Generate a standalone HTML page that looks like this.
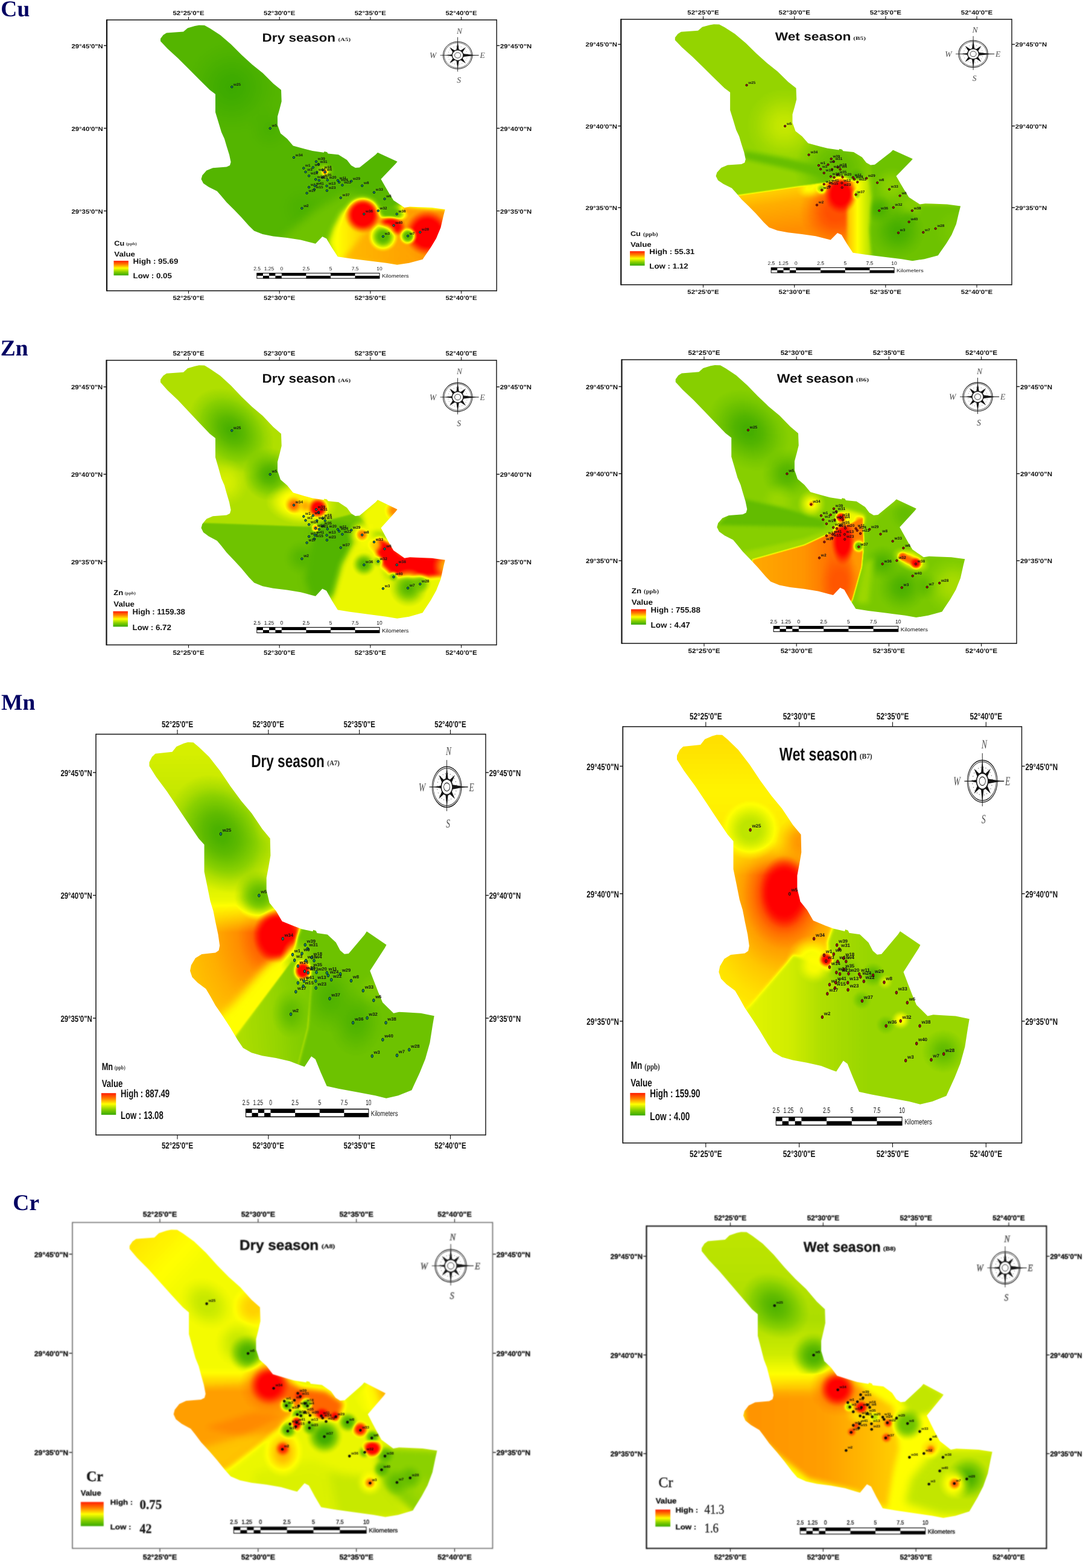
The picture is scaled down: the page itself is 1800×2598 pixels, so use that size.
<!DOCTYPE html>
<html lang="en"><head><meta charset="utf-8"><title>Spatial distribution of Cu, Zn, Mn, Cr</title>
<style>html,body{margin:0;padding:0;background:#fff}body{width:1800px;height:2598px;overflow:hidden}svg{display:block}text{white-space:pre}.pb text{stroke:#111;stroke-width:.3px}.pb text.wl{stroke:none}</style>
</head><body>
<svg width="1800" height="2598" viewBox="0 0 1800 2598" text-rendering="geometricPrecision">
<defs>
<clipPath id="clip1"><path transform="matrix(1.0000,0,0,1.0000,0,0)" d="M266 64 L270.5 58 L276 54.5 L304 52.5 L311 46.5 L323 43 L330 41.7 L339 42 L348 47 L365 58 L383 73.5 L400.5 91 L418 107 L435.5 121 L453 138.5 L466 149 L466.7 168 L463.5 180.5 L460 193 L460 207 L465 221 L476 230 L485.8 241.4 L505 246.7 L518 250 L536.7 252.8 L537.5 251 L542 252 L543.7 254.6 L561 256.3 L575 265 L582 274 L589 278 L596 277.4 L622.6 256.3 L626 252.8 L658.6 267.7 L656 271 L631.4 296.7 L638.4 309 L645.4 321 L648 325 L652.3 332 L661.4 338 L670.4 344 L679.4 342.6 L690 343 L715.5 344 L737.7 347 L735 357.6 L730.5 377 L723 395 L714 410 L703.5 425.3 L700.5 429.8 L678 435.8 L658.3 438.8 L640.3 435.8 L610 432 L580 428.3 L559.8 425.3 L550 410.2 L541 395.2 L534.3 392 L523 403.7 L516 402 L498.4 397.5 L475.6 394 L452.8 391.4 L435.3 388 L421.2 382.6 L412.5 374 L400 360 L388 347.5 L375.6 335.3 L366.8 324.7 L359.8 316.8 L345.8 309.8 L337 303.7 L333.5 296.7 L335.3 290.5 L342.3 282.6 L352.8 278.2 L375.6 276.5 L381 274 L382.6 268.6 L380 256.3 L375.6 242.3 L372 230 L367 219 L361.8 201.7 L357 186 L357 156 L347.7 149 L330 131.5 L312.6 114 L295 96.4 L277.5 80.6 L266 68.3Z"/></clipPath>
<filter id="ramp1" filterUnits="userSpaceOnUse" x="254" y="29.7" width="495.7" height="421.1" color-interpolation-filters="sRGB"><feGaussianBlur stdDeviation="1.2"/><feComponentTransfer><feFuncR type="table" tableValues="0.220 0.302 0.384 0.463 0.545 0.659 0.773 0.886 1.000 1.000 1.000 1.000 1.000 1.000 1.000 1.000 1.000"/><feFuncG type="table" tableValues="0.659 0.698 0.737 0.780 0.820 0.863 0.910 0.957 1.000 0.875 0.753 0.627 0.502 0.376 0.251 0.125 0.000"/><feFuncB type="table" tableValues="0.000 0.000 0.000 0.000 0.000 0.000 0.000 0.000 0.000 0.000 0.000 0.000 0.000 0.000 0.000 0.000 0.000"/></feComponentTransfer></filter>
<radialGradient id="rg1" gradientUnits="userSpaceOnUse" cx="384" cy="144" r="80"><stop offset="0" stop-color="#000000" stop-opacity="0.9"/><stop offset="0.25" stop-color="#000000" stop-opacity="0.72"/><stop offset="0.5" stop-color="#000000" stop-opacity="0.45"/><stop offset="0.75" stop-color="#000000" stop-opacity="0.18"/><stop offset="1" stop-color="#000000" stop-opacity="0"/></radialGradient>
<radialGradient id="rg2" gradientUnits="userSpaceOnUse" cx="447" cy="213" r="40"><stop offset="0" stop-color="#080808" stop-opacity="0.6"/><stop offset="0.25" stop-color="#080808" stop-opacity="0.48"/><stop offset="0.5" stop-color="#080808" stop-opacity="0.3"/><stop offset="0.75" stop-color="#080808" stop-opacity="0.12"/><stop offset="1" stop-color="#080808" stop-opacity="0"/></radialGradient>
<radialGradient id="rg3" gradientUnits="userSpaceOnUse" cx="500" cy="345" r="40"><stop offset="0" stop-color="#080808" stop-opacity="0.5"/><stop offset="0.25" stop-color="#080808" stop-opacity="0.4"/><stop offset="0.5" stop-color="#080808" stop-opacity="0.25"/><stop offset="0.75" stop-color="#080808" stop-opacity="0.1"/><stop offset="1" stop-color="#080808" stop-opacity="0"/></radialGradient>
<filter id="b7" x="-50%" y="-50%" width="200%" height="200%" color-interpolation-filters="sRGB"><feGaussianBlur stdDeviation="7"/></filter>
<linearGradient id="lg4" gradientUnits="userSpaceOnUse" x1="546" y1="390" x2="740" y2="390"><stop offset="0" stop-color="#787878"/><stop offset="0.25" stop-color="#949494"/><stop offset="0.6" stop-color="#adadad"/><stop offset="1" stop-color="#b8b8b8"/></linearGradient>
<filter id="b4" x="-50%" y="-50%" width="200%" height="200%" color-interpolation-filters="sRGB"><feGaussianBlur stdDeviation="4"/></filter>
<filter id="b5" x="-50%" y="-50%" width="200%" height="200%" color-interpolation-filters="sRGB"><feGaussianBlur stdDeviation="5"/></filter>
<radialGradient id="rg5" gradientUnits="userSpaceOnUse" cx="640" cy="332" r="36" gradientTransform="translate(640,332) rotate(0) scale(1,0.8000) translate(-640,-332)"><stop offset="0" stop-color="#1a1a1a"/><stop offset="0.4" stop-color="#1a1a1a"/><stop offset="0.55" stop-color="#1a1a1a" stop-opacity="0.8"/><stop offset="0.7" stop-color="#1a1a1a" stop-opacity="0.5"/><stop offset="0.85" stop-color="#1a1a1a" stop-opacity="0.2"/><stop offset="1" stop-color="#1a1a1a" stop-opacity="0"/></radialGradient>
<radialGradient id="rg6" gradientUnits="userSpaceOnUse" cx="646" cy="352" r="32" gradientTransform="translate(646,352) rotate(10) scale(1,0.4500) translate(-646,-352)"><stop offset="0" stop-color="#1f1f1f"/><stop offset="0.4" stop-color="#1f1f1f"/><stop offset="0.55" stop-color="#1f1f1f" stop-opacity="0.8"/><stop offset="0.7" stop-color="#1f1f1f" stop-opacity="0.5"/><stop offset="0.85" stop-color="#1f1f1f" stop-opacity="0.2"/><stop offset="1" stop-color="#1f1f1f" stop-opacity="0"/></radialGradient>
<radialGradient id="rg7" gradientUnits="userSpaceOnUse" cx="538" cy="284" r="16"><stop offset="0" stop-color="#737373" stop-opacity="0.9"/><stop offset="0.25" stop-color="#737373" stop-opacity="0.72"/><stop offset="0.5" stop-color="#737373" stop-opacity="0.45"/><stop offset="0.75" stop-color="#737373" stop-opacity="0.18"/><stop offset="1" stop-color="#737373" stop-opacity="0"/></radialGradient>
<radialGradient id="rg8" gradientUnits="userSpaceOnUse" cx="538.5" cy="285" r="6"><stop offset="0" stop-color="#d9d9d9"/><stop offset="0.3" stop-color="#d9d9d9"/><stop offset="0.47" stop-color="#d9d9d9" stop-opacity="0.8"/><stop offset="0.65" stop-color="#d9d9d9" stop-opacity="0.5"/><stop offset="0.82" stop-color="#d9d9d9" stop-opacity="0.2"/><stop offset="1" stop-color="#d9d9d9" stop-opacity="0"/></radialGradient>
<radialGradient id="rg9" gradientUnits="userSpaceOnUse" cx="601.5" cy="356" r="36"><stop offset="0" stop-color="#999999" stop-opacity="0.8"/><stop offset="0.3" stop-color="#999999" stop-opacity="0.8"/><stop offset="0.47" stop-color="#999999" stop-opacity="0.64"/><stop offset="0.65" stop-color="#999999" stop-opacity="0.4"/><stop offset="0.82" stop-color="#999999" stop-opacity="0.16"/><stop offset="1" stop-color="#999999" stop-opacity="0"/></radialGradient>
<radialGradient id="rg10" gradientUnits="userSpaceOnUse" cx="601.5" cy="356" r="31"><stop offset="0" stop-color="#ffffff"/><stop offset="0.54" stop-color="#ffffff"/><stop offset="0.66" stop-color="#ffffff" stop-opacity="0.8"/><stop offset="0.77" stop-color="#ffffff" stop-opacity="0.5"/><stop offset="0.89" stop-color="#ffffff" stop-opacity="0.2"/><stop offset="1" stop-color="#ffffff" stop-opacity="0"/></radialGradient>
<radialGradient id="rg11" gradientUnits="userSpaceOnUse" cx="650" cy="374" r="24" gradientTransform="translate(650,374) rotate(15) scale(1,0.7000) translate(-650,-374)"><stop offset="0" stop-color="#ffffff"/><stop offset="0.5" stop-color="#ffffff"/><stop offset="0.62" stop-color="#ffffff" stop-opacity="0.8"/><stop offset="0.75" stop-color="#ffffff" stop-opacity="0.5"/><stop offset="0.88" stop-color="#ffffff" stop-opacity="0.2"/><stop offset="1" stop-color="#ffffff" stop-opacity="0"/></radialGradient>
<radialGradient id="rg12" gradientUnits="userSpaceOnUse" cx="708" cy="386" r="38"><stop offset="0" stop-color="#ffffff"/><stop offset="0.58" stop-color="#ffffff"/><stop offset="0.68" stop-color="#ffffff" stop-opacity="0.8"/><stop offset="0.79" stop-color="#ffffff" stop-opacity="0.5"/><stop offset="0.9" stop-color="#ffffff" stop-opacity="0.2"/><stop offset="1" stop-color="#ffffff" stop-opacity="0"/></radialGradient>
<radialGradient id="rg13" gradientUnits="userSpaceOnUse" cx="635" cy="392" r="25"><stop offset="0" stop-color="#1a1a1a"/><stop offset="0.3" stop-color="#1a1a1a"/><stop offset="0.47" stop-color="#1a1a1a" stop-opacity="0.8"/><stop offset="0.65" stop-color="#1a1a1a" stop-opacity="0.5"/><stop offset="0.82" stop-color="#1a1a1a" stop-opacity="0.2"/><stop offset="1" stop-color="#1a1a1a" stop-opacity="0"/></radialGradient>
<radialGradient id="rg14" gradientUnits="userSpaceOnUse" cx="676.4" cy="391" r="15"><stop offset="0" stop-color="#1a1a1a"/><stop offset="0.35" stop-color="#1a1a1a"/><stop offset="0.51" stop-color="#1a1a1a" stop-opacity="0.8"/><stop offset="0.68" stop-color="#1a1a1a" stop-opacity="0.5"/><stop offset="0.84" stop-color="#1a1a1a" stop-opacity="0.2"/><stop offset="1" stop-color="#1a1a1a" stop-opacity="0"/></radialGradient>
<linearGradient id="lg15" x1="0" y1="0" x2="0" y2="1"><stop offset="0" stop-color="#ff1a00"/><stop offset="0.25" stop-color="#ff8000"/><stop offset="0.5" stop-color="#ffff00"/><stop offset="0.75" stop-color="#8bd100"/><stop offset="1" stop-color="#38a800"/></linearGradient>
<clipPath id="clip2"><path transform="matrix(1.0033,0,0,0.9872,851.96,-1.04)" d="M266 64 L270.5 58 L276 54.5 L304 52.5 L311 46.5 L323 43 L330 41.7 L339 42 L348 47 L365 58 L383 73.5 L400.5 91 L418 107 L435.5 121 L453 138.5 L466 149 L466.7 168 L463.5 180.5 L460 193 L460 207 L465 221 L476 230 L485.8 241.4 L505 246.7 L518 250 L536.7 252.8 L537.5 251 L542 252 L543.7 254.6 L561 256.3 L575 265 L582 274 L589 278 L596 277.4 L622.6 256.3 L626 252.8 L658.6 267.7 L656 271 L631.4 296.7 L638.4 309 L645.4 321 L648 325 L652.3 332 L661.4 338 L670.4 344 L679.4 342.6 L690 343 L715.5 344 L737.7 347 L735 357.6 L730.5 377 L723 395 L714 410 L703.5 425.3 L700.5 429.8 L678 435.8 L658.3 438.8 L640.3 435.8 L610 432 L580 428.3 L559.8 425.3 L550 410.2 L541 395.2 L534.3 392 L523 403.7 L516 402 L498.4 397.5 L475.6 394 L452.8 391.4 L435.3 388 L421.2 382.6 L412.5 374 L400 360 L388 347.5 L375.6 335.3 L366.8 324.7 L359.8 316.8 L345.8 309.8 L337 303.7 L333.5 296.7 L335.3 290.5 L342.3 282.6 L352.8 278.2 L375.6 276.5 L381 274 L382.6 268.6 L380 256.3 L375.6 242.3 L372 230 L367 219 L361.8 201.7 L357 186 L357 156 L347.7 149 L330 131.5 L312.6 114 L295 96.4 L277.5 80.6 L266 68.3Z"/></clipPath>
<filter id="ramp2" filterUnits="userSpaceOnUse" x="1106.85" y="28.13" width="497.27" height="416.03" color-interpolation-filters="sRGB"><feGaussianBlur stdDeviation="1.2"/><feComponentTransfer><feFuncR type="table" tableValues="0.220 0.302 0.384 0.463 0.545 0.659 0.773 0.886 1.000 1.000 1.000 1.000 1.000 1.000 1.000 1.000 1.000"/><feFuncG type="table" tableValues="0.659 0.698 0.737 0.780 0.820 0.863 0.910 0.957 1.000 0.875 0.753 0.627 0.502 0.376 0.251 0.125 0.000"/><feFuncB type="table" tableValues="0.000 0.000 0.000 0.000 0.000 0.000 0.000 0.000 0.000 0.000 0.000 0.000 0.000 0.000 0.000 0.000 0.000"/></feComponentTransfer></filter>
<radialGradient id="rg16" gradientUnits="userSpaceOnUse" cx="1300" cy="208" r="62"><stop offset="0" stop-color="#616161"/><stop offset="0.05" stop-color="#616161"/><stop offset="0.29" stop-color="#616161" stop-opacity="0.8"/><stop offset="0.53" stop-color="#616161" stop-opacity="0.5"/><stop offset="0.76" stop-color="#616161" stop-opacity="0.2"/><stop offset="1" stop-color="#616161" stop-opacity="0"/></radialGradient>
<radialGradient id="rg17" gradientUnits="userSpaceOnUse" cx="1388" cy="280" r="72"><stop offset="0" stop-color="#242424"/><stop offset="0.3" stop-color="#242424"/><stop offset="0.47" stop-color="#242424" stop-opacity="0.8"/><stop offset="0.65" stop-color="#242424" stop-opacity="0.5"/><stop offset="0.82" stop-color="#242424" stop-opacity="0.2"/><stop offset="1" stop-color="#242424" stop-opacity="0"/></radialGradient>
<filter id="b3" x="-50%" y="-50%" width="200%" height="200%" color-interpolation-filters="sRGB"><feGaussianBlur stdDeviation="3"/></filter>
<filter id="b2_5" x="-50%" y="-50%" width="200%" height="200%" color-interpolation-filters="sRGB"><feGaussianBlur stdDeviation="2.5"/></filter>
<radialGradient id="rg18" gradientUnits="userSpaceOnUse" cx="1478" cy="308" r="32"><stop offset="0" stop-color="#454545" stop-opacity="0.8"/><stop offset="0.2" stop-color="#454545" stop-opacity="0.8"/><stop offset="0.4" stop-color="#454545" stop-opacity="0.64"/><stop offset="0.6" stop-color="#454545" stop-opacity="0.4"/><stop offset="0.8" stop-color="#454545" stop-opacity="0.16"/><stop offset="1" stop-color="#454545" stop-opacity="0"/></radialGradient>
<radialGradient id="rg19" gradientUnits="userSpaceOnUse" cx="1508" cy="340" r="26"><stop offset="0" stop-color="#404040" stop-opacity="0.7"/><stop offset="0.2" stop-color="#404040" stop-opacity="0.7"/><stop offset="0.4" stop-color="#404040" stop-opacity="0.56"/><stop offset="0.6" stop-color="#404040" stop-opacity="0.35"/><stop offset="0.8" stop-color="#404040" stop-opacity="0.14"/><stop offset="1" stop-color="#404040" stop-opacity="0"/></radialGradient>
<radialGradient id="rg20" gradientUnits="userSpaceOnUse" cx="1488" cy="383" r="45"><stop offset="0" stop-color="#0a0a0a"/><stop offset="0.1" stop-color="#0a0a0a"/><stop offset="0.33" stop-color="#0a0a0a" stop-opacity="0.8"/><stop offset="0.55" stop-color="#0a0a0a" stop-opacity="0.5"/><stop offset="0.78" stop-color="#0a0a0a" stop-opacity="0.2"/><stop offset="1" stop-color="#0a0a0a" stop-opacity="0"/></radialGradient>
<radialGradient id="rg21" gradientUnits="userSpaceOnUse" cx="1457" cy="347" r="24"><stop offset="0" stop-color="#0d0d0d"/><stop offset="0.1" stop-color="#0d0d0d"/><stop offset="0.33" stop-color="#0d0d0d" stop-opacity="0.8"/><stop offset="0.55" stop-color="#0d0d0d" stop-opacity="0.5"/><stop offset="0.78" stop-color="#0d0d0d" stop-opacity="0.2"/><stop offset="1" stop-color="#0d0d0d" stop-opacity="0"/></radialGradient>
<radialGradient id="rg22" gradientUnits="userSpaceOnUse" cx="1506" cy="365" r="16"><stop offset="0" stop-color="#121212" stop-opacity="0.8"/><stop offset="0.1" stop-color="#121212" stop-opacity="0.8"/><stop offset="0.33" stop-color="#121212" stop-opacity="0.64"/><stop offset="0.55" stop-color="#121212" stop-opacity="0.4"/><stop offset="0.78" stop-color="#121212" stop-opacity="0.16"/><stop offset="1" stop-color="#121212" stop-opacity="0"/></radialGradient>
<radialGradient id="rg23" gradientUnits="userSpaceOnUse" cx="1420" cy="292" r="14"><stop offset="0" stop-color="#0f0f0f" stop-opacity="0.9"/><stop offset="0.1" stop-color="#0f0f0f" stop-opacity="0.9"/><stop offset="0.33" stop-color="#0f0f0f" stop-opacity="0.72"/><stop offset="0.55" stop-color="#0f0f0f" stop-opacity="0.45"/><stop offset="0.78" stop-color="#0f0f0f" stop-opacity="0.18"/><stop offset="1" stop-color="#0f0f0f" stop-opacity="0"/></radialGradient>
<radialGradient id="rg24" gradientUnits="userSpaceOnUse" cx="1585" cy="382" r="40"><stop offset="0" stop-color="#333333" stop-opacity="0.8"/><stop offset="0.2" stop-color="#333333" stop-opacity="0.8"/><stop offset="0.4" stop-color="#333333" stop-opacity="0.64"/><stop offset="0.6" stop-color="#333333" stop-opacity="0.4"/><stop offset="0.8" stop-color="#333333" stop-opacity="0.16"/><stop offset="1" stop-color="#333333" stop-opacity="0"/></radialGradient>
<radialGradient id="rg25" gradientUnits="userSpaceOnUse" cx="1545" cy="300" r="30"><stop offset="0" stop-color="#333333" stop-opacity="0.6"/><stop offset="0.2" stop-color="#333333" stop-opacity="0.6"/><stop offset="0.4" stop-color="#333333" stop-opacity="0.48"/><stop offset="0.6" stop-color="#333333" stop-opacity="0.3"/><stop offset="0.8" stop-color="#333333" stop-opacity="0.12"/><stop offset="1" stop-color="#333333" stop-opacity="0"/></radialGradient>
<clipPath id="sc26"><polygon points="1215,324.5 1357,304 1388,300 1420,300 1420,440 1215,440"/></clipPath>
<linearGradient id="lg27" gradientUnits="userSpaceOnUse" x1="1300" y1="315" x2="1310" y2="380"><stop offset="0" stop-color="#999999"/><stop offset="0.3" stop-color="#a8a8a8"/><stop offset="1" stop-color="#b8b8b8"/></linearGradient>
<radialGradient id="rg28" gradientUnits="userSpaceOnUse" cx="1350" cy="312" r="30" gradientTransform="translate(1350,312) rotate(-8) scale(1,0.6000) translate(-1350,-312)"><stop offset="0" stop-color="#737373" stop-opacity="0.9"/><stop offset="0.2" stop-color="#737373" stop-opacity="0.9"/><stop offset="0.4" stop-color="#737373" stop-opacity="0.72"/><stop offset="0.6" stop-color="#737373" stop-opacity="0.45"/><stop offset="0.8" stop-color="#737373" stop-opacity="0.18"/><stop offset="1" stop-color="#737373" stop-opacity="0"/></radialGradient>
<radialGradient id="rg29" gradientUnits="userSpaceOnUse" cx="1385" cy="350" r="60"><stop offset="0" stop-color="#dbdbdb" stop-opacity="0.9"/><stop offset="0.25" stop-color="#dbdbdb" stop-opacity="0.9"/><stop offset="0.44" stop-color="#dbdbdb" stop-opacity="0.72"/><stop offset="0.62" stop-color="#dbdbdb" stop-opacity="0.45"/><stop offset="0.81" stop-color="#dbdbdb" stop-opacity="0.18"/><stop offset="1" stop-color="#dbdbdb" stop-opacity="0"/></radialGradient>
<linearGradient id="lg30" gradientUnits="userSpaceOnUse" x1="1406" y1="360" x2="1444" y2="360"><stop offset="0" stop-color="#9e9e9e"/><stop offset="0.4" stop-color="#808080"/><stop offset="1" stop-color="#545454"/></linearGradient>
<filter id="b2" x="-50%" y="-50%" width="200%" height="200%" color-interpolation-filters="sRGB"><feGaussianBlur stdDeviation="2"/></filter>
<radialGradient id="rg31" gradientUnits="userSpaceOnUse" cx="1418" cy="322" r="9"><stop offset="0" stop-color="#262626"/><stop offset="0.2" stop-color="#262626"/><stop offset="0.4" stop-color="#262626" stop-opacity="0.8"/><stop offset="0.6" stop-color="#262626" stop-opacity="0.5"/><stop offset="0.8" stop-color="#262626" stop-opacity="0.2"/><stop offset="1" stop-color="#262626" stop-opacity="0"/></radialGradient>
<radialGradient id="rg32" gradientUnits="userSpaceOnUse" cx="1362" cy="313" r="10"><stop offset="0" stop-color="#404040"/><stop offset="0.2" stop-color="#404040"/><stop offset="0.4" stop-color="#404040" stop-opacity="0.8"/><stop offset="0.6" stop-color="#404040" stop-opacity="0.5"/><stop offset="0.8" stop-color="#404040" stop-opacity="0.2"/><stop offset="1" stop-color="#404040" stop-opacity="0"/></radialGradient>
<radialGradient id="rg33" gradientUnits="userSpaceOnUse" cx="1393.3" cy="321" r="28" gradientTransform="translate(1393.3,321) rotate(0) scale(1,1.2000) translate(-1393.3,-321)"><stop offset="0" stop-color="#ffffff"/><stop offset="0.52" stop-color="#ffffff"/><stop offset="0.64" stop-color="#ffffff" stop-opacity="0.8"/><stop offset="0.76" stop-color="#ffffff" stop-opacity="0.5"/><stop offset="0.88" stop-color="#ffffff" stop-opacity="0.2"/><stop offset="1" stop-color="#ffffff" stop-opacity="0"/></radialGradient>
<linearGradient id="lg34" x1="0" y1="0" x2="0" y2="1"><stop offset="0" stop-color="#ff1a00"/><stop offset="0.25" stop-color="#ff8000"/><stop offset="0.5" stop-color="#ffff00"/><stop offset="0.75" stop-color="#8bd100"/><stop offset="1" stop-color="#38a800"/></linearGradient>
<clipPath id="clip3"><path transform="matrix(1.0000,0,0,1.0566,0,561.23)" d="M266 64 L270.5 58 L276 54.5 L304 52.5 L311 46.5 L323 43 L330 41.7 L339 42 L348 47 L365 58 L383 73.5 L400.5 91 L418 107 L435.5 121 L453 138.5 L466 149 L466.7 168 L463.5 180.5 L460 193 L460 207 L465 221 L476 230 L485.8 241.4 L505 246.7 L518 250 L536.7 252.8 L537.5 251 L542 252 L543.7 254.6 L561 256.3 L575 265 L582 274 L589 278 L596 277.4 L622.6 256.3 L626 252.8 L658.6 267.7 L656 271 L631.4 296.7 L638.4 309 L645.4 321 L648 325 L652.3 332 L661.4 338 L670.4 344 L679.4 342.6 L690 343 L715.5 344 L737.7 347 L735 357.6 L730.5 377 L723 395 L714 410 L703.5 425.3 L700.5 429.8 L678 435.8 L658.3 438.8 L640.3 435.8 L610 432 L580 428.3 L559.8 425.3 L550 410.2 L541 395.2 L534.3 392 L523 403.7 L516 402 L498.4 397.5 L475.6 394 L452.8 391.4 L435.3 388 L421.2 382.6 L412.5 374 L400 360 L388 347.5 L375.6 335.3 L366.8 324.7 L359.8 316.8 L345.8 309.8 L337 303.7 L333.5 296.7 L335.3 290.5 L342.3 282.6 L352.8 278.2 L375.6 276.5 L381 274 L382.6 268.6 L380 256.3 L375.6 242.3 L372 230 L367 219 L361.8 201.7 L357 186 L357 156 L347.7 149 L330 131.5 L312.6 114 L295 96.4 L277.5 80.6 L266 68.3Z"/></clipPath>
<filter id="ramp3" filterUnits="userSpaceOnUse" x="254" y="593.29" width="495.7" height="443.56" color-interpolation-filters="sRGB"><feGaussianBlur stdDeviation="1.2"/><feComponentTransfer><feFuncR type="table" tableValues="0.220 0.302 0.384 0.463 0.545 0.659 0.773 0.886 1.000 1.000 1.000 1.000 1.000 1.000 1.000 1.000 1.000"/><feFuncG type="table" tableValues="0.659 0.698 0.737 0.780 0.820 0.863 0.910 0.957 1.000 0.875 0.753 0.627 0.502 0.376 0.251 0.125 0.000"/><feFuncB type="table" tableValues="0.000 0.000 0.000 0.000 0.000 0.000 0.000 0.000 0.000 0.000 0.000 0.000 0.000 0.000 0.000 0.000 0.000"/></feComponentTransfer></filter>
<radialGradient id="rg35" gradientUnits="userSpaceOnUse" cx="383.3" cy="713.3" r="80" gradientTransform="translate(383.3,713.3) rotate(45) scale(1,0.7500) translate(-383.3,-713.3)"><stop offset="0" stop-color="#0d0d0d"/><stop offset="0.08" stop-color="#0d0d0d"/><stop offset="0.31" stop-color="#0d0d0d" stop-opacity="0.8"/><stop offset="0.54" stop-color="#0d0d0d" stop-opacity="0.5"/><stop offset="0.77" stop-color="#0d0d0d" stop-opacity="0.2"/><stop offset="1" stop-color="#0d0d0d" stop-opacity="0"/></radialGradient>
<radialGradient id="rg36" gradientUnits="userSpaceOnUse" cx="446.7" cy="786" r="44"><stop offset="0" stop-color="#0f0f0f"/><stop offset="0.1" stop-color="#0f0f0f"/><stop offset="0.33" stop-color="#0f0f0f" stop-opacity="0.8"/><stop offset="0.55" stop-color="#0f0f0f" stop-opacity="0.5"/><stop offset="0.78" stop-color="#0f0f0f" stop-opacity="0.2"/><stop offset="1" stop-color="#0f0f0f" stop-opacity="0"/></radialGradient>
<radialGradient id="rg37" gradientUnits="userSpaceOnUse" cx="372" cy="800" r="40"><stop offset="0" stop-color="#6e6e6e" stop-opacity="0.8"/><stop offset="0.2" stop-color="#6e6e6e" stop-opacity="0.8"/><stop offset="0.4" stop-color="#6e6e6e" stop-opacity="0.64"/><stop offset="0.6" stop-color="#6e6e6e" stop-opacity="0.4"/><stop offset="0.8" stop-color="#6e6e6e" stop-opacity="0.16"/><stop offset="1" stop-color="#6e6e6e" stop-opacity="0"/></radialGradient>
<clipPath id="sc38"><polygon points="320,866 517,873 545,862 590,850 620,880 600,1010 300,1010"/></clipPath>
<filter id="b6" x="-50%" y="-50%" width="200%" height="200%" color-interpolation-filters="sRGB"><feGaussianBlur stdDeviation="6"/></filter>
<radialGradient id="rg39" gradientUnits="userSpaceOnUse" cx="500" cy="924" r="30"><stop offset="0" stop-color="#141414" stop-opacity="0.9"/><stop offset="0.1" stop-color="#141414" stop-opacity="0.9"/><stop offset="0.33" stop-color="#141414" stop-opacity="0.72"/><stop offset="0.55" stop-color="#141414" stop-opacity="0.45"/><stop offset="0.78" stop-color="#141414" stop-opacity="0.18"/><stop offset="1" stop-color="#141414" stop-opacity="0"/></radialGradient>
<radialGradient id="rg40" gradientUnits="userSpaceOnUse" cx="500" cy="834" r="60" gradientTransform="translate(500,834) rotate(5) scale(1,0.6000) translate(-500,-834)"><stop offset="0" stop-color="#858585"/><stop offset="0.4" stop-color="#858585"/><stop offset="0.55" stop-color="#858585" stop-opacity="0.8"/><stop offset="0.7" stop-color="#858585" stop-opacity="0.5"/><stop offset="0.85" stop-color="#858585" stop-opacity="0.2"/><stop offset="1" stop-color="#858585" stop-opacity="0"/></radialGradient>
<radialGradient id="rg41" gradientUnits="userSpaceOnUse" cx="487" cy="837" r="15"><stop offset="0" stop-color="#cccccc"/><stop offset="0.2" stop-color="#cccccc"/><stop offset="0.4" stop-color="#cccccc" stop-opacity="0.8"/><stop offset="0.6" stop-color="#cccccc" stop-opacity="0.5"/><stop offset="0.8" stop-color="#cccccc" stop-opacity="0.2"/><stop offset="1" stop-color="#cccccc" stop-opacity="0"/></radialGradient>
<radialGradient id="rg42" gradientUnits="userSpaceOnUse" cx="527" cy="842" r="18"><stop offset="0" stop-color="#ffffff"/><stop offset="0.45" stop-color="#ffffff"/><stop offset="0.59" stop-color="#ffffff" stop-opacity="0.8"/><stop offset="0.73" stop-color="#ffffff" stop-opacity="0.5"/><stop offset="0.86" stop-color="#ffffff" stop-opacity="0.2"/><stop offset="1" stop-color="#ffffff" stop-opacity="0"/></radialGradient>
<radialGradient id="rg43" gradientUnits="userSpaceOnUse" cx="506" cy="838" r="12"><stop offset="0" stop-color="#b2b2b2" stop-opacity="0.8"/><stop offset="0.2" stop-color="#b2b2b2" stop-opacity="0.8"/><stop offset="0.4" stop-color="#b2b2b2" stop-opacity="0.64"/><stop offset="0.6" stop-color="#b2b2b2" stop-opacity="0.4"/><stop offset="0.8" stop-color="#b2b2b2" stop-opacity="0.16"/><stop offset="1" stop-color="#b2b2b2" stop-opacity="0"/></radialGradient>
<radialGradient id="rg44" gradientUnits="userSpaceOnUse" cx="523" cy="875" r="8"><stop offset="0" stop-color="#c7c7c7"/><stop offset="0.3" stop-color="#c7c7c7"/><stop offset="0.47" stop-color="#c7c7c7" stop-opacity="0.8"/><stop offset="0.65" stop-color="#c7c7c7" stop-opacity="0.5"/><stop offset="0.82" stop-color="#c7c7c7" stop-opacity="0.2"/><stop offset="1" stop-color="#c7c7c7" stop-opacity="0"/></radialGradient>
<radialGradient id="rg45" gradientUnits="userSpaceOnUse" cx="655" cy="846" r="18"><stop offset="0" stop-color="#b8b8b8"/><stop offset="0.3" stop-color="#b8b8b8"/><stop offset="0.47" stop-color="#b8b8b8" stop-opacity="0.8"/><stop offset="0.65" stop-color="#b8b8b8" stop-opacity="0.5"/><stop offset="0.82" stop-color="#b8b8b8" stop-opacity="0.2"/><stop offset="1" stop-color="#b8b8b8" stop-opacity="0"/></radialGradient>
<radialGradient id="rg46" gradientUnits="userSpaceOnUse" cx="600" cy="886" r="26"><stop offset="0" stop-color="#808080"/><stop offset="0.3" stop-color="#808080"/><stop offset="0.47" stop-color="#808080" stop-opacity="0.8"/><stop offset="0.65" stop-color="#808080" stop-opacity="0.5"/><stop offset="0.82" stop-color="#808080" stop-opacity="0.2"/><stop offset="1" stop-color="#808080" stop-opacity="0"/></radialGradient>
<radialGradient id="rg47" gradientUnits="userSpaceOnUse" cx="600" cy="886" r="11"><stop offset="0" stop-color="#c2c2c2"/><stop offset="0.3" stop-color="#c2c2c2"/><stop offset="0.47" stop-color="#c2c2c2" stop-opacity="0.8"/><stop offset="0.65" stop-color="#c2c2c2" stop-opacity="0.5"/><stop offset="0.82" stop-color="#c2c2c2" stop-opacity="0.2"/><stop offset="1" stop-color="#c2c2c2" stop-opacity="0"/></radialGradient>
<radialGradient id="rg48" gradientUnits="userSpaceOnUse" cx="742" cy="938" r="26"><stop offset="0" stop-color="#a8a8a8" stop-opacity="0.95"/><stop offset="0.3" stop-color="#a8a8a8" stop-opacity="0.95"/><stop offset="0.47" stop-color="#a8a8a8" stop-opacity="0.76"/><stop offset="0.65" stop-color="#a8a8a8" stop-opacity="0.47"/><stop offset="0.82" stop-color="#a8a8a8" stop-opacity="0.19"/><stop offset="1" stop-color="#a8a8a8" stop-opacity="0"/></radialGradient>
<radialGradient id="rg49" gradientUnits="userSpaceOnUse" cx="622" cy="903" r="14"><stop offset="0" stop-color="#9e9e9e" stop-opacity="0.9"/><stop offset="0.2" stop-color="#9e9e9e" stop-opacity="0.9"/><stop offset="0.4" stop-color="#9e9e9e" stop-opacity="0.72"/><stop offset="0.6" stop-color="#9e9e9e" stop-opacity="0.45"/><stop offset="0.8" stop-color="#9e9e9e" stop-opacity="0.18"/><stop offset="1" stop-color="#9e9e9e" stop-opacity="0"/></radialGradient>
<radialGradient id="rg50" gradientUnits="userSpaceOnUse" cx="603.3" cy="935" r="20"><stop offset="0" stop-color="#141414"/><stop offset="0.2" stop-color="#141414"/><stop offset="0.4" stop-color="#141414" stop-opacity="0.8"/><stop offset="0.6" stop-color="#141414" stop-opacity="0.5"/><stop offset="0.8" stop-color="#141414" stop-opacity="0.2"/><stop offset="1" stop-color="#141414" stop-opacity="0"/></radialGradient>
<radialGradient id="rg51" gradientUnits="userSpaceOnUse" cx="627" cy="930" r="10"><stop offset="0" stop-color="#383838" stop-opacity="0.9"/><stop offset="0.2" stop-color="#383838" stop-opacity="0.9"/><stop offset="0.4" stop-color="#383838" stop-opacity="0.72"/><stop offset="0.6" stop-color="#383838" stop-opacity="0.45"/><stop offset="0.8" stop-color="#383838" stop-opacity="0.18"/><stop offset="1" stop-color="#383838" stop-opacity="0"/></radialGradient>
<radialGradient id="rg52" gradientUnits="userSpaceOnUse" cx="652" cy="955" r="9"><stop offset="0" stop-color="#333333"/><stop offset="0.3" stop-color="#333333"/><stop offset="0.47" stop-color="#333333" stop-opacity="0.8"/><stop offset="0.65" stop-color="#333333" stop-opacity="0.5"/><stop offset="0.82" stop-color="#333333" stop-opacity="0.2"/><stop offset="1" stop-color="#333333" stop-opacity="0"/></radialGradient>
<radialGradient id="rg53" gradientUnits="userSpaceOnUse" cx="677" cy="974" r="32"><stop offset="0" stop-color="#1a1a1a"/><stop offset="0.15" stop-color="#1a1a1a"/><stop offset="0.36" stop-color="#1a1a1a" stop-opacity="0.8"/><stop offset="0.57" stop-color="#1a1a1a" stop-opacity="0.5"/><stop offset="0.79" stop-color="#1a1a1a" stop-opacity="0.2"/><stop offset="1" stop-color="#1a1a1a" stop-opacity="0"/></radialGradient>
<radialGradient id="rg54" gradientUnits="userSpaceOnUse" cx="697" cy="966" r="18"><stop offset="0" stop-color="#292929" stop-opacity="0.9"/><stop offset="0.2" stop-color="#292929" stop-opacity="0.9"/><stop offset="0.4" stop-color="#292929" stop-opacity="0.72"/><stop offset="0.6" stop-color="#292929" stop-opacity="0.45"/><stop offset="0.8" stop-color="#292929" stop-opacity="0.18"/><stop offset="1" stop-color="#292929" stop-opacity="0"/></radialGradient>
<linearGradient id="lg55" x1="0" y1="0" x2="0" y2="1"><stop offset="0" stop-color="#ff1a00"/><stop offset="0.25" stop-color="#ff8000"/><stop offset="0.5" stop-color="#ffff00"/><stop offset="0.75" stop-color="#8bd100"/><stop offset="1" stop-color="#38a800"/></linearGradient>
<clipPath id="clip4"><path transform="matrix(1.0166,0,0,1.0529,849.31,561)" d="M266 64 L270.5 58 L276 54.5 L304 52.5 L311 46.5 L323 43 L330 41.7 L339 42 L348 47 L365 58 L383 73.5 L400.5 91 L418 107 L435.5 121 L453 138.5 L466 149 L466.7 168 L463.5 180.5 L460 193 L460 207 L465 221 L476 230 L485.8 241.4 L505 246.7 L518 250 L536.7 252.8 L537.5 251 L542 252 L543.7 254.6 L561 256.3 L575 265 L582 274 L589 278 L596 277.4 L622.6 256.3 L626 252.8 L658.6 267.7 L656 271 L631.4 296.7 L638.4 309 L645.4 321 L648 325 L652.3 332 L661.4 338 L670.4 344 L679.4 342.6 L690 343 L715.5 344 L737.7 347 L735 357.6 L730.5 377 L723 395 L714 410 L703.5 425.3 L700.5 429.8 L678 435.8 L658.3 438.8 L640.3 435.8 L610 432 L580 428.3 L559.8 425.3 L550 410.2 L541 395.2 L534.3 392 L523 403.7 L516 402 L498.4 397.5 L475.6 394 L452.8 391.4 L435.3 388 L421.2 382.6 L412.5 374 L400 360 L388 347.5 L375.6 335.3 L366.8 324.7 L359.8 316.8 L345.8 309.8 L337 303.7 L333.5 296.7 L335.3 290.5 L342.3 282.6 L352.8 278.2 L375.6 276.5 L381 274 L382.6 268.6 L380 256.3 L375.6 242.3 L372 230 L367 219 L361.8 201.7 L357 186 L357 156 L347.7 149 L330 131.5 L312.6 114 L295 96.4 L277.5 80.6 L266 68.3Z"/></clipPath>
<filter id="ramp4" filterUnits="userSpaceOnUse" x="1107.73" y="592.91" width="503.53" height="442.11" color-interpolation-filters="sRGB"><feGaussianBlur stdDeviation="1.2"/><feComponentTransfer><feFuncR type="table" tableValues="0.220 0.302 0.384 0.463 0.545 0.659 0.773 0.886 1.000 1.000 1.000 1.000 1.000 1.000 1.000 1.000 1.000"/><feFuncG type="table" tableValues="0.659 0.698 0.737 0.780 0.820 0.863 0.910 0.957 1.000 0.875 0.753 0.627 0.502 0.376 0.251 0.125 0.000"/><feFuncB type="table" tableValues="0.000 0.000 0.000 0.000 0.000 0.000 0.000 0.000 0.000 0.000 0.000 0.000 0.000 0.000 0.000 0.000 0.000"/></feComponentTransfer></filter>
<radialGradient id="rg56" gradientUnits="userSpaceOnUse" cx="1240" cy="713" r="75" gradientTransform="translate(1240,713) rotate(45) scale(1,0.8000) translate(-1240,-713)"><stop offset="0" stop-color="#0a0a0a"/><stop offset="0.1" stop-color="#0a0a0a"/><stop offset="0.33" stop-color="#0a0a0a" stop-opacity="0.8"/><stop offset="0.55" stop-color="#0a0a0a" stop-opacity="0.5"/><stop offset="0.78" stop-color="#0a0a0a" stop-opacity="0.2"/><stop offset="1" stop-color="#0a0a0a" stop-opacity="0"/></radialGradient>
<radialGradient id="rg57" gradientUnits="userSpaceOnUse" cx="1305" cy="785" r="42"><stop offset="0" stop-color="#141414"/><stop offset="0.1" stop-color="#141414"/><stop offset="0.33" stop-color="#141414" stop-opacity="0.8"/><stop offset="0.55" stop-color="#141414" stop-opacity="0.5"/><stop offset="0.78" stop-color="#141414" stop-opacity="0.2"/><stop offset="1" stop-color="#141414" stop-opacity="0"/></radialGradient>
<radialGradient id="rg58" gradientUnits="userSpaceOnUse" cx="1290" cy="830" r="30"><stop offset="0" stop-color="#4c4c4c" stop-opacity="0.7"/><stop offset="0.2" stop-color="#4c4c4c" stop-opacity="0.7"/><stop offset="0.4" stop-color="#4c4c4c" stop-opacity="0.56"/><stop offset="0.6" stop-color="#4c4c4c" stop-opacity="0.35"/><stop offset="0.8" stop-color="#4c4c4c" stop-opacity="0.14"/><stop offset="1" stop-color="#4c4c4c" stop-opacity="0"/></radialGradient>
<radialGradient id="rg59" gradientUnits="userSpaceOnUse" cx="1500" cy="852" r="28"><stop offset="0" stop-color="#212121" stop-opacity="0.9"/><stop offset="0.2" stop-color="#212121" stop-opacity="0.9"/><stop offset="0.4" stop-color="#212121" stop-opacity="0.72"/><stop offset="0.6" stop-color="#212121" stop-opacity="0.45"/><stop offset="0.8" stop-color="#212121" stop-opacity="0.18"/><stop offset="1" stop-color="#212121" stop-opacity="0"/></radialGradient>
<radialGradient id="rg60" gradientUnits="userSpaceOnUse" cx="1463" cy="933" r="30"><stop offset="0" stop-color="#121212"/><stop offset="0.1" stop-color="#121212"/><stop offset="0.33" stop-color="#121212" stop-opacity="0.8"/><stop offset="0.55" stop-color="#121212" stop-opacity="0.5"/><stop offset="0.78" stop-color="#121212" stop-opacity="0.2"/><stop offset="1" stop-color="#121212" stop-opacity="0"/></radialGradient>
<radialGradient id="rg61" gradientUnits="userSpaceOnUse" cx="1495" cy="973" r="42"><stop offset="0" stop-color="#0f0f0f"/><stop offset="0.1" stop-color="#0f0f0f"/><stop offset="0.33" stop-color="#0f0f0f" stop-opacity="0.8"/><stop offset="0.55" stop-color="#0f0f0f" stop-opacity="0.5"/><stop offset="0.78" stop-color="#0f0f0f" stop-opacity="0.2"/><stop offset="1" stop-color="#0f0f0f" stop-opacity="0"/></radialGradient>
<radialGradient id="rg62" gradientUnits="userSpaceOnUse" cx="1536" cy="971" r="24"><stop offset="0" stop-color="#1a1a1a" stop-opacity="0.9"/><stop offset="0.1" stop-color="#1a1a1a" stop-opacity="0.9"/><stop offset="0.33" stop-color="#1a1a1a" stop-opacity="0.72"/><stop offset="0.55" stop-color="#1a1a1a" stop-opacity="0.45"/><stop offset="0.78" stop-color="#1a1a1a" stop-opacity="0.18"/><stop offset="1" stop-color="#1a1a1a" stop-opacity="0"/></radialGradient>
<radialGradient id="rg63" gradientUnits="userSpaceOnUse" cx="1580" cy="970" r="50"><stop offset="0" stop-color="#525252" stop-opacity="0.9"/><stop offset="0.2" stop-color="#525252" stop-opacity="0.9"/><stop offset="0.4" stop-color="#525252" stop-opacity="0.72"/><stop offset="0.6" stop-color="#525252" stop-opacity="0.45"/><stop offset="0.8" stop-color="#525252" stop-opacity="0.18"/><stop offset="1" stop-color="#525252" stop-opacity="0"/></radialGradient>
<clipPath id="sc64"><polygon points="1247,927 1333,903 1383,880 1400,872 1430,858 1432,900 1428,940 1413,993 1400,1020 1240,1020"/></clipPath>
<linearGradient id="lg65" gradientUnits="userSpaceOnUse" x1="1250" y1="950" x2="1400" y2="950"><stop offset="0" stop-color="#ababab"/><stop offset="0.55" stop-color="#b5b5b5"/><stop offset="0.85" stop-color="#c7c7c7"/><stop offset="1" stop-color="#c2c2c2"/></linearGradient>
<radialGradient id="rg66" gradientUnits="userSpaceOnUse" cx="1392" cy="965" r="34" gradientTransform="translate(1392,965) rotate(0) scale(1,1.6000) translate(-1392,-965)"><stop offset="0" stop-color="#d6d6d6" stop-opacity="0.9"/><stop offset="0.3" stop-color="#d6d6d6" stop-opacity="0.9"/><stop offset="0.47" stop-color="#d6d6d6" stop-opacity="0.72"/><stop offset="0.65" stop-color="#d6d6d6" stop-opacity="0.45"/><stop offset="0.82" stop-color="#d6d6d6" stop-opacity="0.18"/><stop offset="1" stop-color="#d6d6d6" stop-opacity="0"/></radialGradient>
<radialGradient id="rg67" gradientUnits="userSpaceOnUse" cx="1423.3" cy="905" r="11"><stop offset="0" stop-color="#1f1f1f"/><stop offset="0.3" stop-color="#1f1f1f"/><stop offset="0.47" stop-color="#1f1f1f" stop-opacity="0.8"/><stop offset="0.65" stop-color="#1f1f1f" stop-opacity="0.5"/><stop offset="0.82" stop-color="#1f1f1f" stop-opacity="0.2"/><stop offset="1" stop-color="#1f1f1f" stop-opacity="0"/></radialGradient>
<radialGradient id="rg68" gradientUnits="userSpaceOnUse" cx="1345" cy="835" r="24"><stop offset="0" stop-color="#808080"/><stop offset="0.1" stop-color="#808080"/><stop offset="0.33" stop-color="#808080" stop-opacity="0.8"/><stop offset="0.55" stop-color="#808080" stop-opacity="0.5"/><stop offset="0.78" stop-color="#808080" stop-opacity="0.2"/><stop offset="1" stop-color="#808080" stop-opacity="0"/></radialGradient>
<radialGradient id="rg69" gradientUnits="userSpaceOnUse" cx="1345" cy="835" r="6"><stop offset="0" stop-color="#b2b2b2"/><stop offset="0.3" stop-color="#b2b2b2"/><stop offset="0.47" stop-color="#b2b2b2" stop-opacity="0.8"/><stop offset="0.65" stop-color="#b2b2b2" stop-opacity="0.5"/><stop offset="0.82" stop-color="#b2b2b2" stop-opacity="0.2"/><stop offset="1" stop-color="#b2b2b2" stop-opacity="0"/></radialGradient>
<radialGradient id="rg70" gradientUnits="userSpaceOnUse" cx="1393.3" cy="857" r="10"><stop offset="0" stop-color="#ffffff"/><stop offset="0.4" stop-color="#ffffff"/><stop offset="0.55" stop-color="#ffffff" stop-opacity="0.8"/><stop offset="0.7" stop-color="#ffffff" stop-opacity="0.5"/><stop offset="0.85" stop-color="#ffffff" stop-opacity="0.2"/><stop offset="1" stop-color="#ffffff" stop-opacity="0"/></radialGradient>
<radialGradient id="rg71" gradientUnits="userSpaceOnUse" cx="1397" cy="897" r="20" gradientTransform="translate(1397,897) rotate(0) scale(1,2.0000) translate(-1397,-897)"><stop offset="0" stop-color="#ffffff"/><stop offset="0.5" stop-color="#ffffff"/><stop offset="0.62" stop-color="#ffffff" stop-opacity="0.8"/><stop offset="0.75" stop-color="#ffffff" stop-opacity="0.5"/><stop offset="0.88" stop-color="#ffffff" stop-opacity="0.2"/><stop offset="1" stop-color="#ffffff" stop-opacity="0"/></radialGradient>
<radialGradient id="rg72" gradientUnits="userSpaceOnUse" cx="1510" cy="928" r="34" gradientTransform="translate(1510,928) rotate(25) scale(1,0.5500) translate(-1510,-928)"><stop offset="0" stop-color="#8c8c8c" stop-opacity="0.95"/><stop offset="0.25" stop-color="#8c8c8c" stop-opacity="0.95"/><stop offset="0.44" stop-color="#8c8c8c" stop-opacity="0.76"/><stop offset="0.62" stop-color="#8c8c8c" stop-opacity="0.47"/><stop offset="0.81" stop-color="#8c8c8c" stop-opacity="0.19"/><stop offset="1" stop-color="#8c8c8c" stop-opacity="0"/></radialGradient>
<radialGradient id="rg73" gradientUnits="userSpaceOnUse" cx="1506" cy="927" r="22" gradientTransform="translate(1506,927) rotate(25) scale(1,0.4200) translate(-1506,-927)"><stop offset="0" stop-color="#cccccc"/><stop offset="0.3" stop-color="#cccccc"/><stop offset="0.47" stop-color="#cccccc" stop-opacity="0.8"/><stop offset="0.65" stop-color="#cccccc" stop-opacity="0.5"/><stop offset="0.82" stop-color="#cccccc" stop-opacity="0.2"/><stop offset="1" stop-color="#cccccc" stop-opacity="0"/></radialGradient>
<radialGradient id="rg74" gradientUnits="userSpaceOnUse" cx="1496" cy="922" r="9"><stop offset="0" stop-color="#d9d9d9"/><stop offset="0.3" stop-color="#d9d9d9"/><stop offset="0.47" stop-color="#d9d9d9" stop-opacity="0.8"/><stop offset="0.65" stop-color="#d9d9d9" stop-opacity="0.5"/><stop offset="0.82" stop-color="#d9d9d9" stop-opacity="0.2"/><stop offset="1" stop-color="#d9d9d9" stop-opacity="0"/></radialGradient>
<radialGradient id="rg75" gradientUnits="userSpaceOnUse" cx="1518.3" cy="933.3" r="11"><stop offset="0" stop-color="#ffffff"/><stop offset="0.4" stop-color="#ffffff"/><stop offset="0.55" stop-color="#ffffff" stop-opacity="0.8"/><stop offset="0.7" stop-color="#ffffff" stop-opacity="0.5"/><stop offset="0.85" stop-color="#ffffff" stop-opacity="0.2"/><stop offset="1" stop-color="#ffffff" stop-opacity="0"/></radialGradient>
<linearGradient id="lg76" x1="0" y1="0" x2="0" y2="1"><stop offset="0" stop-color="#ff1a00"/><stop offset="0.25" stop-color="#ff8000"/><stop offset="0.5" stop-color="#ffff00"/><stop offset="0.75" stop-color="#8bd100"/><stop offset="1" stop-color="#38a800"/></linearGradient>
<clipPath id="clip5"><path transform="matrix(1.0011,0,0,1.4854,-18.83,1167.85)" d="M266 64 L270.5 58 L276 54.5 L304 52.5 L311 46.5 L323 43 L330 41.7 L339 42 L348 47 L365 58 L383 73.5 L400.5 91 L418 107 L435.5 121 L453 138.5 L466 149 L466.7 168 L463.5 180.5 L460 193 L460 207 L465 221 L476 230 L485.8 241.4 L505 246.7 L518 250 L536.7 252.8 L537.5 251 L542 252 L543.7 254.6 L561 256.3 L575 265 L582 274 L589 278 L596 277.4 L622.6 256.3 L626 252.8 L658.6 267.7 L656 271 L631.4 296.7 L638.4 309 L645.4 321 L648 325 L652.3 332 L661.4 338 L670.4 344 L679.4 342.6 L690 343 L715.5 344 L737.7 347 L735 357.6 L730.5 377 L723 395 L714 410 L703.5 425.3 L700.5 429.8 L678 435.8 L658.3 438.8 L640.3 435.8 L610 432 L580 428.3 L559.8 425.3 L550 410.2 L541 395.2 L534.3 392 L523 403.7 L516 402 L498.4 397.5 L475.6 394 L452.8 391.4 L435.3 388 L421.2 382.6 L412.5 374 L400 360 L388 347.5 L375.6 335.3 L366.8 324.7 L359.8 316.8 L345.8 309.8 L337 303.7 L333.5 296.7 L335.3 290.5 L342.3 282.6 L352.8 278.2 L375.6 276.5 L381 274 L382.6 268.6 L380 256.3 L375.6 242.3 L372 230 L367 219 L361.8 201.7 L357 186 L357 156 L347.7 149 L330 131.5 L312.6 114 L295 96.4 L277.5 80.6 L266 68.3Z"/></clipPath>
<filter id="ramp5" filterUnits="userSpaceOnUse" x="235.45" y="1217.79" width="496.2" height="613.85" color-interpolation-filters="sRGB"><feGaussianBlur stdDeviation="1.2"/><feComponentTransfer><feFuncR type="table" tableValues="0.220 0.302 0.384 0.463 0.545 0.659 0.773 0.886 1.000 1.000 1.000 1.000 1.000 1.000 1.000 1.000 1.000"/><feFuncG type="table" tableValues="0.659 0.698 0.737 0.780 0.820 0.863 0.910 0.957 1.000 0.875 0.753 0.627 0.502 0.376 0.251 0.125 0.000"/><feFuncB type="table" tableValues="0.000 0.000 0.000 0.000 0.000 0.000 0.000 0.000 0.000 0.000 0.000 0.000 0.000 0.000 0.000 0.000 0.000"/></feComponentTransfer></filter>
<radialGradient id="rg77" gradientUnits="userSpaceOnUse" cx="460" cy="1550" r="200" gradientTransform="translate(460,1550) rotate(0) scale(1,1.1500) translate(-460,-1550)"><stop offset="0" stop-color="#ffffff"/><stop offset="0.11" stop-color="#ffffff"/><stop offset="0.15" stop-color="#e6e6e6"/><stop offset="0.21" stop-color="#cccccc"/><stop offset="0.33" stop-color="#b8b8b8"/><stop offset="0.55" stop-color="#a8a8a8"/><stop offset="0.8" stop-color="#9c9c9c"/><stop offset="1" stop-color="#919191"/></radialGradient>
<linearGradient id="lg78" gradientUnits="userSpaceOnUse" x1="400" y1="1545" x2="400" y2="1455"><stop offset="0" stop-color="#808080" stop-opacity="0"/><stop offset="0.35" stop-color="#808080" stop-opacity="0.7"/><stop offset="0.6" stop-color="#757575"/><stop offset="1" stop-color="#666666"/></linearGradient>
<linearGradient id="lg79" gradientUnits="userSpaceOnUse" x1="400" y1="1456" x2="400" y2="1250"><stop offset="0" stop-color="#666666"/><stop offset="0.3" stop-color="#545454"/><stop offset="1" stop-color="#696969"/></linearGradient>
<radialGradient id="rg80" gradientUnits="userSpaceOnUse" cx="445" cy="1370" r="40"><stop offset="0" stop-color="#666666" stop-opacity="0.6"/><stop offset="0.2" stop-color="#666666" stop-opacity="0.6"/><stop offset="0.4" stop-color="#666666" stop-opacity="0.48"/><stop offset="0.6" stop-color="#666666" stop-opacity="0.3"/><stop offset="0.8" stop-color="#666666" stop-opacity="0.12"/><stop offset="1" stop-color="#666666" stop-opacity="0"/></radialGradient>
<radialGradient id="rg81" gradientUnits="userSpaceOnUse" cx="366" cy="1382" r="80" gradientTransform="translate(366,1382) rotate(-30) scale(1,1.3000) translate(-366,-1382)"><stop offset="0" stop-color="#0f0f0f"/><stop offset="0.12" stop-color="#0f0f0f"/><stop offset="0.34" stop-color="#0f0f0f" stop-opacity="0.8"/><stop offset="0.56" stop-color="#0f0f0f" stop-opacity="0.5"/><stop offset="0.78" stop-color="#0f0f0f" stop-opacity="0.2"/><stop offset="1" stop-color="#0f0f0f" stop-opacity="0"/></radialGradient>
<radialGradient id="rg82" gradientUnits="userSpaceOnUse" cx="430" cy="1484" r="42"><stop offset="0" stop-color="#212121"/><stop offset="0.2" stop-color="#212121"/><stop offset="0.4" stop-color="#212121" stop-opacity="0.8"/><stop offset="0.6" stop-color="#212121" stop-opacity="0.5"/><stop offset="0.8" stop-color="#212121" stop-opacity="0.2"/><stop offset="1" stop-color="#212121" stop-opacity="0"/></radialGradient>
<radialGradient id="rg83" gradientUnits="userSpaceOnUse" cx="459" cy="1550" r="40" gradientTransform="translate(459,1550) rotate(0) scale(1,1.1500) translate(-459,-1550)"><stop offset="0" stop-color="#ffffff"/><stop offset="0.6" stop-color="#ffffff"/><stop offset="0.7" stop-color="#ffffff" stop-opacity="0.8"/><stop offset="0.8" stop-color="#ffffff" stop-opacity="0.5"/><stop offset="0.9" stop-color="#ffffff" stop-opacity="0.2"/><stop offset="1" stop-color="#ffffff" stop-opacity="0"/></radialGradient>
<radialGradient id="rg84" gradientUnits="userSpaceOnUse" cx="494" cy="1592" r="30" gradientTransform="translate(494,1592) rotate(0) scale(1,1.3000) translate(-494,-1592)"><stop offset="0" stop-color="#545454" stop-opacity="0.9"/><stop offset="0.3" stop-color="#545454" stop-opacity="0.9"/><stop offset="0.47" stop-color="#545454" stop-opacity="0.72"/><stop offset="0.65" stop-color="#545454" stop-opacity="0.45"/><stop offset="0.82" stop-color="#545454" stop-opacity="0.18"/><stop offset="1" stop-color="#545454" stop-opacity="0"/></radialGradient>
<radialGradient id="rg85" gradientUnits="userSpaceOnUse" cx="547" cy="1653" r="45" gradientTransform="translate(547,1653) rotate(0) scale(1,1.3000) translate(-547,-1653)"><stop offset="0" stop-color="#0f0f0f" stop-opacity="0.9"/><stop offset="0.1" stop-color="#0f0f0f" stop-opacity="0.9"/><stop offset="0.33" stop-color="#0f0f0f" stop-opacity="0.72"/><stop offset="0.55" stop-color="#0f0f0f" stop-opacity="0.45"/><stop offset="0.78" stop-color="#0f0f0f" stop-opacity="0.18"/><stop offset="1" stop-color="#0f0f0f" stop-opacity="0"/></radialGradient>
<radialGradient id="rg86" gradientUnits="userSpaceOnUse" cx="590" cy="1693" r="45" gradientTransform="translate(590,1693) rotate(0) scale(1,1.3000) translate(-590,-1693)"><stop offset="0" stop-color="#0f0f0f" stop-opacity="0.9"/><stop offset="0.1" stop-color="#0f0f0f" stop-opacity="0.9"/><stop offset="0.33" stop-color="#0f0f0f" stop-opacity="0.72"/><stop offset="0.55" stop-color="#0f0f0f" stop-opacity="0.45"/><stop offset="0.78" stop-color="#0f0f0f" stop-opacity="0.18"/><stop offset="1" stop-color="#0f0f0f" stop-opacity="0"/></radialGradient>
<radialGradient id="rg87" gradientUnits="userSpaceOnUse" cx="620" cy="1640" r="30"><stop offset="0" stop-color="#383838" stop-opacity="0.7"/><stop offset="0.2" stop-color="#383838" stop-opacity="0.7"/><stop offset="0.4" stop-color="#383838" stop-opacity="0.56"/><stop offset="0.6" stop-color="#383838" stop-opacity="0.35"/><stop offset="0.8" stop-color="#383838" stop-opacity="0.14"/><stop offset="1" stop-color="#383838" stop-opacity="0"/></radialGradient>
<clipPath id="sc88"><polygon points="484,1592 505,1598 516,1621 509,1703 493,1765 470,1800 380,1730"/></clipPath>
<linearGradient id="lg89" gradientUnits="userSpaceOnUse" x1="400" y1="1700" x2="520" y2="1690"><stop offset="0" stop-color="#525252"/><stop offset="0.5" stop-color="#454545"/><stop offset="1" stop-color="#333333"/></linearGradient>
<radialGradient id="rg90" gradientUnits="userSpaceOnUse" cx="482.5" cy="1678.6" r="32" gradientTransform="translate(482.5,1678.6) rotate(0) scale(1,1.3000) translate(-482.5,-1678.6)"><stop offset="0" stop-color="#1f1f1f"/><stop offset="0.1" stop-color="#1f1f1f"/><stop offset="0.33" stop-color="#1f1f1f" stop-opacity="0.8"/><stop offset="0.55" stop-color="#1f1f1f" stop-opacity="0.5"/><stop offset="0.78" stop-color="#1f1f1f" stop-opacity="0.2"/><stop offset="1" stop-color="#1f1f1f" stop-opacity="0"/></radialGradient>
<radialGradient id="rg91" gradientUnits="userSpaceOnUse" cx="501.8" cy="1608.4" r="17" gradientTransform="translate(501.8,1608.4) rotate(0) scale(1,1.1500) translate(-501.8,-1608.4)"><stop offset="0" stop-color="#ffffff"/><stop offset="0.42" stop-color="#ffffff"/><stop offset="0.56" stop-color="#ffffff" stop-opacity="0.8"/><stop offset="0.71" stop-color="#ffffff" stop-opacity="0.5"/><stop offset="0.85" stop-color="#ffffff" stop-opacity="0.2"/><stop offset="1" stop-color="#ffffff" stop-opacity="0"/></radialGradient>
<linearGradient id="lg92" x1="0" y1="0" x2="0" y2="1"><stop offset="0" stop-color="#ff1a00"/><stop offset="0.25" stop-color="#ff8000"/><stop offset="0.5" stop-color="#ffff00"/><stop offset="0.75" stop-color="#8bd100"/><stop offset="1" stop-color="#38a800"/></linearGradient>
<clipPath id="clip6"><path transform="matrix(1.0276,0,0,1.5420,848.67,1153.08)" d="M266 64 L270.5 58 L276 54.5 L304 52.5 L311 46.5 L323 43 L330 41.7 L339 42 L348 47 L365 58 L383 73.5 L400.5 91 L418 107 L435.5 121 L453 138.5 L466 149 L466.7 168 L463.5 180.5 L460 193 L460 207 L465 221 L476 230 L485.8 241.4 L505 246.7 L518 250 L536.7 252.8 L537.5 251 L542 252 L543.7 254.6 L561 256.3 L575 265 L582 274 L589 278 L596 277.4 L622.6 256.3 L626 252.8 L658.6 267.7 L656 271 L631.4 296.7 L638.4 309 L645.4 321 L648 325 L652.3 332 L661.4 338 L670.4 344 L679.4 342.6 L690 343 L715.5 344 L737.7 347 L735 357.6 L730.5 377 L723 395 L714 410 L703.5 425.3 L700.5 429.8 L678 435.8 L658.3 438.8 L640.3 435.8 L610 432 L580 428.3 L559.8 425.3 L550 410.2 L541 395.2 L534.3 392 L523 403.7 L516 402 L498.4 397.5 L475.6 394 L452.8 391.4 L435.3 388 L421.2 382.6 L412.5 374 L400 360 L388 347.5 L375.6 335.3 L366.8 324.7 L359.8 316.8 L345.8 309.8 L337 303.7 L333.5 296.7 L335.3 290.5 L342.3 282.6 L352.8 278.2 L375.6 276.5 L381 274 L382.6 268.6 L380 256.3 L375.6 242.3 L372 230 L367 219 L361.8 201.7 L357 186 L357 156 L347.7 149 L330 131.5 L312.6 114 L295 96.4 L277.5 80.6 L266 68.3Z"/></clipPath>
<filter id="ramp6" filterUnits="userSpaceOnUse" x="1110.02" y="1205.38" width="508.72" height="636.32" color-interpolation-filters="sRGB"><feGaussianBlur stdDeviation="1.2"/><feComponentTransfer><feFuncR type="table" tableValues="0.220 0.302 0.384 0.463 0.545 0.659 0.773 0.886 1.000 1.000 1.000 1.000 1.000 1.000 1.000 1.000 1.000"/><feFuncG type="table" tableValues="0.659 0.698 0.737 0.780 0.820 0.863 0.910 0.957 1.000 0.875 0.753 0.627 0.502 0.376 0.251 0.125 0.000"/><feFuncB type="table" tableValues="0.000 0.000 0.000 0.000 0.000 0.000 0.000 0.000 0.000 0.000 0.000 0.000 0.000 0.000 0.000 0.000 0.000"/></feComponentTransfer></filter>
<radialGradient id="rg93" gradientUnits="userSpaceOnUse" cx="1300" cy="1480" r="230" gradientTransform="translate(1300,1480) rotate(0) scale(1,1.3500) translate(-1300,-1480)"><stop offset="0" stop-color="#ffffff"/><stop offset="0.1" stop-color="#ffffff"/><stop offset="0.15" stop-color="#e3e3e3"/><stop offset="0.22" stop-color="#c7c7c7"/><stop offset="0.3" stop-color="#b0b0b0"/><stop offset="0.43" stop-color="#9c9c9c"/><stop offset="0.58" stop-color="#8f8f8f"/><stop offset="0.74" stop-color="#858585"/><stop offset="1" stop-color="#808080"/></radialGradient>
<linearGradient id="lg94" gradientUnits="userSpaceOnUse" x1="1250" y1="1450" x2="1250" y2="1395"><stop offset="0" stop-color="#8c8c8c" stop-opacity="0"/><stop offset="1" stop-color="#8c8c8c"/></linearGradient>
<linearGradient id="lg95" gradientUnits="userSpaceOnUse" x1="1250" y1="1396" x2="1250" y2="1230"><stop offset="0" stop-color="#8c8c8c"/><stop offset="0.5" stop-color="#858585"/><stop offset="1" stop-color="#8f8f8f"/></linearGradient>
<radialGradient id="rg96" gradientUnits="userSpaceOnUse" cx="1330" cy="1395" r="45"><stop offset="0" stop-color="#b8b8b8" stop-opacity="0.9"/><stop offset="0.2" stop-color="#b8b8b8" stop-opacity="0.9"/><stop offset="0.4" stop-color="#b8b8b8" stop-opacity="0.72"/><stop offset="0.6" stop-color="#b8b8b8" stop-opacity="0.45"/><stop offset="0.8" stop-color="#b8b8b8" stop-opacity="0.18"/><stop offset="1" stop-color="#b8b8b8" stop-opacity="0"/></radialGradient>
<radialGradient id="rg97" gradientUnits="userSpaceOnUse" cx="1244" cy="1375" r="50"><stop offset="0" stop-color="#5c5c5c"/><stop offset="0.3" stop-color="#5c5c5c"/><stop offset="0.47" stop-color="#5c5c5c" stop-opacity="0.8"/><stop offset="0.65" stop-color="#5c5c5c" stop-opacity="0.5"/><stop offset="0.82" stop-color="#5c5c5c" stop-opacity="0.2"/><stop offset="1" stop-color="#5c5c5c" stop-opacity="0"/></radialGradient>
<radialGradient id="rg98" gradientUnits="userSpaceOnUse" cx="1300" cy="1478" r="42" gradientTransform="translate(1300,1478) rotate(0) scale(1,1.4500) translate(-1300,-1478)"><stop offset="0" stop-color="#ffffff"/><stop offset="0.55" stop-color="#ffffff"/><stop offset="0.66" stop-color="#ffffff" stop-opacity="0.8"/><stop offset="0.78" stop-color="#ffffff" stop-opacity="0.5"/><stop offset="0.89" stop-color="#ffffff" stop-opacity="0.2"/><stop offset="1" stop-color="#ffffff" stop-opacity="0"/></radialGradient>
<radialGradient id="rg99" gradientUnits="userSpaceOnUse" cx="1345" cy="1592" r="42"><stop offset="0" stop-color="#7a7a7a"/><stop offset="0.3" stop-color="#7a7a7a"/><stop offset="0.47" stop-color="#7a7a7a" stop-opacity="0.8"/><stop offset="0.65" stop-color="#7a7a7a" stop-opacity="0.5"/><stop offset="0.82" stop-color="#7a7a7a" stop-opacity="0.2"/><stop offset="1" stop-color="#7a7a7a" stop-opacity="0"/></radialGradient>
<linearGradient id="lg100" gradientUnits="userSpaceOnUse" x1="1240" y1="1700" x2="1440" y2="1700"><stop offset="0" stop-color="#707070"/><stop offset="0.35" stop-color="#666666"/><stop offset="0.6" stop-color="#545454"/><stop offset="1" stop-color="#474747"/></linearGradient>
<radialGradient id="rg101" gradientUnits="userSpaceOnUse" cx="1350" cy="1600" r="30"><stop offset="0" stop-color="#808080" stop-opacity="0.9"/><stop offset="0.3" stop-color="#808080" stop-opacity="0.9"/><stop offset="0.47" stop-color="#808080" stop-opacity="0.72"/><stop offset="0.65" stop-color="#808080" stop-opacity="0.45"/><stop offset="0.82" stop-color="#808080" stop-opacity="0.18"/><stop offset="1" stop-color="#808080" stop-opacity="0"/></radialGradient>
<radialGradient id="rg102" gradientUnits="userSpaceOnUse" cx="1369.8" cy="1590" r="13"><stop offset="0" stop-color="#ffffff"/><stop offset="0.4" stop-color="#ffffff"/><stop offset="0.55" stop-color="#ffffff" stop-opacity="0.8"/><stop offset="0.7" stop-color="#ffffff" stop-opacity="0.5"/><stop offset="0.85" stop-color="#ffffff" stop-opacity="0.2"/><stop offset="1" stop-color="#ffffff" stop-opacity="0"/></radialGradient>
<radialGradient id="rg103" gradientUnits="userSpaceOnUse" cx="1400" cy="1610" r="30"><stop offset="0" stop-color="#333333" stop-opacity="0.8"/><stop offset="0.2" stop-color="#333333" stop-opacity="0.8"/><stop offset="0.4" stop-color="#333333" stop-opacity="0.64"/><stop offset="0.6" stop-color="#333333" stop-opacity="0.4"/><stop offset="0.8" stop-color="#333333" stop-opacity="0.16"/><stop offset="1" stop-color="#333333" stop-opacity="0"/></radialGradient>
<radialGradient id="rg104" gradientUnits="userSpaceOnUse" cx="1447" cy="1615" r="20"><stop offset="0" stop-color="#141414"/><stop offset="0.1" stop-color="#141414"/><stop offset="0.33" stop-color="#141414" stop-opacity="0.8"/><stop offset="0.55" stop-color="#141414" stop-opacity="0.5"/><stop offset="0.78" stop-color="#141414" stop-opacity="0.2"/><stop offset="1" stop-color="#141414" stop-opacity="0"/></radialGradient>
<radialGradient id="rg105" gradientUnits="userSpaceOnUse" cx="1564" cy="1742" r="36"><stop offset="0" stop-color="#1a1a1a" stop-opacity="0.9"/><stop offset="0.1" stop-color="#1a1a1a" stop-opacity="0.9"/><stop offset="0.33" stop-color="#1a1a1a" stop-opacity="0.72"/><stop offset="0.55" stop-color="#1a1a1a" stop-opacity="0.45"/><stop offset="0.78" stop-color="#1a1a1a" stop-opacity="0.18"/><stop offset="1" stop-color="#1a1a1a" stop-opacity="0"/></radialGradient>
<radialGradient id="rg106" gradientUnits="userSpaceOnUse" cx="1428" cy="1657" r="16"><stop offset="0" stop-color="#242424" stop-opacity="0.9"/><stop offset="0.1" stop-color="#242424" stop-opacity="0.9"/><stop offset="0.33" stop-color="#242424" stop-opacity="0.72"/><stop offset="0.55" stop-color="#242424" stop-opacity="0.45"/><stop offset="0.78" stop-color="#242424" stop-opacity="0.18"/><stop offset="1" stop-color="#242424" stop-opacity="0"/></radialGradient>
<radialGradient id="rg107" gradientUnits="userSpaceOnUse" cx="1468" cy="1698" r="16"><stop offset="0" stop-color="#242424" stop-opacity="0.9"/><stop offset="0.1" stop-color="#242424" stop-opacity="0.9"/><stop offset="0.33" stop-color="#242424" stop-opacity="0.72"/><stop offset="0.55" stop-color="#242424" stop-opacity="0.45"/><stop offset="0.78" stop-color="#242424" stop-opacity="0.18"/><stop offset="1" stop-color="#242424" stop-opacity="0"/></radialGradient>
<radialGradient id="rg108" gradientUnits="userSpaceOnUse" cx="1493" cy="1690" r="16"><stop offset="0" stop-color="#858585"/><stop offset="0.2" stop-color="#858585"/><stop offset="0.4" stop-color="#858585" stop-opacity="0.8"/><stop offset="0.6" stop-color="#858585" stop-opacity="0.5"/><stop offset="0.8" stop-color="#858585" stop-opacity="0.2"/><stop offset="1" stop-color="#858585" stop-opacity="0"/></radialGradient>
<radialGradient id="rg109" gradientUnits="userSpaceOnUse" cx="1467" cy="1627" r="13"><stop offset="0" stop-color="#6b6b6b" stop-opacity="0.9"/><stop offset="0.2" stop-color="#6b6b6b" stop-opacity="0.9"/><stop offset="0.4" stop-color="#6b6b6b" stop-opacity="0.72"/><stop offset="0.6" stop-color="#6b6b6b" stop-opacity="0.45"/><stop offset="0.8" stop-color="#6b6b6b" stop-opacity="0.18"/><stop offset="1" stop-color="#6b6b6b" stop-opacity="0"/></radialGradient>
<linearGradient id="lg110" x1="0" y1="0" x2="0" y2="1"><stop offset="0" stop-color="#ff1a00"/><stop offset="0.25" stop-color="#ff8000"/><stop offset="0.5" stop-color="#ffff00"/><stop offset="0.75" stop-color="#8bd100"/><stop offset="1" stop-color="#38a800"/></linearGradient>
<filter id="pb7" x="-5%" y="-5%" width="110%" height="110%" color-interpolation-filters="sRGB"><feGaussianBlur in="SourceGraphic" stdDeviation="0.85" result="b"/><feComposite in="SourceGraphic" in2="b" operator="arithmetic" k1="0" k2="0.4" k3="0.6" k4="0"/></filter>
<clipPath id="clip7"><path transform="matrix(1.0807,0,0,1.1989,-72.72,1987.48)" d="M266 64 L270.5 58 L276 54.5 L304 52.5 L311 46.5 L323 43 L330 41.7 L339 42 L348 47 L365 58 L383 73.5 L400.5 91 L418 107 L435.5 121 L453 138.5 L466 149 L466.7 168 L463.5 180.5 L460 193 L460 207 L465 221 L476 230 L485.8 241.4 L505 246.7 L518 250 L536.7 252.8 L537.5 251 L542 252 L543.7 254.6 L561 256.3 L575 265 L582 274 L589 278 L596 277.4 L622.6 256.3 L626 252.8 L658.6 267.7 L656 271 L631.4 296.7 L638.4 309 L645.4 321 L648 325 L652.3 332 L661.4 338 L670.4 344 L679.4 342.6 L690 343 L715.5 344 L737.7 347 L735 357.6 L730.5 377 L723 395 L714 410 L703.5 425.3 L700.5 429.8 L678 435.8 L658.3 438.8 L640.3 435.8 L610 432 L580 428.3 L559.8 425.3 L550 410.2 L541 395.2 L534.3 392 L523 403.7 L516 402 L498.4 397.5 L475.6 394 L452.8 391.4 L435.3 388 L421.2 382.6 L412.5 374 L400 360 L388 347.5 L375.6 335.3 L366.8 324.7 L359.8 316.8 L345.8 309.8 L337 303.7 L333.5 296.7 L335.3 290.5 L342.3 282.6 L352.8 278.2 L375.6 276.5 L381 274 L382.6 268.6 L380 256.3 L375.6 242.3 L372 230 L367 219 L361.8 201.7 L357 186 L357 156 L347.7 149 L330 131.5 L312.6 114 L295 96.4 L277.5 80.6 L266 68.3Z"/></clipPath>
<filter id="ramp7" filterUnits="userSpaceOnUse" x="202.75" y="2025.48" width="533.77" height="500.09" color-interpolation-filters="sRGB"><feGaussianBlur stdDeviation="1.6"/><feComponentTransfer><feFuncR type="table" tableValues="0.220 0.302 0.384 0.463 0.545 0.659 0.773 0.886 1.000 1.000 1.000 1.000 1.000 1.000 1.000 1.000 1.000"/><feFuncG type="table" tableValues="0.659 0.698 0.737 0.780 0.820 0.863 0.910 0.957 1.000 0.875 0.753 0.627 0.502 0.376 0.251 0.125 0.000"/><feFuncB type="table" tableValues="0.000 0.000 0.000 0.000 0.000 0.000 0.000 0.000 0.000 0.000 0.000 0.000 0.000 0.000 0.000 0.000 0.000"/></feComponentTransfer></filter>
<linearGradient id="lg111" gradientUnits="userSpaceOnUse" x1="225" y1="2060" x2="300" y2="2130"><stop offset="0" stop-color="#8c8c8c"/><stop offset="0.5" stop-color="#828282"/><stop offset="1" stop-color="#7a7a7a"/></linearGradient>
<radialGradient id="rg112" gradientUnits="userSpaceOnUse" cx="420" cy="2166" r="38"><stop offset="0" stop-color="#999999" stop-opacity="0.9"/><stop offset="0.25" stop-color="#999999" stop-opacity="0.9"/><stop offset="0.44" stop-color="#999999" stop-opacity="0.72"/><stop offset="0.62" stop-color="#999999" stop-opacity="0.45"/><stop offset="0.81" stop-color="#999999" stop-opacity="0.18"/><stop offset="1" stop-color="#999999" stop-opacity="0"/></radialGradient>
<radialGradient id="rg113" gradientUnits="userSpaceOnUse" cx="342.3" cy="2160.3" r="50" gradientTransform="translate(342.3,2160.3) rotate(40) scale(1,0.8000) translate(-342.3,-2160.3)"><stop offset="0" stop-color="#616161"/><stop offset="0.25" stop-color="#616161"/><stop offset="0.44" stop-color="#616161" stop-opacity="0.8"/><stop offset="0.62" stop-color="#616161" stop-opacity="0.5"/><stop offset="0.81" stop-color="#616161" stop-opacity="0.2"/><stop offset="1" stop-color="#616161" stop-opacity="0"/></radialGradient>
<radialGradient id="rg114" gradientUnits="userSpaceOnUse" cx="396" cy="2226" r="40"><stop offset="0" stop-color="#545454" stop-opacity="0.7"/><stop offset="0.2" stop-color="#545454" stop-opacity="0.7"/><stop offset="0.4" stop-color="#545454" stop-opacity="0.56"/><stop offset="0.6" stop-color="#545454" stop-opacity="0.35"/><stop offset="0.8" stop-color="#545454" stop-opacity="0.14"/><stop offset="1" stop-color="#545454" stop-opacity="0"/></radialGradient>
<radialGradient id="rg115" gradientUnits="userSpaceOnUse" cx="411" cy="2242.4" r="32"><stop offset="0" stop-color="#121212"/><stop offset="0.28" stop-color="#121212"/><stop offset="0.46" stop-color="#121212" stop-opacity="0.8"/><stop offset="0.64" stop-color="#121212" stop-opacity="0.5"/><stop offset="0.82" stop-color="#121212" stop-opacity="0.2"/><stop offset="1" stop-color="#121212" stop-opacity="0"/></radialGradient>
<filter id="b3_5" x="-50%" y="-50%" width="200%" height="200%" color-interpolation-filters="sRGB"><feGaussianBlur stdDeviation="3.5"/></filter>
<linearGradient id="lg116" gradientUnits="userSpaceOnUse" x1="380" y1="2264" x2="380" y2="2306"><stop offset="0" stop-color="#808080" stop-opacity="0"/><stop offset="0.5" stop-color="#949494" stop-opacity="0.8"/><stop offset="1" stop-color="#b0b0b0"/></linearGradient>
<radialGradient id="rg117" gradientUnits="userSpaceOnUse" cx="446.5" cy="2296" r="50"><stop offset="0" stop-color="#cccccc" stop-opacity="0.9"/><stop offset="0.3" stop-color="#cccccc" stop-opacity="0.9"/><stop offset="0.47" stop-color="#cccccc" stop-opacity="0.72"/><stop offset="0.65" stop-color="#cccccc" stop-opacity="0.45"/><stop offset="0.82" stop-color="#cccccc" stop-opacity="0.18"/><stop offset="1" stop-color="#cccccc" stop-opacity="0"/></radialGradient>
<radialGradient id="rg118" gradientUnits="userSpaceOnUse" cx="446.5" cy="2295" r="34"><stop offset="0" stop-color="#ffffff"/><stop offset="0.48" stop-color="#ffffff"/><stop offset="0.61" stop-color="#ffffff" stop-opacity="0.8"/><stop offset="0.74" stop-color="#ffffff" stop-opacity="0.5"/><stop offset="0.87" stop-color="#ffffff" stop-opacity="0.2"/><stop offset="1" stop-color="#ffffff" stop-opacity="0"/></radialGradient>
<linearGradient id="lg119" gradientUnits="userSpaceOnUse" x1="595" y1="2320" x2="638" y2="2306"><stop offset="0" stop-color="#787878"/><stop offset="0.6" stop-color="#858585"/><stop offset="1" stop-color="#adadad"/></linearGradient>
<filter id="b8" x="-50%" y="-50%" width="200%" height="200%" color-interpolation-filters="sRGB"><feGaussianBlur stdDeviation="8"/></filter>
<radialGradient id="rg120" gradientUnits="userSpaceOnUse" cx="700" cy="2470" r="30"><stop offset="0" stop-color="#4c4c4c" stop-opacity="0.8"/><stop offset="0.2" stop-color="#4c4c4c" stop-opacity="0.8"/><stop offset="0.4" stop-color="#4c4c4c" stop-opacity="0.64"/><stop offset="0.6" stop-color="#4c4c4c" stop-opacity="0.4"/><stop offset="0.8" stop-color="#4c4c4c" stop-opacity="0.16"/><stop offset="1" stop-color="#4c4c4c" stop-opacity="0"/></radialGradient>
<radialGradient id="rg121" gradientUnits="userSpaceOnUse" cx="469" cy="2406" r="34" gradientTransform="translate(469,2406) rotate(0) scale(1,1.2500) translate(-469,-2406)"><stop offset="0" stop-color="#a8a8a8"/><stop offset="0.1" stop-color="#a8a8a8"/><stop offset="0.33" stop-color="#a8a8a8" stop-opacity="0.8"/><stop offset="0.55" stop-color="#a8a8a8" stop-opacity="0.5"/><stop offset="0.78" stop-color="#a8a8a8" stop-opacity="0.2"/><stop offset="1" stop-color="#a8a8a8" stop-opacity="0"/></radialGradient>
<radialGradient id="rg122" gradientUnits="userSpaceOnUse" cx="468.8" cy="2400" r="13"><stop offset="0" stop-color="#f2f2f2"/><stop offset="0.3" stop-color="#f2f2f2"/><stop offset="0.47" stop-color="#f2f2f2" stop-opacity="0.8"/><stop offset="0.65" stop-color="#f2f2f2" stop-opacity="0.5"/><stop offset="0.82" stop-color="#f2f2f2" stop-opacity="0.2"/><stop offset="1" stop-color="#f2f2f2" stop-opacity="0"/></radialGradient>
<radialGradient id="rg123" gradientUnits="userSpaceOnUse" cx="476" cy="2328" r="13"><stop offset="0" stop-color="#141414"/><stop offset="0.3" stop-color="#141414"/><stop offset="0.47" stop-color="#141414" stop-opacity="0.8"/><stop offset="0.65" stop-color="#141414" stop-opacity="0.5"/><stop offset="0.82" stop-color="#141414" stop-opacity="0.2"/><stop offset="1" stop-color="#141414" stop-opacity="0"/></radialGradient>
<radialGradient id="rg124" gradientUnits="userSpaceOnUse" cx="507.7" cy="2326.4" r="12"><stop offset="0" stop-color="#141414"/><stop offset="0.3" stop-color="#141414"/><stop offset="0.47" stop-color="#141414" stop-opacity="0.8"/><stop offset="0.65" stop-color="#141414" stop-opacity="0.5"/><stop offset="0.82" stop-color="#141414" stop-opacity="0.2"/><stop offset="1" stop-color="#141414" stop-opacity="0"/></radialGradient>
<radialGradient id="rg125" gradientUnits="userSpaceOnUse" cx="493.3" cy="2343.7" r="12"><stop offset="0" stop-color="#1a1a1a"/><stop offset="0.3" stop-color="#1a1a1a"/><stop offset="0.47" stop-color="#1a1a1a" stop-opacity="0.8"/><stop offset="0.65" stop-color="#1a1a1a" stop-opacity="0.5"/><stop offset="0.82" stop-color="#1a1a1a" stop-opacity="0.2"/><stop offset="1" stop-color="#1a1a1a" stop-opacity="0"/></radialGradient>
<radialGradient id="rg126" gradientUnits="userSpaceOnUse" cx="513.4" cy="2365.3" r="13"><stop offset="0" stop-color="#1a1a1a"/><stop offset="0.3" stop-color="#1a1a1a"/><stop offset="0.47" stop-color="#1a1a1a" stop-opacity="0.8"/><stop offset="0.65" stop-color="#1a1a1a" stop-opacity="0.5"/><stop offset="0.82" stop-color="#1a1a1a" stop-opacity="0.2"/><stop offset="1" stop-color="#1a1a1a" stop-opacity="0"/></radialGradient>
<radialGradient id="rg127" gradientUnits="userSpaceOnUse" cx="477.4" cy="2369.6" r="15"><stop offset="0" stop-color="#1a1a1a"/><stop offset="0.3" stop-color="#1a1a1a"/><stop offset="0.47" stop-color="#1a1a1a" stop-opacity="0.8"/><stop offset="0.65" stop-color="#1a1a1a" stop-opacity="0.5"/><stop offset="0.82" stop-color="#1a1a1a" stop-opacity="0.2"/><stop offset="1" stop-color="#1a1a1a" stop-opacity="0"/></radialGradient>
<radialGradient id="rg128" gradientUnits="userSpaceOnUse" cx="537.9" cy="2379.7" r="30"><stop offset="0" stop-color="#080808"/><stop offset="0.3" stop-color="#080808"/><stop offset="0.47" stop-color="#080808" stop-opacity="0.8"/><stop offset="0.65" stop-color="#080808" stop-opacity="0.5"/><stop offset="0.82" stop-color="#080808" stop-opacity="0.2"/><stop offset="1" stop-color="#080808" stop-opacity="0"/></radialGradient>
<radialGradient id="rg129" gradientUnits="userSpaceOnUse" cx="576.8" cy="2356.6" r="17"><stop offset="0" stop-color="#141414"/><stop offset="0.3" stop-color="#141414"/><stop offset="0.47" stop-color="#141414" stop-opacity="0.8"/><stop offset="0.65" stop-color="#141414" stop-opacity="0.5"/><stop offset="0.82" stop-color="#141414" stop-opacity="0.2"/><stop offset="1" stop-color="#141414" stop-opacity="0"/></radialGradient>
<radialGradient id="rg130" gradientUnits="userSpaceOnUse" cx="617.2" cy="2381" r="13"><stop offset="0" stop-color="#141414"/><stop offset="0.3" stop-color="#141414"/><stop offset="0.47" stop-color="#141414" stop-opacity="0.8"/><stop offset="0.65" stop-color="#141414" stop-opacity="0.5"/><stop offset="0.82" stop-color="#141414" stop-opacity="0.2"/><stop offset="1" stop-color="#141414" stop-opacity="0"/></radialGradient>
<radialGradient id="rg131" gradientUnits="userSpaceOnUse" cx="604.2" cy="2405.6" r="11"><stop offset="0" stop-color="#1f1f1f"/><stop offset="0.3" stop-color="#1f1f1f"/><stop offset="0.47" stop-color="#1f1f1f" stop-opacity="0.8"/><stop offset="0.65" stop-color="#1f1f1f" stop-opacity="0.5"/><stop offset="0.82" stop-color="#1f1f1f" stop-opacity="0.2"/><stop offset="1" stop-color="#1f1f1f" stop-opacity="0"/></radialGradient>
<radialGradient id="rg132" gradientUnits="userSpaceOnUse" cx="638.8" cy="2411.4" r="15"><stop offset="0" stop-color="#1a1a1a"/><stop offset="0.3" stop-color="#1a1a1a"/><stop offset="0.47" stop-color="#1a1a1a" stop-opacity="0.8"/><stop offset="0.65" stop-color="#1a1a1a" stop-opacity="0.5"/><stop offset="0.82" stop-color="#1a1a1a" stop-opacity="0.2"/><stop offset="1" stop-color="#1a1a1a" stop-opacity="0"/></radialGradient>
<radialGradient id="rg133" gradientUnits="userSpaceOnUse" cx="633" cy="2434.4" r="15"><stop offset="0" stop-color="#1a1a1a"/><stop offset="0.3" stop-color="#1a1a1a"/><stop offset="0.47" stop-color="#1a1a1a" stop-opacity="0.8"/><stop offset="0.65" stop-color="#1a1a1a" stop-opacity="0.5"/><stop offset="0.82" stop-color="#1a1a1a" stop-opacity="0.2"/><stop offset="1" stop-color="#1a1a1a" stop-opacity="0"/></radialGradient>
<radialGradient id="rg134" gradientUnits="userSpaceOnUse" cx="657.5" cy="2456" r="24"><stop offset="0" stop-color="#212121"/><stop offset="0.2" stop-color="#212121"/><stop offset="0.4" stop-color="#212121" stop-opacity="0.8"/><stop offset="0.6" stop-color="#212121" stop-opacity="0.5"/><stop offset="0.8" stop-color="#212121" stop-opacity="0.2"/><stop offset="1" stop-color="#212121" stop-opacity="0"/></radialGradient>
<radialGradient id="rg135" gradientUnits="userSpaceOnUse" cx="679" cy="2448" r="22"><stop offset="0" stop-color="#212121"/><stop offset="0.2" stop-color="#212121"/><stop offset="0.4" stop-color="#212121" stop-opacity="0.8"/><stop offset="0.6" stop-color="#212121" stop-opacity="0.5"/><stop offset="0.8" stop-color="#212121" stop-opacity="0.2"/><stop offset="1" stop-color="#212121" stop-opacity="0"/></radialGradient>
<radialGradient id="rg136" gradientUnits="userSpaceOnUse" cx="496" cy="2312" r="9"><stop offset="0" stop-color="#f2f2f2"/><stop offset="0.3" stop-color="#f2f2f2"/><stop offset="0.47" stop-color="#f2f2f2" stop-opacity="0.8"/><stop offset="0.65" stop-color="#f2f2f2" stop-opacity="0.5"/><stop offset="0.82" stop-color="#f2f2f2" stop-opacity="0.2"/><stop offset="1" stop-color="#f2f2f2" stop-opacity="0"/></radialGradient>
<radialGradient id="rg137" gradientUnits="userSpaceOnUse" cx="491.8" cy="2358" r="10" gradientTransform="translate(491.8,2358) rotate(0) scale(1,1.5000) translate(-491.8,-2358)"><stop offset="0" stop-color="#ffffff"/><stop offset="0.4" stop-color="#ffffff"/><stop offset="0.55" stop-color="#ffffff" stop-opacity="0.8"/><stop offset="0.7" stop-color="#ffffff" stop-opacity="0.5"/><stop offset="0.85" stop-color="#ffffff" stop-opacity="0.2"/><stop offset="1" stop-color="#ffffff" stop-opacity="0"/></radialGradient>
<radialGradient id="rg138" gradientUnits="userSpaceOnUse" cx="533.6" cy="2342.2" r="13" gradientTransform="translate(533.6,2342.2) rotate(0) scale(1,0.8000) translate(-533.6,-2342.2)"><stop offset="0" stop-color="#ffffff"/><stop offset="0.4" stop-color="#ffffff"/><stop offset="0.55" stop-color="#ffffff" stop-opacity="0.8"/><stop offset="0.7" stop-color="#ffffff" stop-opacity="0.5"/><stop offset="0.85" stop-color="#ffffff" stop-opacity="0.2"/><stop offset="1" stop-color="#ffffff" stop-opacity="0"/></radialGradient>
<radialGradient id="rg139" gradientUnits="userSpaceOnUse" cx="555.2" cy="2346.5" r="9"><stop offset="0" stop-color="#ffffff"/><stop offset="0.4" stop-color="#ffffff"/><stop offset="0.55" stop-color="#ffffff" stop-opacity="0.8"/><stop offset="0.7" stop-color="#ffffff" stop-opacity="0.5"/><stop offset="0.85" stop-color="#ffffff" stop-opacity="0.2"/><stop offset="1" stop-color="#ffffff" stop-opacity="0"/></radialGradient>
<radialGradient id="rg140" gradientUnits="userSpaceOnUse" cx="597" cy="2368.2" r="14"><stop offset="0" stop-color="#f2f2f2"/><stop offset="0.4" stop-color="#f2f2f2"/><stop offset="0.55" stop-color="#f2f2f2" stop-opacity="0.8"/><stop offset="0.7" stop-color="#f2f2f2" stop-opacity="0.5"/><stop offset="0.85" stop-color="#f2f2f2" stop-opacity="0.2"/><stop offset="1" stop-color="#f2f2f2" stop-opacity="0"/></radialGradient>
<radialGradient id="rg141" gradientUnits="userSpaceOnUse" cx="617.2" cy="2400" r="18" gradientTransform="translate(617.2,2400) rotate(0) scale(1,0.8500) translate(-617.2,-2400)"><stop offset="0" stop-color="#ffffff"/><stop offset="0.5" stop-color="#ffffff"/><stop offset="0.62" stop-color="#ffffff" stop-opacity="0.8"/><stop offset="0.75" stop-color="#ffffff" stop-opacity="0.5"/><stop offset="0.88" stop-color="#ffffff" stop-opacity="0.2"/><stop offset="1" stop-color="#ffffff" stop-opacity="0"/></radialGradient>
<radialGradient id="rg142" gradientUnits="userSpaceOnUse" cx="612.9" cy="2456.9" r="22"><stop offset="0" stop-color="#8f8f8f"/><stop offset="0.1" stop-color="#8f8f8f"/><stop offset="0.33" stop-color="#8f8f8f" stop-opacity="0.8"/><stop offset="0.55" stop-color="#8f8f8f" stop-opacity="0.5"/><stop offset="0.78" stop-color="#8f8f8f" stop-opacity="0.2"/><stop offset="1" stop-color="#8f8f8f" stop-opacity="0"/></radialGradient>
<radialGradient id="rg143" gradientUnits="userSpaceOnUse" cx="612.9" cy="2456.9" r="9"><stop offset="0" stop-color="#c7c7c7"/><stop offset="0.3" stop-color="#c7c7c7"/><stop offset="0.47" stop-color="#c7c7c7" stop-opacity="0.8"/><stop offset="0.65" stop-color="#c7c7c7" stop-opacity="0.5"/><stop offset="0.82" stop-color="#c7c7c7" stop-opacity="0.2"/><stop offset="1" stop-color="#c7c7c7" stop-opacity="0"/></radialGradient>
<linearGradient id="lg144" x1="0" y1="0" x2="0" y2="1"><stop offset="0" stop-color="#ff1a00"/><stop offset="0.25" stop-color="#ff8000"/><stop offset="0.5" stop-color="#ffff00"/><stop offset="0.75" stop-color="#8bd100"/><stop offset="1" stop-color="#38a800"/></linearGradient>
<linearGradient id="lg145" x1="0" y1="0" x2="0" y2="1"><stop offset="0" stop-color="#ff1a00"/><stop offset="0.25" stop-color="#ff8000"/><stop offset="0.5" stop-color="#ffff00"/><stop offset="0.75" stop-color="#8bd100"/><stop offset="1" stop-color="#38a800"/></linearGradient>
<filter id="pb8" x="-5%" y="-5%" width="110%" height="110%" color-interpolation-filters="sRGB"><feGaussianBlur in="SourceGraphic" stdDeviation="0.85" result="b"/><feComposite in="SourceGraphic" in2="b" operator="arithmetic" k1="0" k2="0.45" k3="0.55" k4="0"/></filter>
<clipPath id="clip8"><path transform="matrix(1.0210,0,0,1.1934,891.45,1991.4)" d="M266 64 L270.5 58 L276 54.5 L304 52.5 L311 46.5 L323 43 L330 41.7 L339 42 L348 47 L365 58 L383 73.5 L400.5 91 L418 107 L435.5 121 L453 138.5 L466 149 L466.7 168 L463.5 180.5 L460 193 L460 207 L465 221 L476 230 L485.8 241.4 L505 246.7 L518 250 L536.7 252.8 L537.5 251 L542 252 L543.7 254.6 L561 256.3 L575 265 L582 274 L589 278 L596 277.4 L622.6 256.3 L626 252.8 L658.6 267.7 L656 271 L631.4 296.7 L638.4 309 L645.4 321 L648 325 L652.3 332 L661.4 338 L670.4 344 L679.4 342.6 L690 343 L715.5 344 L737.7 347 L735 357.6 L730.5 377 L723 395 L714 410 L703.5 425.3 L700.5 429.8 L678 435.8 L658.3 438.8 L640.3 435.8 L610 432 L580 428.3 L559.8 425.3 L550 410.2 L541 395.2 L534.3 392 L523 403.7 L516 402 L498.4 397.5 L475.6 394 L452.8 391.4 L435.3 388 L421.2 382.6 L412.5 374 L400 360 L388 347.5 L375.6 335.3 L366.8 324.7 L359.8 316.8 L345.8 309.8 L337 303.7 L333.5 296.7 L335.3 290.5 L342.3 282.6 L352.8 278.2 L375.6 276.5 L381 274 L382.6 268.6 L380 256.3 L375.6 242.3 L372 230 L367 219 L361.8 201.7 L357 186 L357 156 L347.7 149 L330 131.5 L312.6 114 L295 96.4 L277.5 80.6 L266 68.3Z"/></clipPath>
<filter id="ramp8" filterUnits="userSpaceOnUse" x="1151.02" y="2029.16" width="505.59" height="497.91" color-interpolation-filters="sRGB"><feGaussianBlur stdDeviation="1.1"/><feComponentTransfer><feFuncR type="table" tableValues="0.220 0.302 0.384 0.463 0.545 0.659 0.773 0.886 1.000 1.000 1.000 1.000 1.000 1.000 1.000 1.000 1.000"/><feFuncG type="table" tableValues="0.659 0.698 0.737 0.780 0.820 0.863 0.910 0.957 1.000 0.875 0.753 0.627 0.502 0.376 0.251 0.125 0.000"/><feFuncB type="table" tableValues="0.000 0.000 0.000 0.000 0.000 0.000 0.000 0.000 0.000 0.000 0.000 0.000 0.000 0.000 0.000 0.000 0.000"/></feComponentTransfer></filter>
<linearGradient id="lg146" gradientUnits="userSpaceOnUse" x1="1300" y1="2277" x2="1300" y2="2245"><stop offset="0" stop-color="#808080"/><stop offset="1" stop-color="#666666"/></linearGradient>
<linearGradient id="lg147" gradientUnits="userSpaceOnUse" x1="1300" y1="2246" x2="1300" y2="2050"><stop offset="0" stop-color="#666666"/><stop offset="0.3" stop-color="#525252"/><stop offset="1" stop-color="#5c5c5c"/></linearGradient>
<radialGradient id="rg148" gradientUnits="userSpaceOnUse" cx="1284.6" cy="2163.6" r="62" gradientTransform="translate(1284.6,2163.6) rotate(40) scale(1,0.8000) translate(-1284.6,-2163.6)"><stop offset="0" stop-color="#141414"/><stop offset="0.1" stop-color="#141414"/><stop offset="0.33" stop-color="#141414" stop-opacity="0.8"/><stop offset="0.55" stop-color="#141414" stop-opacity="0.5"/><stop offset="0.78" stop-color="#141414" stop-opacity="0.2"/><stop offset="1" stop-color="#141414" stop-opacity="0"/></radialGradient>
<radialGradient id="rg149" gradientUnits="userSpaceOnUse" cx="1349" cy="2246" r="38"><stop offset="0" stop-color="#121212"/><stop offset="0.22" stop-color="#121212"/><stop offset="0.42" stop-color="#121212" stop-opacity="0.8"/><stop offset="0.61" stop-color="#121212" stop-opacity="0.5"/><stop offset="0.8" stop-color="#121212" stop-opacity="0.2"/><stop offset="1" stop-color="#121212" stop-opacity="0"/></radialGradient>
<linearGradient id="lg150" gradientUnits="userSpaceOnUse" x1="1250" y1="2380" x2="1480" y2="2380"><stop offset="0" stop-color="#b5b5b5"/><stop offset="0.5" stop-color="#b0b0b0"/><stop offset="0.8" stop-color="#a3a3a3"/><stop offset="1" stop-color="#999999"/></linearGradient>
<linearGradient id="lg151" gradientUnits="userSpaceOnUse" x1="1300" y1="2277" x2="1300" y2="2322"><stop offset="0" stop-color="#808080"/><stop offset="0.5" stop-color="#999999" stop-opacity="0.9"/><stop offset="1" stop-color="#b0b0b0" stop-opacity="0"/></linearGradient>
<radialGradient id="rg152" gradientUnits="userSpaceOnUse" cx="1388" cy="2301" r="46"><stop offset="0" stop-color="#cccccc" stop-opacity="0.85"/><stop offset="0.3" stop-color="#cccccc" stop-opacity="0.85"/><stop offset="0.47" stop-color="#cccccc" stop-opacity="0.68"/><stop offset="0.65" stop-color="#cccccc" stop-opacity="0.42"/><stop offset="0.82" stop-color="#cccccc" stop-opacity="0.17"/><stop offset="1" stop-color="#cccccc" stop-opacity="0"/></radialGradient>
<radialGradient id="rg153" gradientUnits="userSpaceOnUse" cx="1388" cy="2301.5" r="30"><stop offset="0" stop-color="#ffffff"/><stop offset="0.45" stop-color="#ffffff"/><stop offset="0.59" stop-color="#ffffff" stop-opacity="0.8"/><stop offset="0.73" stop-color="#ffffff" stop-opacity="0.5"/><stop offset="0.86" stop-color="#ffffff" stop-opacity="0.2"/><stop offset="1" stop-color="#ffffff" stop-opacity="0"/></radialGradient>
<radialGradient id="rg154" gradientUnits="userSpaceOnUse" cx="1504" cy="2359.5" r="28"><stop offset="0" stop-color="#2b2b2b"/><stop offset="0.35" stop-color="#2b2b2b"/><stop offset="0.51" stop-color="#2b2b2b" stop-opacity="0.8"/><stop offset="0.68" stop-color="#2b2b2b" stop-opacity="0.5"/><stop offset="0.84" stop-color="#2b2b2b" stop-opacity="0.2"/><stop offset="1" stop-color="#2b2b2b" stop-opacity="0"/></radialGradient>
<radialGradient id="rg155" gradientUnits="userSpaceOnUse" cx="1604.7" cy="2448.8" r="36"><stop offset="0" stop-color="#0f0f0f"/><stop offset="0.15" stop-color="#0f0f0f"/><stop offset="0.36" stop-color="#0f0f0f" stop-opacity="0.8"/><stop offset="0.57" stop-color="#0f0f0f" stop-opacity="0.5"/><stop offset="0.79" stop-color="#0f0f0f" stop-opacity="0.2"/><stop offset="1" stop-color="#0f0f0f" stop-opacity="0"/></radialGradient>
<radialGradient id="rg156" gradientUnits="userSpaceOnUse" cx="1582.5" cy="2458" r="27"><stop offset="0" stop-color="#949494"/><stop offset="0.1" stop-color="#949494"/><stop offset="0.33" stop-color="#949494" stop-opacity="0.8"/><stop offset="0.55" stop-color="#949494" stop-opacity="0.5"/><stop offset="0.78" stop-color="#949494" stop-opacity="0.2"/><stop offset="1" stop-color="#949494" stop-opacity="0"/></radialGradient>
<radialGradient id="rg157" gradientUnits="userSpaceOnUse" cx="1582.5" cy="2458" r="10"><stop offset="0" stop-color="#d1d1d1"/><stop offset="0.3" stop-color="#d1d1d1"/><stop offset="0.47" stop-color="#d1d1d1" stop-opacity="0.8"/><stop offset="0.65" stop-color="#d1d1d1" stop-opacity="0.5"/><stop offset="0.82" stop-color="#d1d1d1" stop-opacity="0.2"/><stop offset="1" stop-color="#d1d1d1" stop-opacity="0"/></radialGradient>
<radialGradient id="rg158" gradientUnits="userSpaceOnUse" cx="1542.8" cy="2401.3" r="18"><stop offset="0" stop-color="#9e9e9e" stop-opacity="0.9"/><stop offset="0.1" stop-color="#9e9e9e" stop-opacity="0.9"/><stop offset="0.33" stop-color="#9e9e9e" stop-opacity="0.72"/><stop offset="0.55" stop-color="#9e9e9e" stop-opacity="0.45"/><stop offset="0.78" stop-color="#9e9e9e" stop-opacity="0.18"/><stop offset="1" stop-color="#9e9e9e" stop-opacity="0"/></radialGradient>
<radialGradient id="rg159" gradientUnits="userSpaceOnUse" cx="1542.8" cy="2401.3" r="8"><stop offset="0" stop-color="#c7c7c7"/><stop offset="0.3" stop-color="#c7c7c7"/><stop offset="0.47" stop-color="#c7c7c7" stop-opacity="0.8"/><stop offset="0.65" stop-color="#c7c7c7" stop-opacity="0.5"/><stop offset="0.82" stop-color="#c7c7c7" stop-opacity="0.2"/><stop offset="1" stop-color="#c7c7c7" stop-opacity="0"/></radialGradient>
<radialGradient id="rg160" gradientUnits="userSpaceOnUse" cx="1430" cy="2345" r="30" gradientTransform="translate(1430,2345) rotate(0) scale(1,0.6000) translate(-1430,-2345)"><stop offset="0" stop-color="#808080" stop-opacity="0.6"/><stop offset="0.3" stop-color="#808080" stop-opacity="0.6"/><stop offset="0.47" stop-color="#808080" stop-opacity="0.48"/><stop offset="0.65" stop-color="#808080" stop-opacity="0.3"/><stop offset="0.82" stop-color="#808080" stop-opacity="0.12"/><stop offset="1" stop-color="#808080" stop-opacity="0"/></radialGradient>
<radialGradient id="rg161" gradientUnits="userSpaceOnUse" cx="1407" cy="2331" r="9"><stop offset="0" stop-color="#4c4c4c"/><stop offset="0.3" stop-color="#4c4c4c"/><stop offset="0.47" stop-color="#4c4c4c" stop-opacity="0.8"/><stop offset="0.65" stop-color="#4c4c4c" stop-opacity="0.5"/><stop offset="0.82" stop-color="#4c4c4c" stop-opacity="0.2"/><stop offset="1" stop-color="#4c4c4c" stop-opacity="0"/></radialGradient>
<radialGradient id="rg162" gradientUnits="userSpaceOnUse" cx="1450" cy="2348" r="10"><stop offset="0" stop-color="#4c4c4c" stop-opacity="0.9"/><stop offset="0.2" stop-color="#4c4c4c" stop-opacity="0.9"/><stop offset="0.4" stop-color="#4c4c4c" stop-opacity="0.72"/><stop offset="0.6" stop-color="#4c4c4c" stop-opacity="0.45"/><stop offset="0.8" stop-color="#4c4c4c" stop-opacity="0.18"/><stop offset="1" stop-color="#4c4c4c" stop-opacity="0"/></radialGradient>
<radialGradient id="rg163" gradientUnits="userSpaceOnUse" cx="1427.5" cy="2332" r="12"><stop offset="0" stop-color="#ffffff"/><stop offset="0.4" stop-color="#ffffff"/><stop offset="0.55" stop-color="#ffffff" stop-opacity="0.8"/><stop offset="0.7" stop-color="#ffffff" stop-opacity="0.5"/><stop offset="0.85" stop-color="#ffffff" stop-opacity="0.2"/><stop offset="1" stop-color="#ffffff" stop-opacity="0"/></radialGradient>
<radialGradient id="rg164" gradientUnits="userSpaceOnUse" cx="1472" cy="2358" r="8"><stop offset="0" stop-color="#ebebeb"/><stop offset="0.3" stop-color="#ebebeb"/><stop offset="0.47" stop-color="#ebebeb" stop-opacity="0.8"/><stop offset="0.65" stop-color="#ebebeb" stop-opacity="0.5"/><stop offset="0.82" stop-color="#ebebeb" stop-opacity="0.2"/><stop offset="1" stop-color="#ebebeb" stop-opacity="0"/></radialGradient>
<radialGradient id="rg165" gradientUnits="userSpaceOnUse" cx="1469.3" cy="2382" r="9"><stop offset="0" stop-color="#e6e6e6"/><stop offset="0.3" stop-color="#e6e6e6"/><stop offset="0.47" stop-color="#e6e6e6" stop-opacity="0.8"/><stop offset="0.65" stop-color="#e6e6e6" stop-opacity="0.5"/><stop offset="0.82" stop-color="#e6e6e6" stop-opacity="0.2"/><stop offset="1" stop-color="#e6e6e6" stop-opacity="0"/></radialGradient>
<radialGradient id="rg166" gradientUnits="userSpaceOnUse" cx="1411.6" cy="2372.5" r="8"><stop offset="0" stop-color="#e6e6e6"/><stop offset="0.3" stop-color="#e6e6e6"/><stop offset="0.47" stop-color="#e6e6e6" stop-opacity="0.8"/><stop offset="0.65" stop-color="#e6e6e6" stop-opacity="0.5"/><stop offset="0.82" stop-color="#e6e6e6" stop-opacity="0.2"/><stop offset="1" stop-color="#e6e6e6" stop-opacity="0"/></radialGradient>
<radialGradient id="rg167" gradientUnits="userSpaceOnUse" cx="1418.8" cy="2362.4" r="7"><stop offset="0" stop-color="#e0e0e0"/><stop offset="0.3" stop-color="#e0e0e0"/><stop offset="0.47" stop-color="#e0e0e0" stop-opacity="0.8"/><stop offset="0.65" stop-color="#e0e0e0" stop-opacity="0.5"/><stop offset="0.82" stop-color="#e0e0e0" stop-opacity="0.2"/><stop offset="1" stop-color="#e0e0e0" stop-opacity="0"/></radialGradient>
<linearGradient id="lg168" x1="0" y1="0" x2="0" y2="1"><stop offset="0" stop-color="#ff1a00"/><stop offset="0.25" stop-color="#ff8000"/><stop offset="0.5" stop-color="#ffff00"/><stop offset="0.75" stop-color="#8bd100"/><stop offset="1" stop-color="#38a800"/></linearGradient>
<linearGradient id="lg169" x1="0" y1="0" x2="0" y2="1"><stop offset="0" stop-color="#ff1a00"/><stop offset="0.25" stop-color="#ff8000"/><stop offset="0.5" stop-color="#ffff00"/><stop offset="0.75" stop-color="#8bd100"/><stop offset="1" stop-color="#38a800"/></linearGradient>
</defs>
<rect width="1800" height="2598" fill="#fff"/>
<!-- panel 1 -->
<g clip-path="url(#clip1)"><g filter="url(#ramp1)">
<rect x="234" y="9.7" width="535.7" height="461.1" fill="#161616"/>
<rect x="302" y="62" width="164" height="164" fill="url(#rg1)"/>
<rect x="405" y="171" width="84" height="84" fill="url(#rg2)"/>
<rect x="458" y="303" width="84" height="84" fill="url(#rg3)"/>
<polygon points="455,405 520,350 575,318 620,330 560,430" fill="#333333" filter="url(#b7)" opacity="0.7"/>
<polygon points="544,402 552,378 566,352 592,334 640,334 690,341 745,345 745,445 560,445" fill="url(#lg4)" filter="url(#b4)"/>
<polygon points="566,432 618,370 660,400 700,440" fill="#adadad" filter="url(#b5)" opacity="0.7"/>
<rect x="602" y="294" width="76" height="76" fill="url(#rg5)"/>
<rect x="612" y="318" width="68" height="68" fill="url(#rg6)"/>
<rect x="520" y="266" width="36" height="36" fill="url(#rg7)"/>
<rect x="530.5" y="277" width="16" height="16" fill="url(#rg8)"/>
<rect x="563.5" y="318" width="76" height="76" fill="url(#rg9)"/>
<rect x="568.5" y="323" width="66" height="66" fill="url(#rg10)"/>
<rect x="624" y="348" width="52" height="52" fill="url(#rg11)"/>
<rect x="668" y="346" width="80" height="80" fill="url(#rg12)"/>
<rect x="608" y="365" width="54" height="54" fill="url(#rg13)"/>
<rect x="659.4" y="374" width="34" height="34" fill="url(#rg14)"/>
</g></g>
<g>
<ellipse cx="384.3" cy="144" rx="1.7" ry="1.7" fill="#178a78" stroke="#06201c" stroke-width="1"/>
<text x="387.1" y="141.6" font-size="6.3" font-family='"Liberation Sans", sans-serif' fill="#141414" font-weight="bold">w25</text>
<ellipse cx="447.7" cy="212.7" rx="1.7" ry="1.7" fill="#178a78" stroke="#06201c" stroke-width="1"/>
<text x="450.5" y="210.3" font-size="6.3" font-family='"Liberation Sans", sans-serif' fill="#141414" font-weight="bold">w5</text>
<ellipse cx="487" cy="260.9" rx="1.7" ry="1.7" fill="#178a78" stroke="#06201c" stroke-width="1"/>
<text x="489.8" y="258.5" font-size="6.3" font-family='"Liberation Sans", sans-serif' fill="#141414" font-weight="bold">w34</text>
<ellipse cx="524" cy="267.7" rx="1.7" ry="1.7" fill="#178a78" stroke="#06201c" stroke-width="1"/>
<text x="526.8" y="265.3" font-size="6.3" font-family='"Liberation Sans", sans-serif' fill="#141414" font-weight="bold">w39</text>
<ellipse cx="527.9" cy="272.1" rx="1.7" ry="1.7" fill="#178a78" stroke="#06201c" stroke-width="1"/>
<text x="530.7" y="269.7" font-size="6.3" font-family='"Liberation Sans", sans-serif' fill="#141414" font-weight="bold">w31</text>
<ellipse cx="503.3" cy="278.6" rx="1.7" ry="1.7" fill="#178a78" stroke="#06201c" stroke-width="1"/>
<text x="506.1" y="276.2" font-size="6.3" font-family='"Liberation Sans", sans-serif' fill="#141414" font-weight="bold">w1</text>
<ellipse cx="518.8" cy="277.4" rx="1.7" ry="1.7" fill="#178a78" stroke="#06201c" stroke-width="1"/>
<text x="521.6" y="275" font-size="6.3" font-family='"Liberation Sans", sans-serif' fill="#141414" font-weight="bold">w9</text>
<ellipse cx="506.5" cy="284.9" rx="1.7" ry="1.7" fill="#178a78" stroke="#06201c" stroke-width="1"/>
<text x="509.3" y="282.5" font-size="6.3" font-family='"Liberation Sans", sans-serif' fill="#141414" font-weight="bold">w3</text>
<ellipse cx="534.9" cy="281.8" rx="1.7" ry="1.7" fill="#178a78" stroke="#06201c" stroke-width="1"/>
<text x="537.7" y="279.4" font-size="6.3" font-family='"Liberation Sans", sans-serif' fill="#141414" font-weight="bold">w18</text>
<ellipse cx="525.3" cy="285.3" rx="1.7" ry="1.7" fill="#178a78" stroke="#06201c" stroke-width="1"/>
<text x="528.1" y="282.9" font-size="6.3" font-family='"Liberation Sans", sans-serif' fill="#141414" font-weight="bold">w16</text>
<ellipse cx="538.8" cy="285.3" rx="1.7" ry="1.7" fill="#178a78" stroke="#06201c" stroke-width="1"/>
<text x="541.6" y="282.9" font-size="6.3" font-family='"Liberation Sans", sans-serif' fill="#141414" font-weight="bold">w4</text>
<ellipse cx="512.1" cy="291.4" rx="1.7" ry="1.7" fill="#178a78" stroke="#06201c" stroke-width="1"/>
<text x="514.9" y="289" font-size="6.3" font-family='"Liberation Sans", sans-serif' fill="#141414" font-weight="bold">w14</text>
<ellipse cx="534.9" cy="294" rx="1.7" ry="1.7" fill="#178a78" stroke="#06201c" stroke-width="1"/>
<text x="537.7" y="291.6" font-size="6.3" font-family='"Liberation Sans", sans-serif' fill="#141414" font-weight="bold">w35</text>
<ellipse cx="523.2" cy="297.2" rx="1.7" ry="1.7" fill="#178a78" stroke="#06201c" stroke-width="1"/>
<text x="526" y="294.8" font-size="6.3" font-family='"Liberation Sans", sans-serif' fill="#141414" font-weight="bold">w10</text>
<ellipse cx="528.8" cy="298.8" rx="1.7" ry="1.7" fill="#178a78" stroke="#06201c" stroke-width="1"/>
<text x="531.6" y="296.4" font-size="6.3" font-family='"Liberation Sans", sans-serif' fill="#141414" font-weight="bold">w21</text>
<ellipse cx="542.8" cy="298.4" rx="1.7" ry="1.7" fill="#178a78" stroke="#06201c" stroke-width="1"/>
<text x="545.6" y="296" font-size="6.3" font-family='"Liberation Sans", sans-serif' fill="#141414" font-weight="bold">w20</text>
<ellipse cx="560" cy="298.9" rx="1.7" ry="1.7" fill="#178a78" stroke="#06201c" stroke-width="1"/>
<text x="562.8" y="296.5" font-size="6.3" font-family='"Liberation Sans", sans-serif' fill="#141414" font-weight="bold">w11</text>
<ellipse cx="562.1" cy="301.9" rx="1.7" ry="1.7" fill="#178a78" stroke="#06201c" stroke-width="1"/>
<text x="564.9" y="299.5" font-size="6.3" font-family='"Liberation Sans", sans-serif' fill="#141414" font-weight="bold">w24</text>
<ellipse cx="582.3" cy="300.2" rx="1.7" ry="1.7" fill="#178a78" stroke="#06201c" stroke-width="1"/>
<text x="585.1" y="297.8" font-size="6.3" font-family='"Liberation Sans", sans-serif' fill="#141414" font-weight="bold">w29</text>
<ellipse cx="567.4" cy="306.7" rx="1.7" ry="1.7" fill="#178a78" stroke="#06201c" stroke-width="1"/>
<text x="570.2" y="304.3" font-size="6.3" font-family='"Liberation Sans", sans-serif' fill="#141414" font-weight="bold">w22</text>
<ellipse cx="541.6" cy="308.1" rx="1.7" ry="1.7" fill="#178a78" stroke="#06201c" stroke-width="1"/>
<text x="544.4" y="305.7" font-size="6.3" font-family='"Liberation Sans", sans-serif' fill="#141414" font-weight="bold">w13</text>
<ellipse cx="512.1" cy="310.2" rx="1.7" ry="1.7" fill="#178a78" stroke="#06201c" stroke-width="1"/>
<text x="514.9" y="307.8" font-size="6.3" font-family='"Liberation Sans", sans-serif' fill="#141414" font-weight="bold">w12</text>
<ellipse cx="522.1" cy="308.1" rx="1.7" ry="1.7" fill="#178a78" stroke="#06201c" stroke-width="1"/>
<text x="524.9" y="305.7" font-size="6.3" font-family='"Liberation Sans", sans-serif' fill="#141414" font-weight="bold">w41</text>
<ellipse cx="520.9" cy="313.9" rx="1.7" ry="1.7" fill="#178a78" stroke="#06201c" stroke-width="1"/>
<text x="523.7" y="311.5" font-size="6.3" font-family='"Liberation Sans", sans-serif' fill="#141414" font-weight="bold">w15</text>
<ellipse cx="541.9" cy="315.8" rx="1.7" ry="1.7" fill="#178a78" stroke="#06201c" stroke-width="1"/>
<text x="544.7" y="313.4" font-size="6.3" font-family='"Liberation Sans", sans-serif' fill="#141414" font-weight="bold">w23</text>
<ellipse cx="508.6" cy="320" rx="1.7" ry="1.7" fill="#178a78" stroke="#06201c" stroke-width="1"/>
<text x="511.4" y="317.6" font-size="6.3" font-family='"Liberation Sans", sans-serif' fill="#141414" font-weight="bold">w17</text>
<ellipse cx="600.2" cy="307.7" rx="1.7" ry="1.7" fill="#178a78" stroke="#06201c" stroke-width="1"/>
<text x="603" y="305.3" font-size="6.3" font-family='"Liberation Sans", sans-serif' fill="#141414" font-weight="bold">w8</text>
<ellipse cx="620" cy="318.8" rx="1.7" ry="1.7" fill="#178a78" stroke="#06201c" stroke-width="1"/>
<text x="622.8" y="316.4" font-size="6.3" font-family='"Liberation Sans", sans-serif' fill="#141414" font-weight="bold">w33</text>
<ellipse cx="564.7" cy="327.7" rx="1.7" ry="1.7" fill="#178a78" stroke="#06201c" stroke-width="1"/>
<text x="567.5" y="325.3" font-size="6.3" font-family='"Liberation Sans", sans-serif' fill="#141414" font-weight="bold">w37</text>
<ellipse cx="637.5" cy="329.6" rx="1.7" ry="1.7" fill="#178a78" stroke="#06201c" stroke-width="1"/>
<text x="640.3" y="327.2" font-size="6.3" font-family='"Liberation Sans", sans-serif' fill="#141414" font-weight="bold">w6</text>
<ellipse cx="500.4" cy="345.1" rx="1.7" ry="1.7" fill="#178a78" stroke="#06201c" stroke-width="1"/>
<text x="503.2" y="342.7" font-size="6.3" font-family='"Liberation Sans", sans-serif' fill="#141414" font-weight="bold">w2</text>
<ellipse cx="603.3" cy="354.6" rx="1.7" ry="1.7" fill="#178a78" stroke="#06201c" stroke-width="1"/>
<text x="606.1" y="352.2" font-size="6.3" font-family='"Liberation Sans", sans-serif' fill="#141414" font-weight="bold">w36</text>
<ellipse cx="626.7" cy="349.3" rx="1.7" ry="1.7" fill="#178a78" stroke="#06201c" stroke-width="1"/>
<text x="629.5" y="346.9" font-size="6.3" font-family='"Liberation Sans", sans-serif' fill="#141414" font-weight="bold">w32</text>
<ellipse cx="657.7" cy="354.6" rx="1.7" ry="1.7" fill="#178a78" stroke="#06201c" stroke-width="1"/>
<text x="660.5" y="352.2" font-size="6.3" font-family='"Liberation Sans", sans-serif' fill="#141414" font-weight="bold">w38</text>
<ellipse cx="652.5" cy="373.5" rx="1.7" ry="1.7" fill="#178a78" stroke="#06201c" stroke-width="1"/>
<text x="655.3" y="371.1" font-size="6.3" font-family='"Liberation Sans", sans-serif' fill="#141414" font-weight="bold">w40</text>
<ellipse cx="634.9" cy="391.8" rx="1.7" ry="1.7" fill="#178a78" stroke="#06201c" stroke-width="1"/>
<text x="637.7" y="389.4" font-size="6.3" font-family='"Liberation Sans", sans-serif' fill="#141414" font-weight="bold">w3</text>
<ellipse cx="676.1" cy="391" rx="1.7" ry="1.7" fill="#178a78" stroke="#06201c" stroke-width="1"/>
<text x="678.9" y="388.6" font-size="6.3" font-family='"Liberation Sans", sans-serif' fill="#141414" font-weight="bold">w7</text>
<ellipse cx="696.3" cy="384.7" rx="1.7" ry="1.7" fill="#178a78" stroke="#06201c" stroke-width="1"/>
<text x="699.1" y="382.3" font-size="6.3" font-family='"Liberation Sans", sans-serif' fill="#141414" font-weight="bold">w28</text>
<g transform="matrix(1.0000,0,0,1.0000,0,0)">
<text x="434.6" y="69.3" font-size="19.7" font-family='"Liberation Sans", sans-serif' fill="#111" textLength="121.5" lengthAdjust="spacingAndGlyphs" font-weight="bold">Dry season</text>
<text x="560.5" y="67.5" font-size="8" font-family='"Liberation Serif", serif' fill="#222" textLength="20.5" lengthAdjust="spacingAndGlyphs" font-weight="bold">(A5)</text>
<g transform="translate(758.6,91.6)" fill="none" stroke="#1a1a1a">
<ellipse rx="24.2" ry="22.6" stroke-width="1"/>
<ellipse rx="22.4" ry="20.8" stroke-width="0.7"/>
<ellipse rx="16" ry="15" stroke-width="0.9" stroke-dasharray="0.9 3.2" stroke="#555"/>
<polygon transform="rotate(0)" points="0,-23 -2.2,-8.5 2.2,-8.5" fill="#111" stroke="none"/>
<polygon transform="rotate(180)" points="0,-23 -2.2,-8.5 2.2,-8.5" fill="#111" stroke="none"/>
<polygon transform="rotate(270)" points="0,-21 -1.6,-8.5 1.6,-8.5" fill="#111" stroke="none"/>
<polygon transform="rotate(90)" points="0,-31 -2.7,-8.5 2.7,-8.5" fill="#111" stroke="none"/>
<polygon transform="rotate(45)" points="0,-19 -2.4,-8.5 2.4,-8.5" fill="#111" stroke="none"/>
<polygon transform="rotate(135)" points="0,-19 -2.4,-8.5 2.4,-8.5" fill="#111" stroke="none"/>
<polygon transform="rotate(225)" points="0,-19 -2.4,-8.5 2.4,-8.5" fill="#111" stroke="none"/>
<polygon transform="rotate(315)" points="0,-19 -2.4,-8.5 2.4,-8.5" fill="#111" stroke="none"/>
<line x1="-29" y1="0" x2="-9" y2="0" stroke-width="0.8"/><line x1="9" y1="0" x2="35" y2="0" stroke-width="1"/>
<line x1="0" y1="-30" x2="0" y2="-9" stroke-width="0.9"/><line x1="0" y1="9" x2="0" y2="27" stroke-width="0.9"/>
<ellipse rx="9.4" ry="8.8" stroke-width="1.5" fill="#fff"/>
<ellipse rx="5" ry="4.6" stroke-width="0.8"/>
</g>
<text x="761.6" y="56.1" font-size="13.5" font-family='"Liberation Serif", serif' fill="#222" text-anchor="middle" font-style="italic" opacity="0.8">N</text>
<text x="760.6" y="137.1" font-size="13.5" font-family='"Liberation Serif", serif' fill="#222" text-anchor="middle" font-style="italic" opacity="0.8">S</text>
<text x="717.6" y="96.1" font-size="13.5" font-family='"Liberation Serif", serif' fill="#222" text-anchor="middle" font-style="italic" opacity="0.8">W</text>
<text x="799.6" y="96.1" font-size="13.5" font-family='"Liberation Serif", serif' fill="#222" text-anchor="middle" font-style="italic" opacity="0.8">E</text>
<g transform="translate(0,0)">
<text x="189.3" y="406.5" font-size="11.4" font-family='"Liberation Sans", sans-serif' fill="#111" textLength="17" lengthAdjust="spacingAndGlyphs" font-weight="bold">Cu</text>
<text x="208.8" y="406" font-size="6.5" font-family='"Liberation Serif", serif' fill="#333" textLength="18" lengthAdjust="spacingAndGlyphs" font-weight="bold">(ppb)</text>
<text x="189.3" y="425" font-size="11.6" font-family='"Liberation Sans", sans-serif' fill="#111" textLength="34.7" lengthAdjust="spacingAndGlyphs" font-weight="bold">Value</text>
<rect x="188.5" y="432.1" width="24.4" height="24.2" fill="url(#lg15)"/>
<text x="220.6" y="437" font-size="12.3" font-family='"Liberation Sans", sans-serif' fill="#111" textLength="74.76" lengthAdjust="spacingAndGlyphs" font-weight="bold">High : 95.69</text>
<text x="220.6" y="461.2" font-size="12.3" font-family='"Liberation Sans", sans-serif' fill="#111" textLength="64.2" lengthAdjust="spacingAndGlyphs" font-weight="bold">Low : 0.05</text>
</g>
<g transform="translate(0,0)">
<rect x="425.8" y="452.6" width="203.2" height="8.6" fill="#fff" stroke="#000" stroke-width="1"/>
<rect x="425.8" y="452.6" width="10.1" height="4.3" fill="#000"/>
<rect x="435.9" y="456.9" width="10.2" height="4.3" fill="#000"/>
<rect x="446.1" y="452.6" width="10.3" height="4.3" fill="#000"/>
<rect x="456.4" y="456.9" width="10.4" height="4.3" fill="#000"/>
<rect x="466.8" y="452.6" width="40.6" height="4.3" fill="#000"/>
<rect x="507.4" y="456.9" width="40.6" height="4.3" fill="#000"/>
<rect x="548" y="452.6" width="40.5" height="4.3" fill="#000"/>
<rect x="588.5" y="456.9" width="40.5" height="4.3" fill="#000"/>
<text x="426" y="448.2" font-size="8.4" font-family='"Liberation Sans", sans-serif' fill="#111" text-anchor="middle">2.5</text>
<text x="446" y="448.2" font-size="8.4" font-family='"Liberation Sans", sans-serif' fill="#111" text-anchor="middle">1.25</text>
<text x="466.8" y="448.2" font-size="8.4" font-family='"Liberation Sans", sans-serif' fill="#111" text-anchor="middle">0</text>
<text x="507.4" y="448.2" font-size="8.4" font-family='"Liberation Sans", sans-serif' fill="#111" text-anchor="middle">2.5</text>
<text x="548" y="448.2" font-size="8.4" font-family='"Liberation Sans", sans-serif' fill="#111" text-anchor="middle">5</text>
<text x="588.5" y="448.2" font-size="8.4" font-family='"Liberation Sans", sans-serif' fill="#111" text-anchor="middle">7.5</text>
<text x="629" y="448.2" font-size="8.4" font-family='"Liberation Sans", sans-serif' fill="#111" text-anchor="middle">10</text>
<text x="633" y="460.3" font-size="8.2" font-family='"Liberation Sans", sans-serif' fill="#111" textLength="44.5" lengthAdjust="spacingAndGlyphs">Kilometers</text>
</g>
</g>
<text transform="translate(312.5,25) scale(1.0000,1.0000)" font-size="9.9" font-weight="bold" font-family='"Liberation Sans", sans-serif' fill="#111" text-anchor="middle" textLength="52.2" lengthAdjust="spacingAndGlyphs">52°25'0"E</text>
<text transform="translate(312.5,497) scale(1.0000,1.0000)" font-size="9.9" font-weight="bold" font-family='"Liberation Sans", sans-serif' fill="#111" text-anchor="middle" textLength="52.2" lengthAdjust="spacingAndGlyphs">52°25'0"E</text>
<line x1="312.5" y1="28" x2="312.5" y2="33" stroke="#111" stroke-width="1.1"/>
<line x1="312.5" y1="481.8" x2="312.5" y2="486.5" stroke="#111" stroke-width="1.1"/>
<text transform="translate(463.17,25) scale(1.0000,1.0000)" font-size="9.9" font-weight="bold" font-family='"Liberation Sans", sans-serif' fill="#111" text-anchor="middle" textLength="52.2" lengthAdjust="spacingAndGlyphs">52°30'0"E</text>
<text transform="translate(463.17,497) scale(1.0000,1.0000)" font-size="9.9" font-weight="bold" font-family='"Liberation Sans", sans-serif' fill="#111" text-anchor="middle" textLength="52.2" lengthAdjust="spacingAndGlyphs">52°30'0"E</text>
<line x1="463.17" y1="28" x2="463.17" y2="33" stroke="#111" stroke-width="1.1"/>
<line x1="463.17" y1="481.8" x2="463.17" y2="486.5" stroke="#111" stroke-width="1.1"/>
<text transform="translate(613.84,25) scale(1.0000,1.0000)" font-size="9.9" font-weight="bold" font-family='"Liberation Sans", sans-serif' fill="#111" text-anchor="middle" textLength="52.2" lengthAdjust="spacingAndGlyphs">52°35'0"E</text>
<text transform="translate(613.84,497) scale(1.0000,1.0000)" font-size="9.9" font-weight="bold" font-family='"Liberation Sans", sans-serif' fill="#111" text-anchor="middle" textLength="52.2" lengthAdjust="spacingAndGlyphs">52°35'0"E</text>
<line x1="613.84" y1="28" x2="613.84" y2="33" stroke="#111" stroke-width="1.1"/>
<line x1="613.84" y1="481.8" x2="613.84" y2="486.5" stroke="#111" stroke-width="1.1"/>
<text transform="translate(764.51,25) scale(1.0000,1.0000)" font-size="9.9" font-weight="bold" font-family='"Liberation Sans", sans-serif' fill="#111" text-anchor="middle" textLength="52.2" lengthAdjust="spacingAndGlyphs">52°40'0"E</text>
<text transform="translate(764.51,497) scale(1.0000,1.0000)" font-size="9.9" font-weight="bold" font-family='"Liberation Sans", sans-serif' fill="#111" text-anchor="middle" textLength="52.2" lengthAdjust="spacingAndGlyphs">52°40'0"E</text>
<line x1="764.51" y1="28" x2="764.51" y2="33" stroke="#111" stroke-width="1.1"/>
<line x1="764.51" y1="481.8" x2="764.51" y2="486.5" stroke="#111" stroke-width="1.1"/>
<text transform="translate(170.7,79.5) scale(1.0000,1.0000)" font-size="9.9" font-weight="bold" font-family='"Liberation Sans", sans-serif' fill="#111" text-anchor="end" textLength="52.2" lengthAdjust="spacingAndGlyphs">29°45'0"N</text>
<text transform="translate(829,79.5) scale(1.0000,1.0000)" font-size="9.9" font-weight="bold" font-family='"Liberation Sans", sans-serif' fill="#111" text-anchor="start" textLength="52.2" lengthAdjust="spacingAndGlyphs">29°45'0"N</text>
<line x1="172" y1="75.5" x2="177" y2="75.5" stroke="#111" stroke-width="1.4"/>
<line x1="823.2" y1="75.5" x2="828.2" y2="75.5" stroke="#111" stroke-width="1.4"/>
<text transform="translate(170.7,216.5) scale(1.0000,1.0000)" font-size="9.9" font-weight="bold" font-family='"Liberation Sans", sans-serif' fill="#111" text-anchor="end" textLength="52.2" lengthAdjust="spacingAndGlyphs">29°40'0"N</text>
<text transform="translate(829,216.5) scale(1.0000,1.0000)" font-size="9.9" font-weight="bold" font-family='"Liberation Sans", sans-serif' fill="#111" text-anchor="start" textLength="52.2" lengthAdjust="spacingAndGlyphs">29°40'0"N</text>
<line x1="172" y1="212.5" x2="177" y2="212.5" stroke="#111" stroke-width="1.4"/>
<line x1="823.2" y1="212.5" x2="828.2" y2="212.5" stroke="#111" stroke-width="1.4"/>
<text transform="translate(170.7,353.5) scale(1.0000,1.0000)" font-size="9.9" font-weight="bold" font-family='"Liberation Sans", sans-serif' fill="#111" text-anchor="end" textLength="52.2" lengthAdjust="spacingAndGlyphs">29°35'0"N</text>
<text transform="translate(829,353.5) scale(1.0000,1.0000)" font-size="9.9" font-weight="bold" font-family='"Liberation Sans", sans-serif' fill="#111" text-anchor="start" textLength="52.2" lengthAdjust="spacingAndGlyphs">29°35'0"N</text>
<line x1="172" y1="349.5" x2="177" y2="349.5" stroke="#111" stroke-width="1.4"/>
<line x1="823.2" y1="349.5" x2="828.2" y2="349.5" stroke="#111" stroke-width="1.4"/>
<g>
</g>
<line x1="177" y1="32.3" x2="177" y2="482.5" stroke="#111" stroke-width="2.2"/>
<line x1="177" y1="33" x2="823.2" y2="33" stroke="#111" stroke-width="1.4"/>
<line x1="823.2" y1="32.3" x2="823.2" y2="482.5" stroke="#111" stroke-width="1.4"/>
<line x1="177" y1="481.8" x2="823.2" y2="481.8" stroke="#111" stroke-width="1.4"/>
</g>
<!-- panel 2 -->
<g clip-path="url(#clip2)"><g filter="url(#ramp2)">
<rect x="1086.85" y="8.13" width="537.27" height="456.03" fill="#454545"/>
<rect x="1236" y="144" width="128" height="128" fill="url(#rg16)"/>
<rect x="1314" y="206" width="148" height="148" fill="url(#rg17)"/>
<polygon points="1233,250 1300,262 1367,277 1376,297 1300,278 1233,263" fill="#212121" filter="url(#b3)" opacity="0.9"/>
<polygon points="1446,300 1440,262 1480,240 1530,270 1500,310 1520,340 1600,340 1600,440 1436,440 1441,380 1446,330" fill="#292929" filter="url(#b2_5)"/>
<rect x="1444" y="274" width="68" height="68" fill="url(#rg18)"/>
<rect x="1480" y="312" width="56" height="56" fill="url(#rg19)"/>
<rect x="1441" y="336" width="94" height="94" fill="url(#rg20)"/>
<rect x="1431" y="321" width="52" height="52" fill="url(#rg21)"/>
<rect x="1488" y="347" width="36" height="36" fill="url(#rg22)"/>
<rect x="1404" y="276" width="32" height="32" fill="url(#rg23)"/>
<rect x="1543" y="340" width="84" height="84" fill="url(#rg24)"/>
<rect x="1513" y="268" width="64" height="64" fill="url(#rg25)"/>
<g clip-path="url(#sc26)">
<polygon points="1200,290 1430,290 1430,440 1200,440" fill="url(#lg27)"/>
<rect x="1318" y="280" width="64" height="64" fill="url(#rg28)"/>
<rect x="1323" y="288" width="124" height="124" fill="url(#rg29)"/>
</g>
<polygon points="1404,300 1440,296 1444,330 1440,380 1445,425 1404,425" fill="url(#lg30)" filter="url(#b2)"/>
<rect x="1407" y="311" width="22" height="22" fill="url(#rg31)"/>
<rect x="1350" y="301" width="24" height="24" fill="url(#rg32)"/>
<rect x="1357.7" y="285.4" width="71.2" height="71.2" fill="url(#rg33)"/>
</g></g>
<g>
<ellipse cx="1237.54" cy="141.12" rx="1.71" ry="1.68" fill="#a80f0f" stroke="#2a0808" stroke-width="0.9"/>
<text x="1240.35" y="138.76" font-size="6.27" font-family='"Liberation Sans", sans-serif' fill="#141414" font-weight="bold">w25</text>
<ellipse cx="1301.15" cy="208.95" rx="1.71" ry="1.68" fill="#a80f0f" stroke="#2a0808" stroke-width="0.9"/>
<text x="1303.96" y="206.58" font-size="6.27" font-family='"Liberation Sans", sans-serif' fill="#141414" font-weight="bold">w5</text>
<ellipse cx="1340.58" cy="256.53" rx="1.71" ry="1.68" fill="#a80f0f" stroke="#2a0808" stroke-width="0.9"/>
<text x="1343.39" y="254.16" font-size="6.27" font-family='"Liberation Sans", sans-serif' fill="#141414" font-weight="bold">w34</text>
<ellipse cx="1377.7" cy="263.24" rx="1.71" ry="1.68" fill="#a80f0f" stroke="#2a0808" stroke-width="0.9"/>
<text x="1380.51" y="260.88" font-size="6.27" font-family='"Liberation Sans", sans-serif' fill="#141414" font-weight="bold">w39</text>
<ellipse cx="1381.61" cy="267.59" rx="1.71" ry="1.68" fill="#a80f0f" stroke="#2a0808" stroke-width="0.9"/>
<text x="1384.42" y="265.22" font-size="6.27" font-family='"Liberation Sans", sans-serif' fill="#141414" font-weight="bold">w31</text>
<ellipse cx="1356.93" cy="274.01" rx="1.71" ry="1.68" fill="#a80f0f" stroke="#2a0808" stroke-width="0.9"/>
<text x="1359.74" y="271.64" font-size="6.27" font-family='"Liberation Sans", sans-serif' fill="#141414" font-weight="bold">w1</text>
<ellipse cx="1372.48" cy="272.82" rx="1.71" ry="1.68" fill="#a80f0f" stroke="#2a0808" stroke-width="0.9"/>
<text x="1375.29" y="270.45" font-size="6.27" font-family='"Liberation Sans", sans-serif' fill="#141414" font-weight="bold">w9</text>
<ellipse cx="1360.14" cy="280.23" rx="1.71" ry="1.68" fill="#a80f0f" stroke="#2a0808" stroke-width="0.9"/>
<text x="1362.95" y="277.86" font-size="6.27" font-family='"Liberation Sans", sans-serif' fill="#141414" font-weight="bold">w3</text>
<ellipse cx="1388.64" cy="277.16" rx="1.71" ry="1.68" fill="#a80f0f" stroke="#2a0808" stroke-width="0.9"/>
<text x="1391.45" y="274.8" font-size="6.27" font-family='"Liberation Sans", sans-serif' fill="#141414" font-weight="bold">w18</text>
<ellipse cx="1379.01" cy="280.62" rx="1.71" ry="1.68" fill="#a80f0f" stroke="#2a0808" stroke-width="0.9"/>
<text x="1381.82" y="278.25" font-size="6.27" font-family='"Liberation Sans", sans-serif' fill="#141414" font-weight="bold">w16</text>
<ellipse cx="1392.55" cy="280.62" rx="1.71" ry="1.68" fill="#a80f0f" stroke="#2a0808" stroke-width="0.9"/>
<text x="1395.36" y="278.25" font-size="6.27" font-family='"Liberation Sans", sans-serif' fill="#141414" font-weight="bold">w4</text>
<ellipse cx="1365.76" cy="286.64" rx="1.71" ry="1.68" fill="#a80f0f" stroke="#2a0808" stroke-width="0.9"/>
<text x="1368.57" y="284.27" font-size="6.27" font-family='"Liberation Sans", sans-serif' fill="#141414" font-weight="bold">w14</text>
<ellipse cx="1388.64" cy="289.21" rx="1.71" ry="1.68" fill="#a80f0f" stroke="#2a0808" stroke-width="0.9"/>
<text x="1391.45" y="286.84" font-size="6.27" font-family='"Liberation Sans", sans-serif' fill="#141414" font-weight="bold">w35</text>
<ellipse cx="1376.9" cy="292.37" rx="1.71" ry="1.68" fill="#a80f0f" stroke="#2a0808" stroke-width="0.9"/>
<text x="1379.71" y="290" font-size="6.27" font-family='"Liberation Sans", sans-serif' fill="#141414" font-weight="bold">w10</text>
<ellipse cx="1382.52" cy="293.95" rx="1.71" ry="1.68" fill="#a80f0f" stroke="#2a0808" stroke-width="0.9"/>
<text x="1385.33" y="291.58" font-size="6.27" font-family='"Liberation Sans", sans-serif' fill="#141414" font-weight="bold">w21</text>
<ellipse cx="1396.56" cy="293.55" rx="1.71" ry="1.68" fill="#a80f0f" stroke="#2a0808" stroke-width="0.9"/>
<text x="1399.37" y="291.18" font-size="6.27" font-family='"Liberation Sans", sans-serif' fill="#141414" font-weight="bold">w20</text>
<ellipse cx="1413.82" cy="294.05" rx="1.71" ry="1.68" fill="#a80f0f" stroke="#2a0808" stroke-width="0.9"/>
<text x="1416.63" y="291.68" font-size="6.27" font-family='"Liberation Sans", sans-serif' fill="#141414" font-weight="bold">w11</text>
<ellipse cx="1415.93" cy="297.01" rx="1.71" ry="1.68" fill="#a80f0f" stroke="#2a0808" stroke-width="0.9"/>
<text x="1418.74" y="294.64" font-size="6.27" font-family='"Liberation Sans", sans-serif' fill="#141414" font-weight="bold">w24</text>
<ellipse cx="1436.2" cy="295.33" rx="1.71" ry="1.68" fill="#a80f0f" stroke="#2a0808" stroke-width="0.9"/>
<text x="1439" y="292.96" font-size="6.27" font-family='"Liberation Sans", sans-serif' fill="#141414" font-weight="bold">w29</text>
<ellipse cx="1421.25" cy="301.75" rx="1.71" ry="1.68" fill="#a80f0f" stroke="#2a0808" stroke-width="0.9"/>
<text x="1424.06" y="299.38" font-size="6.27" font-family='"Liberation Sans", sans-serif' fill="#141414" font-weight="bold">w22</text>
<ellipse cx="1395.36" cy="303.13" rx="1.71" ry="1.68" fill="#a80f0f" stroke="#2a0808" stroke-width="0.9"/>
<text x="1398.17" y="300.76" font-size="6.27" font-family='"Liberation Sans", sans-serif' fill="#141414" font-weight="bold">w13</text>
<ellipse cx="1365.76" cy="305.2" rx="1.71" ry="1.68" fill="#a80f0f" stroke="#2a0808" stroke-width="0.9"/>
<text x="1368.57" y="302.83" font-size="6.27" font-family='"Liberation Sans", sans-serif' fill="#141414" font-weight="bold">w12</text>
<ellipse cx="1375.8" cy="303.13" rx="1.71" ry="1.68" fill="#a80f0f" stroke="#2a0808" stroke-width="0.9"/>
<text x="1378.6" y="300.76" font-size="6.27" font-family='"Liberation Sans", sans-serif' fill="#141414" font-weight="bold">w41</text>
<ellipse cx="1374.59" cy="308.85" rx="1.71" ry="1.68" fill="#a80f0f" stroke="#2a0808" stroke-width="0.9"/>
<text x="1377.4" y="306.49" font-size="6.27" font-family='"Liberation Sans", sans-serif' fill="#141414" font-weight="bold">w15</text>
<ellipse cx="1395.66" cy="310.73" rx="1.71" ry="1.68" fill="#a80f0f" stroke="#2a0808" stroke-width="0.9"/>
<text x="1398.47" y="308.36" font-size="6.27" font-family='"Liberation Sans", sans-serif' fill="#141414" font-weight="bold">w23</text>
<ellipse cx="1362.25" cy="314.88" rx="1.71" ry="1.68" fill="#a80f0f" stroke="#2a0808" stroke-width="0.9"/>
<text x="1365.06" y="312.51" font-size="6.27" font-family='"Liberation Sans", sans-serif' fill="#141414" font-weight="bold">w17</text>
<ellipse cx="1454.15" cy="302.73" rx="1.71" ry="1.68" fill="#a80f0f" stroke="#2a0808" stroke-width="0.9"/>
<text x="1456.96" y="300.36" font-size="6.27" font-family='"Liberation Sans", sans-serif' fill="#141414" font-weight="bold">w8</text>
<ellipse cx="1474.02" cy="313.69" rx="1.71" ry="1.68" fill="#a80f0f" stroke="#2a0808" stroke-width="0.9"/>
<text x="1476.83" y="311.32" font-size="6.27" font-family='"Liberation Sans", sans-serif' fill="#141414" font-weight="bold">w33</text>
<ellipse cx="1418.54" cy="322.48" rx="1.71" ry="1.68" fill="#a80f0f" stroke="#2a0808" stroke-width="0.9"/>
<text x="1421.35" y="320.11" font-size="6.27" font-family='"Liberation Sans", sans-serif' fill="#141414" font-weight="bold">w37</text>
<ellipse cx="1491.58" cy="324.35" rx="1.71" ry="1.68" fill="#a80f0f" stroke="#2a0808" stroke-width="0.9"/>
<text x="1494.39" y="321.98" font-size="6.27" font-family='"Liberation Sans", sans-serif' fill="#141414" font-weight="bold">w6</text>
<ellipse cx="1354.02" cy="339.66" rx="1.71" ry="1.68" fill="#a80f0f" stroke="#2a0808" stroke-width="0.9"/>
<text x="1356.83" y="337.29" font-size="6.27" font-family='"Liberation Sans", sans-serif' fill="#141414" font-weight="bold">w2</text>
<ellipse cx="1457.27" cy="349.03" rx="1.71" ry="1.68" fill="#a80f0f" stroke="#2a0808" stroke-width="0.9"/>
<text x="1460.07" y="346.67" font-size="6.27" font-family='"Liberation Sans", sans-serif' fill="#141414" font-weight="bold">w36</text>
<ellipse cx="1480.74" cy="343.8" rx="1.71" ry="1.68" fill="#a80f0f" stroke="#2a0808" stroke-width="0.9"/>
<text x="1483.55" y="341.43" font-size="6.27" font-family='"Liberation Sans", sans-serif' fill="#141414" font-weight="bold">w32</text>
<ellipse cx="1511.85" cy="349.03" rx="1.71" ry="1.68" fill="#a80f0f" stroke="#2a0808" stroke-width="0.9"/>
<text x="1514.65" y="346.67" font-size="6.27" font-family='"Liberation Sans", sans-serif' fill="#141414" font-weight="bold">w38</text>
<ellipse cx="1506.63" cy="367.69" rx="1.71" ry="1.68" fill="#a80f0f" stroke="#2a0808" stroke-width="0.9"/>
<text x="1509.44" y="365.32" font-size="6.27" font-family='"Liberation Sans", sans-serif' fill="#141414" font-weight="bold">w40</text>
<ellipse cx="1488.97" cy="385.76" rx="1.71" ry="1.68" fill="#a80f0f" stroke="#2a0808" stroke-width="0.9"/>
<text x="1491.78" y="383.39" font-size="6.27" font-family='"Liberation Sans", sans-serif' fill="#141414" font-weight="bold">w3</text>
<ellipse cx="1530.31" cy="384.97" rx="1.71" ry="1.68" fill="#a80f0f" stroke="#2a0808" stroke-width="0.9"/>
<text x="1533.12" y="382.6" font-size="6.27" font-family='"Liberation Sans", sans-serif' fill="#141414" font-weight="bold">w7</text>
<ellipse cx="1550.57" cy="378.75" rx="1.71" ry="1.68" fill="#a80f0f" stroke="#2a0808" stroke-width="0.9"/>
<text x="1553.38" y="376.38" font-size="6.27" font-family='"Liberation Sans", sans-serif' fill="#141414" font-weight="bold">w28</text>
<g transform="matrix(1.0033,0,0,0.9872,851.96,-1.04)">
<text x="431.3" y="69.3" font-size="19.7" font-family='"Liberation Sans", sans-serif' fill="#111" textLength="125.3" lengthAdjust="spacingAndGlyphs" font-weight="bold">Wet season</text>
<text x="560.5" y="67.5" font-size="8" font-family='"Liberation Serif", serif' fill="#222" textLength="20.5" lengthAdjust="spacingAndGlyphs" font-weight="bold">(B5)</text>
<g transform="translate(758.6,91.6)" fill="none" stroke="#1a1a1a">
<ellipse rx="24.2" ry="22.6" stroke-width="1"/>
<ellipse rx="22.4" ry="20.8" stroke-width="0.7"/>
<ellipse rx="16" ry="15" stroke-width="0.9" stroke-dasharray="0.9 3.2" stroke="#555"/>
<polygon transform="rotate(0)" points="0,-23 -2.2,-8.5 2.2,-8.5" fill="#111" stroke="none"/>
<polygon transform="rotate(180)" points="0,-23 -2.2,-8.5 2.2,-8.5" fill="#111" stroke="none"/>
<polygon transform="rotate(270)" points="0,-21 -1.6,-8.5 1.6,-8.5" fill="#111" stroke="none"/>
<polygon transform="rotate(90)" points="0,-31 -2.7,-8.5 2.7,-8.5" fill="#111" stroke="none"/>
<polygon transform="rotate(45)" points="0,-19 -2.4,-8.5 2.4,-8.5" fill="#111" stroke="none"/>
<polygon transform="rotate(135)" points="0,-19 -2.4,-8.5 2.4,-8.5" fill="#111" stroke="none"/>
<polygon transform="rotate(225)" points="0,-19 -2.4,-8.5 2.4,-8.5" fill="#111" stroke="none"/>
<polygon transform="rotate(315)" points="0,-19 -2.4,-8.5 2.4,-8.5" fill="#111" stroke="none"/>
<line x1="-29" y1="0" x2="-9" y2="0" stroke-width="0.8"/><line x1="9" y1="0" x2="35" y2="0" stroke-width="1"/>
<line x1="0" y1="-30" x2="0" y2="-9" stroke-width="0.9"/><line x1="0" y1="9" x2="0" y2="27" stroke-width="0.9"/>
<ellipse rx="9.4" ry="8.8" stroke-width="1.5" fill="#fff"/>
<ellipse rx="5" ry="4.6" stroke-width="0.8"/>
</g>
<text x="761.6" y="56.1" font-size="13.5" font-family='"Liberation Serif", serif' fill="#222" text-anchor="middle" font-style="italic" opacity="0.8">N</text>
<text x="760.6" y="137.1" font-size="13.5" font-family='"Liberation Serif", serif' fill="#222" text-anchor="middle" font-style="italic" opacity="0.8">S</text>
<text x="717.6" y="96.1" font-size="13.5" font-family='"Liberation Serif", serif' fill="#222" text-anchor="middle" font-style="italic" opacity="0.8">W</text>
<text x="799.6" y="96.1" font-size="13.5" font-family='"Liberation Serif", serif' fill="#222" text-anchor="middle" font-style="italic" opacity="0.8">E</text>
<g transform="translate(2.99,-9.42)">
<text x="189.3" y="406.5" font-size="11.4" font-family='"Liberation Sans", sans-serif' fill="#111" textLength="17" lengthAdjust="spacingAndGlyphs" font-weight="bold">Cu</text>
<text x="210.3" y="407" font-size="9.3" font-family='"Liberation Serif", serif' fill="#222" textLength="24.5" lengthAdjust="spacingAndGlyphs" font-weight="bold">(ppb)</text>
<text x="189.3" y="425" font-size="11.6" font-family='"Liberation Sans", sans-serif' fill="#111" textLength="34.7" lengthAdjust="spacingAndGlyphs" font-weight="bold">Value</text>
<rect x="188.5" y="432.1" width="24.4" height="24.2" fill="url(#lg34)"/>
<text x="220.6" y="437" font-size="12.3" font-family='"Liberation Sans", sans-serif' fill="#111" textLength="74.76" lengthAdjust="spacingAndGlyphs" font-weight="bold">High : 55.31</text>
<text x="220.6" y="461.2" font-size="12.3" font-family='"Liberation Sans", sans-serif' fill="#111" textLength="64.2" lengthAdjust="spacingAndGlyphs" font-weight="bold">Low : 1.12</text>
</g>
<g transform="translate(-1,-2.33)">
<rect x="425.8" y="452.6" width="203.2" height="8.6" fill="#fff" stroke="#000" stroke-width="1"/>
<rect x="425.8" y="452.6" width="10.1" height="4.3" fill="#000"/>
<rect x="435.9" y="456.9" width="10.2" height="4.3" fill="#000"/>
<rect x="446.1" y="452.6" width="10.3" height="4.3" fill="#000"/>
<rect x="456.4" y="456.9" width="10.4" height="4.3" fill="#000"/>
<rect x="466.8" y="452.6" width="40.6" height="4.3" fill="#000"/>
<rect x="507.4" y="456.9" width="40.6" height="4.3" fill="#000"/>
<rect x="548" y="452.6" width="40.5" height="4.3" fill="#000"/>
<rect x="588.5" y="456.9" width="40.5" height="4.3" fill="#000"/>
<text x="426" y="448.2" font-size="8.4" font-family='"Liberation Sans", sans-serif' fill="#111" text-anchor="middle">2.5</text>
<text x="446" y="448.2" font-size="8.4" font-family='"Liberation Sans", sans-serif' fill="#111" text-anchor="middle">1.25</text>
<text x="466.8" y="448.2" font-size="8.4" font-family='"Liberation Sans", sans-serif' fill="#111" text-anchor="middle">0</text>
<text x="507.4" y="448.2" font-size="8.4" font-family='"Liberation Sans", sans-serif' fill="#111" text-anchor="middle">2.5</text>
<text x="548" y="448.2" font-size="8.4" font-family='"Liberation Sans", sans-serif' fill="#111" text-anchor="middle">5</text>
<text x="588.5" y="448.2" font-size="8.4" font-family='"Liberation Sans", sans-serif' fill="#111" text-anchor="middle">7.5</text>
<text x="629" y="448.2" font-size="8.4" font-family='"Liberation Sans", sans-serif' fill="#111" text-anchor="middle">10</text>
<text x="633" y="460.3" font-size="8.2" font-family='"Liberation Sans", sans-serif' fill="#111" textLength="44.5" lengthAdjust="spacingAndGlyphs">Kilometers</text>
</g>
</g>
<text transform="translate(1165.5,24.1) scale(1.0033,0.9872)" font-size="9.9" font-weight="bold" font-family='"Liberation Sans", sans-serif' fill="#111" text-anchor="middle" textLength="52.2" lengthAdjust="spacingAndGlyphs">52°25'0"E</text>
<text transform="translate(1165.5,486.81) scale(1.0033,0.9872)" font-size="9.9" font-weight="bold" font-family='"Liberation Sans", sans-serif' fill="#111" text-anchor="middle" textLength="52.2" lengthAdjust="spacingAndGlyphs">52°25'0"E</text>
<line x1="1165.5" y1="27.06" x2="1165.5" y2="32" stroke="#111" stroke-width="1.1"/>
<line x1="1165.5" y1="471.8" x2="1165.5" y2="476.44" stroke="#111" stroke-width="1.1"/>
<text transform="translate(1316.67,24.1) scale(1.0033,0.9872)" font-size="9.9" font-weight="bold" font-family='"Liberation Sans", sans-serif' fill="#111" text-anchor="middle" textLength="52.2" lengthAdjust="spacingAndGlyphs">52°30'0"E</text>
<text transform="translate(1316.67,486.81) scale(1.0033,0.9872)" font-size="9.9" font-weight="bold" font-family='"Liberation Sans", sans-serif' fill="#111" text-anchor="middle" textLength="52.2" lengthAdjust="spacingAndGlyphs">52°30'0"E</text>
<line x1="1316.67" y1="27.06" x2="1316.67" y2="32" stroke="#111" stroke-width="1.1"/>
<line x1="1316.67" y1="471.8" x2="1316.67" y2="476.44" stroke="#111" stroke-width="1.1"/>
<text transform="translate(1467.84,24.1) scale(1.0033,0.9872)" font-size="9.9" font-weight="bold" font-family='"Liberation Sans", sans-serif' fill="#111" text-anchor="middle" textLength="52.2" lengthAdjust="spacingAndGlyphs">52°35'0"E</text>
<text transform="translate(1467.84,486.81) scale(1.0033,0.9872)" font-size="9.9" font-weight="bold" font-family='"Liberation Sans", sans-serif' fill="#111" text-anchor="middle" textLength="52.2" lengthAdjust="spacingAndGlyphs">52°35'0"E</text>
<line x1="1467.84" y1="27.06" x2="1467.84" y2="32" stroke="#111" stroke-width="1.1"/>
<line x1="1467.84" y1="471.8" x2="1467.84" y2="476.44" stroke="#111" stroke-width="1.1"/>
<text transform="translate(1619.01,24.1) scale(1.0033,0.9872)" font-size="9.9" font-weight="bold" font-family='"Liberation Sans", sans-serif' fill="#111" text-anchor="middle" textLength="52.2" lengthAdjust="spacingAndGlyphs">52°40'0"E</text>
<text transform="translate(1619.01,486.81) scale(1.0033,0.9872)" font-size="9.9" font-weight="bold" font-family='"Liberation Sans", sans-serif' fill="#111" text-anchor="middle" textLength="52.2" lengthAdjust="spacingAndGlyphs">52°40'0"E</text>
<line x1="1619.01" y1="27.06" x2="1619.01" y2="32" stroke="#111" stroke-width="1.1"/>
<line x1="1619.01" y1="471.8" x2="1619.01" y2="476.44" stroke="#111" stroke-width="1.1"/>
<text transform="translate(1022.98,77.45) scale(1.0033,0.9872)" font-size="9.9" font-weight="bold" font-family='"Liberation Sans", sans-serif' fill="#111" text-anchor="end" textLength="52.2" lengthAdjust="spacingAndGlyphs">29°45'0"N</text>
<text transform="translate(1682.82,77.45) scale(1.0033,0.9872)" font-size="9.9" font-weight="bold" font-family='"Liberation Sans", sans-serif' fill="#111" text-anchor="start" textLength="52.2" lengthAdjust="spacingAndGlyphs">29°45'0"N</text>
<line x1="1024.28" y1="73.5" x2="1029.3" y2="73.5" stroke="#111" stroke-width="1.4"/>
<line x1="1677" y1="73.5" x2="1682.02" y2="73.5" stroke="#111" stroke-width="1.4"/>
<text transform="translate(1022.98,212.7) scale(1.0033,0.9872)" font-size="9.9" font-weight="bold" font-family='"Liberation Sans", sans-serif' fill="#111" text-anchor="end" textLength="52.2" lengthAdjust="spacingAndGlyphs">29°40'0"N</text>
<text transform="translate(1682.82,212.7) scale(1.0033,0.9872)" font-size="9.9" font-weight="bold" font-family='"Liberation Sans", sans-serif' fill="#111" text-anchor="start" textLength="52.2" lengthAdjust="spacingAndGlyphs">29°40'0"N</text>
<line x1="1024.28" y1="208.75" x2="1029.3" y2="208.75" stroke="#111" stroke-width="1.4"/>
<line x1="1677" y1="208.75" x2="1682.02" y2="208.75" stroke="#111" stroke-width="1.4"/>
<text transform="translate(1022.98,347.95) scale(1.0033,0.9872)" font-size="9.9" font-weight="bold" font-family='"Liberation Sans", sans-serif' fill="#111" text-anchor="end" textLength="52.2" lengthAdjust="spacingAndGlyphs">29°35'0"N</text>
<text transform="translate(1682.82,347.95) scale(1.0033,0.9872)" font-size="9.9" font-weight="bold" font-family='"Liberation Sans", sans-serif' fill="#111" text-anchor="start" textLength="52.2" lengthAdjust="spacingAndGlyphs">29°35'0"N</text>
<line x1="1024.28" y1="344" x2="1029.3" y2="344" stroke="#111" stroke-width="1.4"/>
<line x1="1677" y1="344" x2="1682.02" y2="344" stroke="#111" stroke-width="1.4"/>
<g>
</g>
<line x1="1029.3" y1="31.3" x2="1029.3" y2="472.5" stroke="#111" stroke-width="2.2"/>
<line x1="1029.3" y1="32" x2="1677" y2="32" stroke="#111" stroke-width="1.4"/>
<line x1="1677" y1="31.3" x2="1677" y2="472.5" stroke="#111" stroke-width="1.4"/>
<line x1="1029.3" y1="471.8" x2="1677" y2="471.8" stroke="#111" stroke-width="1.4"/>
</g>
<!-- panel 3 -->
<g clip-path="url(#clip3)"><g filter="url(#ramp3)">
<rect x="234" y="573.29" width="535.7" height="483.56" fill="#545454"/>
<rect x="301.3" y="631.3" width="164" height="164" fill="url(#rg35)"/>
<rect x="400.7" y="740" width="92" height="92" fill="url(#rg36)"/>
<rect x="330" y="758" width="84" height="84" fill="url(#rg37)"/>
<g clip-path="url(#sc38)">
<polygon points="300,850 520,860 545,855 590,845 610,880 590,930 565,990 545,985 520,1000 420,985 300,910" fill="#2b2b2b" filter="url(#b6)"/>
</g>
<polygon points="520,870 560,866 590,875 580,940 560,990 540,985 520,1000 505,960" fill="#141414" filter="url(#b6)"/>
<rect x="468" y="892" width="64" height="64" fill="url(#rg39)"/>
<polygon points="330,900 400,970 380,985 320,920" fill="#454545" filter="url(#b7)" opacity="0.8"/>
<rect x="438" y="772" width="124" height="124" fill="url(#rg40)"/>
<rect x="470" y="820" width="34" height="34" fill="url(#rg41)"/>
<rect x="507" y="822" width="40" height="40" fill="url(#rg42)"/>
<rect x="492" y="824" width="28" height="28" fill="url(#rg43)"/>
<rect x="513" y="865" width="20" height="20" fill="url(#rg44)"/>
<polygon points="600,850 628,822 665,845 640,880 610,880" fill="#787878" filter="url(#b3)"/>
<rect x="635" y="826" width="40" height="40" fill="url(#rg45)"/>
<polygon points="566,935 585,900 620,890 640,960 745,950 745,1040 560,1040 548,1000" fill="#757575" filter="url(#b5)"/>
<rect x="572" y="858" width="56" height="56" fill="url(#rg46)"/>
<rect x="587" y="873" width="26" height="26" fill="url(#rg47)"/>
<polygon points="626,890 648,901 665,918 700,919 745,922 745,953 690,958 652,956 634,938 622,912" fill="#ffffff" filter="url(#b3)"/>
<rect x="714" y="910" width="56" height="56" fill="url(#rg48)"/>
<rect x="606" y="887" width="32" height="32" fill="url(#rg49)"/>
<rect x="581.3" y="913" width="44" height="44" fill="url(#rg50)"/>
<rect x="615" y="918" width="24" height="24" fill="url(#rg51)"/>
<rect x="641" y="944" width="22" height="22" fill="url(#rg52)"/>
<rect x="643" y="940" width="68" height="68" fill="url(#rg53)"/>
<rect x="677" y="946" width="40" height="40" fill="url(#rg54)"/>
</g></g>
<g>
<ellipse cx="384.3" cy="713.38" rx="1.7" ry="1.8" fill="#178a78" stroke="#06201c" stroke-width="1"/>
<text x="387.1" y="710.84" font-size="6.48" font-family='"Liberation Sans", sans-serif' fill="#141414" font-weight="bold">w25</text>
<ellipse cx="447.7" cy="785.96" rx="1.7" ry="1.8" fill="#178a78" stroke="#06201c" stroke-width="1"/>
<text x="450.5" y="783.43" font-size="6.48" font-family='"Liberation Sans", sans-serif' fill="#141414" font-weight="bold">w5</text>
<ellipse cx="487" cy="836.89" rx="1.7" ry="1.8" fill="#178a78" stroke="#06201c" stroke-width="1"/>
<text x="489.8" y="834.35" font-size="6.48" font-family='"Liberation Sans", sans-serif' fill="#141414" font-weight="bold">w34</text>
<ellipse cx="524" cy="844.07" rx="1.7" ry="1.8" fill="#178a78" stroke="#06201c" stroke-width="1"/>
<text x="526.8" y="841.54" font-size="6.48" font-family='"Liberation Sans", sans-serif' fill="#141414" font-weight="bold">w39</text>
<ellipse cx="527.9" cy="848.72" rx="1.7" ry="1.8" fill="#178a78" stroke="#06201c" stroke-width="1"/>
<text x="530.7" y="846.19" font-size="6.48" font-family='"Liberation Sans", sans-serif' fill="#141414" font-weight="bold">w31</text>
<ellipse cx="503.3" cy="855.59" rx="1.7" ry="1.8" fill="#178a78" stroke="#06201c" stroke-width="1"/>
<text x="506.1" y="853.05" font-size="6.48" font-family='"Liberation Sans", sans-serif' fill="#141414" font-weight="bold">w1</text>
<ellipse cx="518.8" cy="854.32" rx="1.7" ry="1.8" fill="#178a78" stroke="#06201c" stroke-width="1"/>
<text x="521.6" y="851.79" font-size="6.48" font-family='"Liberation Sans", sans-serif' fill="#141414" font-weight="bold">w9</text>
<ellipse cx="506.5" cy="862.25" rx="1.7" ry="1.8" fill="#178a78" stroke="#06201c" stroke-width="1"/>
<text x="509.3" y="859.71" font-size="6.48" font-family='"Liberation Sans", sans-serif' fill="#141414" font-weight="bold">w3</text>
<ellipse cx="534.9" cy="858.97" rx="1.7" ry="1.8" fill="#178a78" stroke="#06201c" stroke-width="1"/>
<text x="537.7" y="856.43" font-size="6.48" font-family='"Liberation Sans", sans-serif' fill="#141414" font-weight="bold">w18</text>
<ellipse cx="525.3" cy="862.67" rx="1.7" ry="1.8" fill="#178a78" stroke="#06201c" stroke-width="1"/>
<text x="528.1" y="860.13" font-size="6.48" font-family='"Liberation Sans", sans-serif' fill="#141414" font-weight="bold">w16</text>
<ellipse cx="538.8" cy="862.67" rx="1.7" ry="1.8" fill="#178a78" stroke="#06201c" stroke-width="1"/>
<text x="541.6" y="860.13" font-size="6.48" font-family='"Liberation Sans", sans-serif' fill="#141414" font-weight="bold">w4</text>
<ellipse cx="512.1" cy="869.11" rx="1.7" ry="1.8" fill="#178a78" stroke="#06201c" stroke-width="1"/>
<text x="514.9" y="866.58" font-size="6.48" font-family='"Liberation Sans", sans-serif' fill="#141414" font-weight="bold">w14</text>
<ellipse cx="534.9" cy="871.86" rx="1.7" ry="1.8" fill="#178a78" stroke="#06201c" stroke-width="1"/>
<text x="537.7" y="869.32" font-size="6.48" font-family='"Liberation Sans", sans-serif' fill="#141414" font-weight="bold">w35</text>
<ellipse cx="523.2" cy="875.24" rx="1.7" ry="1.8" fill="#178a78" stroke="#06201c" stroke-width="1"/>
<text x="526" y="872.71" font-size="6.48" font-family='"Liberation Sans", sans-serif' fill="#141414" font-weight="bold">w10</text>
<ellipse cx="528.8" cy="876.93" rx="1.7" ry="1.8" fill="#178a78" stroke="#06201c" stroke-width="1"/>
<text x="531.6" y="874.4" font-size="6.48" font-family='"Liberation Sans", sans-serif' fill="#141414" font-weight="bold">w21</text>
<ellipse cx="542.8" cy="876.51" rx="1.7" ry="1.8" fill="#178a78" stroke="#06201c" stroke-width="1"/>
<text x="545.6" y="873.97" font-size="6.48" font-family='"Liberation Sans", sans-serif' fill="#141414" font-weight="bold">w20</text>
<ellipse cx="560" cy="877.04" rx="1.7" ry="1.8" fill="#178a78" stroke="#06201c" stroke-width="1"/>
<text x="562.8" y="874.5" font-size="6.48" font-family='"Liberation Sans", sans-serif' fill="#141414" font-weight="bold">w11</text>
<ellipse cx="562.1" cy="880.21" rx="1.7" ry="1.8" fill="#178a78" stroke="#06201c" stroke-width="1"/>
<text x="564.9" y="877.67" font-size="6.48" font-family='"Liberation Sans", sans-serif' fill="#141414" font-weight="bold">w24</text>
<ellipse cx="582.3" cy="878.41" rx="1.7" ry="1.8" fill="#178a78" stroke="#06201c" stroke-width="1"/>
<text x="585.1" y="875.88" font-size="6.48" font-family='"Liberation Sans", sans-serif' fill="#141414" font-weight="bold">w29</text>
<ellipse cx="567.4" cy="885.28" rx="1.7" ry="1.8" fill="#178a78" stroke="#06201c" stroke-width="1"/>
<text x="570.2" y="882.74" font-size="6.48" font-family='"Liberation Sans", sans-serif' fill="#141414" font-weight="bold">w22</text>
<ellipse cx="541.6" cy="886.76" rx="1.7" ry="1.8" fill="#178a78" stroke="#06201c" stroke-width="1"/>
<text x="544.4" y="884.22" font-size="6.48" font-family='"Liberation Sans", sans-serif' fill="#141414" font-weight="bold">w13</text>
<ellipse cx="512.1" cy="888.98" rx="1.7" ry="1.8" fill="#178a78" stroke="#06201c" stroke-width="1"/>
<text x="514.9" y="886.44" font-size="6.48" font-family='"Liberation Sans", sans-serif' fill="#141414" font-weight="bold">w12</text>
<ellipse cx="522.1" cy="886.76" rx="1.7" ry="1.8" fill="#178a78" stroke="#06201c" stroke-width="1"/>
<text x="524.9" y="884.22" font-size="6.48" font-family='"Liberation Sans", sans-serif' fill="#141414" font-weight="bold">w41</text>
<ellipse cx="520.9" cy="892.89" rx="1.7" ry="1.8" fill="#178a78" stroke="#06201c" stroke-width="1"/>
<text x="523.7" y="890.35" font-size="6.48" font-family='"Liberation Sans", sans-serif' fill="#141414" font-weight="bold">w15</text>
<ellipse cx="541.9" cy="894.89" rx="1.7" ry="1.8" fill="#178a78" stroke="#06201c" stroke-width="1"/>
<text x="544.7" y="892.36" font-size="6.48" font-family='"Liberation Sans", sans-serif' fill="#141414" font-weight="bold">w23</text>
<ellipse cx="508.6" cy="899.33" rx="1.7" ry="1.8" fill="#178a78" stroke="#06201c" stroke-width="1"/>
<text x="511.4" y="896.8" font-size="6.48" font-family='"Liberation Sans", sans-serif' fill="#141414" font-weight="bold">w17</text>
<ellipse cx="600.2" cy="886.34" rx="1.7" ry="1.8" fill="#178a78" stroke="#06201c" stroke-width="1"/>
<text x="603" y="883.8" font-size="6.48" font-family='"Liberation Sans", sans-serif' fill="#141414" font-weight="bold">w8</text>
<ellipse cx="620" cy="898.06" rx="1.7" ry="1.8" fill="#178a78" stroke="#06201c" stroke-width="1"/>
<text x="622.8" y="895.53" font-size="6.48" font-family='"Liberation Sans", sans-serif' fill="#141414" font-weight="bold">w33</text>
<ellipse cx="564.7" cy="907.47" rx="1.7" ry="1.8" fill="#178a78" stroke="#06201c" stroke-width="1"/>
<text x="567.5" y="904.93" font-size="6.48" font-family='"Liberation Sans", sans-serif' fill="#141414" font-weight="bold">w37</text>
<ellipse cx="637.5" cy="909.47" rx="1.7" ry="1.8" fill="#178a78" stroke="#06201c" stroke-width="1"/>
<text x="640.3" y="906.94" font-size="6.48" font-family='"Liberation Sans", sans-serif' fill="#141414" font-weight="bold">w6</text>
<ellipse cx="500.4" cy="925.85" rx="1.7" ry="1.8" fill="#178a78" stroke="#06201c" stroke-width="1"/>
<text x="503.2" y="923.32" font-size="6.48" font-family='"Liberation Sans", sans-serif' fill="#141414" font-weight="bold">w2</text>
<ellipse cx="603.3" cy="935.89" rx="1.7" ry="1.8" fill="#178a78" stroke="#06201c" stroke-width="1"/>
<text x="606.1" y="933.35" font-size="6.48" font-family='"Liberation Sans", sans-serif' fill="#141414" font-weight="bold">w36</text>
<ellipse cx="626.7" cy="930.29" rx="1.7" ry="1.8" fill="#178a78" stroke="#06201c" stroke-width="1"/>
<text x="629.5" y="927.75" font-size="6.48" font-family='"Liberation Sans", sans-serif' fill="#141414" font-weight="bold">w32</text>
<ellipse cx="657.7" cy="935.89" rx="1.7" ry="1.8" fill="#178a78" stroke="#06201c" stroke-width="1"/>
<text x="660.5" y="933.35" font-size="6.48" font-family='"Liberation Sans", sans-serif' fill="#141414" font-weight="bold">w38</text>
<ellipse cx="652.5" cy="955.86" rx="1.7" ry="1.8" fill="#178a78" stroke="#06201c" stroke-width="1"/>
<text x="655.3" y="953.32" font-size="6.48" font-family='"Liberation Sans", sans-serif' fill="#141414" font-weight="bold">w40</text>
<ellipse cx="634.9" cy="975.19" rx="1.7" ry="1.8" fill="#178a78" stroke="#06201c" stroke-width="1"/>
<text x="637.7" y="972.66" font-size="6.48" font-family='"Liberation Sans", sans-serif' fill="#141414" font-weight="bold">w3</text>
<ellipse cx="676.1" cy="974.35" rx="1.7" ry="1.8" fill="#178a78" stroke="#06201c" stroke-width="1"/>
<text x="678.9" y="971.81" font-size="6.48" font-family='"Liberation Sans", sans-serif' fill="#141414" font-weight="bold">w7</text>
<ellipse cx="696.3" cy="967.69" rx="1.7" ry="1.8" fill="#178a78" stroke="#06201c" stroke-width="1"/>
<text x="699.1" y="965.16" font-size="6.48" font-family='"Liberation Sans", sans-serif' fill="#141414" font-weight="bold">w28</text>
<g transform="matrix(1.0000,0,0,1.0566,0,561.23)">
<text x="434.6" y="69.3" font-size="19.7" font-family='"Liberation Sans", sans-serif' fill="#111" textLength="121.5" lengthAdjust="spacingAndGlyphs" font-weight="bold">Dry season</text>
<text x="560.5" y="67.5" font-size="8" font-family='"Liberation Serif", serif' fill="#222" textLength="20.5" lengthAdjust="spacingAndGlyphs" font-weight="bold">(A6)</text>
<g transform="translate(758.6,91.6)" fill="none" stroke="#1a1a1a">
<ellipse rx="24.2" ry="22.6" stroke-width="1"/>
<ellipse rx="22.4" ry="20.8" stroke-width="0.7"/>
<ellipse rx="16" ry="15" stroke-width="0.9" stroke-dasharray="0.9 3.2" stroke="#555"/>
<polygon transform="rotate(0)" points="0,-23 -2.2,-8.5 2.2,-8.5" fill="#111" stroke="none"/>
<polygon transform="rotate(180)" points="0,-23 -2.2,-8.5 2.2,-8.5" fill="#111" stroke="none"/>
<polygon transform="rotate(270)" points="0,-21 -1.6,-8.5 1.6,-8.5" fill="#111" stroke="none"/>
<polygon transform="rotate(90)" points="0,-31 -2.7,-8.5 2.7,-8.5" fill="#111" stroke="none"/>
<polygon transform="rotate(45)" points="0,-19 -2.4,-8.5 2.4,-8.5" fill="#111" stroke="none"/>
<polygon transform="rotate(135)" points="0,-19 -2.4,-8.5 2.4,-8.5" fill="#111" stroke="none"/>
<polygon transform="rotate(225)" points="0,-19 -2.4,-8.5 2.4,-8.5" fill="#111" stroke="none"/>
<polygon transform="rotate(315)" points="0,-19 -2.4,-8.5 2.4,-8.5" fill="#111" stroke="none"/>
<line x1="-29" y1="0" x2="-9" y2="0" stroke-width="0.8"/><line x1="9" y1="0" x2="35" y2="0" stroke-width="1"/>
<line x1="0" y1="-30" x2="0" y2="-9" stroke-width="0.9"/><line x1="0" y1="9" x2="0" y2="27" stroke-width="0.9"/>
<ellipse rx="9.4" ry="8.8" stroke-width="1.5" fill="#fff"/>
<ellipse rx="5" ry="4.6" stroke-width="0.8"/>
</g>
<text x="761.6" y="56.1" font-size="13.5" font-family='"Liberation Serif", serif' fill="#222" text-anchor="middle" font-style="italic" opacity="0.8">N</text>
<text x="760.6" y="137.1" font-size="13.5" font-family='"Liberation Serif", serif' fill="#222" text-anchor="middle" font-style="italic" opacity="0.8">S</text>
<text x="717.6" y="96.1" font-size="13.5" font-family='"Liberation Serif", serif' fill="#222" text-anchor="middle" font-style="italic" opacity="0.8">W</text>
<text x="799.6" y="96.1" font-size="13.5" font-family='"Liberation Serif", serif' fill="#222" text-anchor="middle" font-style="italic" opacity="0.8">E</text>
<g transform="translate(-1,-4.73)">
<text x="189.3" y="406.5" font-size="11.4" font-family='"Liberation Sans", sans-serif' fill="#111" textLength="16" lengthAdjust="spacingAndGlyphs" font-weight="bold">Zn</text>
<text x="207.8" y="406" font-size="6.5" font-family='"Liberation Serif", serif' fill="#333" textLength="18" lengthAdjust="spacingAndGlyphs" font-weight="bold">(ppb)</text>
<text x="189.3" y="425" font-size="11.6" font-family='"Liberation Sans", sans-serif' fill="#111" textLength="34.7" lengthAdjust="spacingAndGlyphs" font-weight="bold">Value</text>
<rect x="188.5" y="432.1" width="24.4" height="24.2" fill="url(#lg55)"/>
<text x="220.6" y="437" font-size="12.3" font-family='"Liberation Sans", sans-serif' fill="#111" textLength="87.22" lengthAdjust="spacingAndGlyphs" font-weight="bold">High : 1159.38</text>
<text x="220.6" y="461.2" font-size="12.3" font-family='"Liberation Sans", sans-serif' fill="#111" textLength="64.2" lengthAdjust="spacingAndGlyphs" font-weight="bold">Low : 6.72</text>
</g>
<g transform="translate(0,0)">
<rect x="425.8" y="452.6" width="203.2" height="8.6" fill="#fff" stroke="#000" stroke-width="1"/>
<rect x="425.8" y="452.6" width="10.1" height="4.3" fill="#000"/>
<rect x="435.9" y="456.9" width="10.2" height="4.3" fill="#000"/>
<rect x="446.1" y="452.6" width="10.3" height="4.3" fill="#000"/>
<rect x="456.4" y="456.9" width="10.4" height="4.3" fill="#000"/>
<rect x="466.8" y="452.6" width="40.6" height="4.3" fill="#000"/>
<rect x="507.4" y="456.9" width="40.6" height="4.3" fill="#000"/>
<rect x="548" y="452.6" width="40.5" height="4.3" fill="#000"/>
<rect x="588.5" y="456.9" width="40.5" height="4.3" fill="#000"/>
<text x="426" y="448.2" font-size="8.4" font-family='"Liberation Sans", sans-serif' fill="#111" text-anchor="middle">2.5</text>
<text x="446" y="448.2" font-size="8.4" font-family='"Liberation Sans", sans-serif' fill="#111" text-anchor="middle">1.25</text>
<text x="466.8" y="448.2" font-size="8.4" font-family='"Liberation Sans", sans-serif' fill="#111" text-anchor="middle">0</text>
<text x="507.4" y="448.2" font-size="8.4" font-family='"Liberation Sans", sans-serif' fill="#111" text-anchor="middle">2.5</text>
<text x="548" y="448.2" font-size="8.4" font-family='"Liberation Sans", sans-serif' fill="#111" text-anchor="middle">5</text>
<text x="588.5" y="448.2" font-size="8.4" font-family='"Liberation Sans", sans-serif' fill="#111" text-anchor="middle">7.5</text>
<text x="629" y="448.2" font-size="8.4" font-family='"Liberation Sans", sans-serif' fill="#111" text-anchor="middle">10</text>
<text x="633" y="460.3" font-size="8.2" font-family='"Liberation Sans", sans-serif' fill="#111" textLength="44.5" lengthAdjust="spacingAndGlyphs">Kilometers</text>
</g>
</g>
<text transform="translate(312.5,588.55) scale(1.0000,1.0566)" font-size="9.9" font-weight="bold" font-family='"Liberation Sans", sans-serif' fill="#111" text-anchor="middle" textLength="52.2" lengthAdjust="spacingAndGlyphs">52°25'0"E</text>
<text transform="translate(312.5,1084.56) scale(1.0000,1.0566)" font-size="9.9" font-weight="bold" font-family='"Liberation Sans", sans-serif' fill="#111" text-anchor="middle" textLength="52.2" lengthAdjust="spacingAndGlyphs">52°25'0"E</text>
<line x1="312.5" y1="591.72" x2="312.5" y2="597" stroke="#111" stroke-width="1.1"/>
<line x1="312.5" y1="1068.5" x2="312.5" y2="1073.47" stroke="#111" stroke-width="1.1"/>
<text transform="translate(463.17,588.55) scale(1.0000,1.0566)" font-size="9.9" font-weight="bold" font-family='"Liberation Sans", sans-serif' fill="#111" text-anchor="middle" textLength="52.2" lengthAdjust="spacingAndGlyphs">52°30'0"E</text>
<text transform="translate(463.17,1084.56) scale(1.0000,1.0566)" font-size="9.9" font-weight="bold" font-family='"Liberation Sans", sans-serif' fill="#111" text-anchor="middle" textLength="52.2" lengthAdjust="spacingAndGlyphs">52°30'0"E</text>
<line x1="463.17" y1="591.72" x2="463.17" y2="597" stroke="#111" stroke-width="1.1"/>
<line x1="463.17" y1="1068.5" x2="463.17" y2="1073.47" stroke="#111" stroke-width="1.1"/>
<text transform="translate(613.84,588.55) scale(1.0000,1.0566)" font-size="9.9" font-weight="bold" font-family='"Liberation Sans", sans-serif' fill="#111" text-anchor="middle" textLength="52.2" lengthAdjust="spacingAndGlyphs">52°35'0"E</text>
<text transform="translate(613.84,1084.56) scale(1.0000,1.0566)" font-size="9.9" font-weight="bold" font-family='"Liberation Sans", sans-serif' fill="#111" text-anchor="middle" textLength="52.2" lengthAdjust="spacingAndGlyphs">52°35'0"E</text>
<line x1="613.84" y1="591.72" x2="613.84" y2="597" stroke="#111" stroke-width="1.1"/>
<line x1="613.84" y1="1068.5" x2="613.84" y2="1073.47" stroke="#111" stroke-width="1.1"/>
<text transform="translate(764.51,588.55) scale(1.0000,1.0566)" font-size="9.9" font-weight="bold" font-family='"Liberation Sans", sans-serif' fill="#111" text-anchor="middle" textLength="52.2" lengthAdjust="spacingAndGlyphs">52°40'0"E</text>
<text transform="translate(764.51,1084.56) scale(1.0000,1.0566)" font-size="9.9" font-weight="bold" font-family='"Liberation Sans", sans-serif' fill="#111" text-anchor="middle" textLength="52.2" lengthAdjust="spacingAndGlyphs">52°40'0"E</text>
<line x1="764.51" y1="591.72" x2="764.51" y2="597" stroke="#111" stroke-width="1.1"/>
<line x1="764.51" y1="1068.5" x2="764.51" y2="1073.47" stroke="#111" stroke-width="1.1"/>
<text transform="translate(170.2,645.23) scale(1.0000,1.0566)" font-size="9.9" font-weight="bold" font-family='"Liberation Sans", sans-serif' fill="#111" text-anchor="end" textLength="52.2" lengthAdjust="spacingAndGlyphs">29°45'0"N</text>
<text transform="translate(828.8,645.23) scale(1.0000,1.0566)" font-size="9.9" font-weight="bold" font-family='"Liberation Sans", sans-serif' fill="#111" text-anchor="start" textLength="52.2" lengthAdjust="spacingAndGlyphs">29°45'0"N</text>
<line x1="171.5" y1="641" x2="176.5" y2="641" stroke="#111" stroke-width="1.4"/>
<line x1="823" y1="641" x2="828" y2="641" stroke="#111" stroke-width="1.4"/>
<text transform="translate(170.2,789.98) scale(1.0000,1.0566)" font-size="9.9" font-weight="bold" font-family='"Liberation Sans", sans-serif' fill="#111" text-anchor="end" textLength="52.2" lengthAdjust="spacingAndGlyphs">29°40'0"N</text>
<text transform="translate(828.8,789.98) scale(1.0000,1.0566)" font-size="9.9" font-weight="bold" font-family='"Liberation Sans", sans-serif' fill="#111" text-anchor="start" textLength="52.2" lengthAdjust="spacingAndGlyphs">29°40'0"N</text>
<line x1="171.5" y1="785.75" x2="176.5" y2="785.75" stroke="#111" stroke-width="1.4"/>
<line x1="823" y1="785.75" x2="828" y2="785.75" stroke="#111" stroke-width="1.4"/>
<text transform="translate(170.2,934.73) scale(1.0000,1.0566)" font-size="9.9" font-weight="bold" font-family='"Liberation Sans", sans-serif' fill="#111" text-anchor="end" textLength="52.2" lengthAdjust="spacingAndGlyphs">29°35'0"N</text>
<text transform="translate(828.8,934.73) scale(1.0000,1.0566)" font-size="9.9" font-weight="bold" font-family='"Liberation Sans", sans-serif' fill="#111" text-anchor="start" textLength="52.2" lengthAdjust="spacingAndGlyphs">29°35'0"N</text>
<line x1="171.5" y1="930.5" x2="176.5" y2="930.5" stroke="#111" stroke-width="1.4"/>
<line x1="823" y1="930.5" x2="828" y2="930.5" stroke="#111" stroke-width="1.4"/>
<g>
</g>
<line x1="176.5" y1="596.3" x2="176.5" y2="1069.2" stroke="#111" stroke-width="2.2"/>
<line x1="176.5" y1="597" x2="823" y2="597" stroke="#111" stroke-width="1.4"/>
<line x1="823" y1="596.3" x2="823" y2="1069.2" stroke="#111" stroke-width="1.4"/>
<line x1="176.5" y1="1068.5" x2="823" y2="1068.5" stroke="#111" stroke-width="1.4"/>
</g>
<!-- panel 4 -->
<g clip-path="url(#clip4)"><g filter="url(#ramp4)">
<rect x="1087.73" y="572.91" width="543.53" height="482.11" fill="#3d3d3d"/>
<rect x="1163" y="636" width="154" height="154" fill="url(#rg56)"/>
<rect x="1261" y="741" width="88" height="88" fill="url(#rg57)"/>
<rect x="1258" y="798" width="64" height="64" fill="url(#rg58)"/>
<polygon points="1233,827 1300,842 1367,862 1367,874 1300,872 1190,870" fill="#212121" filter="url(#b2_5)"/>
<polygon points="1398,843 1433,853 1432,868 1410,872 1393,863" fill="#787878" filter="url(#b3)"/>
<polygon points="1420,857 1431,857 1428,880 1413,880" fill="#b2b2b2" filter="url(#b2)"/>
<polygon points="1438,880 1470,840 1520,840 1500,880 1510,920 1600,925 1600,1030 1420,1030 1415,1000 1432,940" fill="#333333" filter="url(#b3)"/>
<rect x="1470" y="822" width="60" height="60" fill="url(#rg59)"/>
<rect x="1431" y="901" width="64" height="64" fill="url(#rg60)"/>
<rect x="1451" y="929" width="88" height="88" fill="url(#rg61)"/>
<rect x="1510" y="945" width="52" height="52" fill="url(#rg62)"/>
<rect x="1528" y="918" width="104" height="104" fill="url(#rg63)"/>
<polygon points="1433,930 1448,925 1440,1000 1418,1000" fill="#4c4c4c" filter="url(#b4)" opacity="0.9"/>
<polygon points="1228,915 1330,893 1383,875 1390,890 1330,910 1240,932" fill="#4c4c4c" filter="url(#b3)"/>
<g clip-path="url(#sc64)">
<polygon points="1200,850 1440,850 1440,1030 1200,1030" fill="url(#lg65)"/>
<polygon points="1413,900 1432,890 1432,960 1415,995 1405,990" fill="#b2b2b2" filter="url(#b3)" opacity="0.9"/>
<rect x="1335.6" y="908.6" width="112.8" height="112.8" fill="url(#rg66)"/>
</g>
<rect x="1410.3" y="892" width="26" height="26" fill="url(#rg67)"/>
<rect x="1319" y="809" width="52" height="52" fill="url(#rg68)"/>
<rect x="1337" y="827" width="16" height="16" fill="url(#rg69)"/>
<rect x="1381.3" y="845" width="24" height="24" fill="url(#rg70)"/>
<rect x="1355" y="855" width="84" height="84" fill="url(#rg71)"/>
<rect x="1474" y="892" width="72" height="72" fill="url(#rg72)"/>
<rect x="1482" y="903" width="48" height="48" fill="url(#rg73)"/>
<rect x="1485" y="911" width="22" height="22" fill="url(#rg74)"/>
<rect x="1505.3" y="920.3" width="26" height="26" fill="url(#rg75)"/>
</g></g>
<g>
<ellipse cx="1239.99" cy="712.62" rx="1.73" ry="1.79" fill="#a80f0f" stroke="#2a0808" stroke-width="0.9"/>
<text x="1242.84" y="710.1" font-size="6.52" font-family='"Liberation Sans", sans-serif' fill="#141414" font-weight="bold">w25</text>
<ellipse cx="1304.44" cy="784.96" rx="1.73" ry="1.79" fill="#a80f0f" stroke="#2a0808" stroke-width="0.9"/>
<text x="1307.29" y="782.43" font-size="6.52" font-family='"Liberation Sans", sans-serif' fill="#141414" font-weight="bold">w5</text>
<ellipse cx="1344.4" cy="835.71" rx="1.73" ry="1.79" fill="#a80f0f" stroke="#2a0808" stroke-width="0.9"/>
<text x="1347.24" y="833.18" font-size="6.52" font-family='"Liberation Sans", sans-serif' fill="#141414" font-weight="bold">w34</text>
<ellipse cx="1382.01" cy="842.87" rx="1.73" ry="1.79" fill="#a80f0f" stroke="#2a0808" stroke-width="0.9"/>
<text x="1384.86" y="840.34" font-size="6.52" font-family='"Liberation Sans", sans-serif' fill="#141414" font-weight="bold">w39</text>
<ellipse cx="1385.97" cy="847.5" rx="1.73" ry="1.79" fill="#a80f0f" stroke="#2a0808" stroke-width="0.9"/>
<text x="1388.82" y="844.98" font-size="6.52" font-family='"Liberation Sans", sans-serif' fill="#141414" font-weight="bold">w31</text>
<ellipse cx="1360.97" cy="854.35" rx="1.73" ry="1.79" fill="#a80f0f" stroke="#2a0808" stroke-width="0.9"/>
<text x="1363.81" y="851.82" font-size="6.52" font-family='"Liberation Sans", sans-serif' fill="#141414" font-weight="bold">w1</text>
<ellipse cx="1376.72" cy="853.08" rx="1.73" ry="1.79" fill="#a80f0f" stroke="#2a0808" stroke-width="0.9"/>
<text x="1379.57" y="850.56" font-size="6.52" font-family='"Liberation Sans", sans-serif' fill="#141414" font-weight="bold">w9</text>
<ellipse cx="1364.22" cy="860.98" rx="1.73" ry="1.79" fill="#a80f0f" stroke="#2a0808" stroke-width="0.9"/>
<text x="1367.07" y="858.45" font-size="6.52" font-family='"Liberation Sans", sans-serif' fill="#141414" font-weight="bold">w3</text>
<ellipse cx="1393.09" cy="857.72" rx="1.73" ry="1.79" fill="#a80f0f" stroke="#2a0808" stroke-width="0.9"/>
<text x="1395.94" y="855.19" font-size="6.52" font-family='"Liberation Sans", sans-serif' fill="#141414" font-weight="bold">w18</text>
<ellipse cx="1383.33" cy="861.4" rx="1.73" ry="1.79" fill="#a80f0f" stroke="#2a0808" stroke-width="0.9"/>
<text x="1386.18" y="858.88" font-size="6.52" font-family='"Liberation Sans", sans-serif' fill="#141414" font-weight="bold">w16</text>
<ellipse cx="1397.05" cy="861.4" rx="1.73" ry="1.79" fill="#a80f0f" stroke="#2a0808" stroke-width="0.9"/>
<text x="1399.9" y="858.88" font-size="6.52" font-family='"Liberation Sans", sans-serif' fill="#141414" font-weight="bold">w4</text>
<ellipse cx="1369.91" cy="867.83" rx="1.73" ry="1.79" fill="#a80f0f" stroke="#2a0808" stroke-width="0.9"/>
<text x="1372.76" y="865.3" font-size="6.52" font-family='"Liberation Sans", sans-serif' fill="#141414" font-weight="bold">w14</text>
<ellipse cx="1393.09" cy="870.56" rx="1.73" ry="1.79" fill="#a80f0f" stroke="#2a0808" stroke-width="0.9"/>
<text x="1395.94" y="868.04" font-size="6.52" font-family='"Liberation Sans", sans-serif' fill="#141414" font-weight="bold">w35</text>
<ellipse cx="1381.2" cy="873.93" rx="1.73" ry="1.79" fill="#a80f0f" stroke="#2a0808" stroke-width="0.9"/>
<text x="1384.04" y="871.41" font-size="6.52" font-family='"Liberation Sans", sans-serif' fill="#141414" font-weight="bold">w10</text>
<ellipse cx="1386.89" cy="875.62" rx="1.73" ry="1.79" fill="#a80f0f" stroke="#2a0808" stroke-width="0.9"/>
<text x="1389.74" y="873.09" font-size="6.52" font-family='"Liberation Sans", sans-serif' fill="#141414" font-weight="bold">w21</text>
<ellipse cx="1401.12" cy="875.2" rx="1.73" ry="1.79" fill="#a80f0f" stroke="#2a0808" stroke-width="0.9"/>
<text x="1403.97" y="872.67" font-size="6.52" font-family='"Liberation Sans", sans-serif' fill="#141414" font-weight="bold">w20</text>
<ellipse cx="1418.61" cy="875.72" rx="1.73" ry="1.79" fill="#a80f0f" stroke="#2a0808" stroke-width="0.9"/>
<text x="1421.45" y="873.2" font-size="6.52" font-family='"Liberation Sans", sans-serif' fill="#141414" font-weight="bold">w11</text>
<ellipse cx="1420.74" cy="878.88" rx="1.73" ry="1.79" fill="#a80f0f" stroke="#2a0808" stroke-width="0.9"/>
<text x="1423.59" y="876.35" font-size="6.52" font-family='"Liberation Sans", sans-serif' fill="#141414" font-weight="bold">w24</text>
<ellipse cx="1441.28" cy="877.09" rx="1.73" ry="1.79" fill="#a80f0f" stroke="#2a0808" stroke-width="0.9"/>
<text x="1444.12" y="874.56" font-size="6.52" font-family='"Liberation Sans", sans-serif' fill="#141414" font-weight="bold">w29</text>
<ellipse cx="1426.13" cy="883.94" rx="1.73" ry="1.79" fill="#a80f0f" stroke="#2a0808" stroke-width="0.9"/>
<text x="1428.98" y="881.41" font-size="6.52" font-family='"Liberation Sans", sans-serif' fill="#141414" font-weight="bold">w22</text>
<ellipse cx="1399.9" cy="885.41" rx="1.73" ry="1.79" fill="#a80f0f" stroke="#2a0808" stroke-width="0.9"/>
<text x="1402.75" y="882.88" font-size="6.52" font-family='"Liberation Sans", sans-serif' fill="#141414" font-weight="bold">w13</text>
<ellipse cx="1369.91" cy="887.62" rx="1.73" ry="1.79" fill="#a80f0f" stroke="#2a0808" stroke-width="0.9"/>
<text x="1372.76" y="885.09" font-size="6.52" font-family='"Liberation Sans", sans-serif' fill="#141414" font-weight="bold">w12</text>
<ellipse cx="1380.08" cy="885.41" rx="1.73" ry="1.79" fill="#a80f0f" stroke="#2a0808" stroke-width="0.9"/>
<text x="1382.92" y="882.88" font-size="6.52" font-family='"Liberation Sans", sans-serif' fill="#141414" font-weight="bold">w41</text>
<ellipse cx="1378.86" cy="891.52" rx="1.73" ry="1.79" fill="#a80f0f" stroke="#2a0808" stroke-width="0.9"/>
<text x="1381.7" y="888.99" font-size="6.52" font-family='"Liberation Sans", sans-serif' fill="#141414" font-weight="bold">w15</text>
<ellipse cx="1400.21" cy="893.52" rx="1.73" ry="1.79" fill="#a80f0f" stroke="#2a0808" stroke-width="0.9"/>
<text x="1403.05" y="890.99" font-size="6.52" font-family='"Liberation Sans", sans-serif' fill="#141414" font-weight="bold">w23</text>
<ellipse cx="1366.35" cy="897.94" rx="1.73" ry="1.79" fill="#a80f0f" stroke="#2a0808" stroke-width="0.9"/>
<text x="1369.2" y="895.41" font-size="6.52" font-family='"Liberation Sans", sans-serif' fill="#141414" font-weight="bold">w17</text>
<ellipse cx="1459.47" cy="884.99" rx="1.73" ry="1.79" fill="#a80f0f" stroke="#2a0808" stroke-width="0.9"/>
<text x="1462.32" y="882.46" font-size="6.52" font-family='"Liberation Sans", sans-serif' fill="#141414" font-weight="bold">w8</text>
<ellipse cx="1479.6" cy="896.68" rx="1.73" ry="1.79" fill="#a80f0f" stroke="#2a0808" stroke-width="0.9"/>
<text x="1482.45" y="894.15" font-size="6.52" font-family='"Liberation Sans", sans-serif' fill="#141414" font-weight="bold">w33</text>
<ellipse cx="1423.38" cy="906.05" rx="1.73" ry="1.79" fill="#a80f0f" stroke="#2a0808" stroke-width="0.9"/>
<text x="1426.23" y="903.52" font-size="6.52" font-family='"Liberation Sans", sans-serif' fill="#141414" font-weight="bold">w37</text>
<ellipse cx="1497.39" cy="908.05" rx="1.73" ry="1.79" fill="#a80f0f" stroke="#2a0808" stroke-width="0.9"/>
<text x="1500.24" y="905.52" font-size="6.52" font-family='"Liberation Sans", sans-serif' fill="#141414" font-weight="bold">w6</text>
<ellipse cx="1358.02" cy="924.37" rx="1.73" ry="1.79" fill="#a80f0f" stroke="#2a0808" stroke-width="0.9"/>
<text x="1360.86" y="921.84" font-size="6.52" font-family='"Liberation Sans", sans-serif' fill="#141414" font-weight="bold">w2</text>
<ellipse cx="1462.63" cy="934.37" rx="1.73" ry="1.79" fill="#a80f0f" stroke="#2a0808" stroke-width="0.9"/>
<text x="1465.47" y="931.84" font-size="6.52" font-family='"Liberation Sans", sans-serif' fill="#141414" font-weight="bold">w36</text>
<ellipse cx="1486.41" cy="928.79" rx="1.73" ry="1.79" fill="#a80f0f" stroke="#2a0808" stroke-width="0.9"/>
<text x="1489.26" y="926.26" font-size="6.52" font-family='"Liberation Sans", sans-serif' fill="#141414" font-weight="bold">w32</text>
<ellipse cx="1517.93" cy="934.37" rx="1.73" ry="1.79" fill="#a80f0f" stroke="#2a0808" stroke-width="0.9"/>
<text x="1520.77" y="931.84" font-size="6.52" font-family='"Liberation Sans", sans-serif' fill="#141414" font-weight="bold">w38</text>
<ellipse cx="1512.64" cy="954.27" rx="1.73" ry="1.79" fill="#a80f0f" stroke="#2a0808" stroke-width="0.9"/>
<text x="1515.49" y="951.74" font-size="6.52" font-family='"Liberation Sans", sans-serif' fill="#141414" font-weight="bold">w40</text>
<ellipse cx="1494.75" cy="973.54" rx="1.73" ry="1.79" fill="#a80f0f" stroke="#2a0808" stroke-width="0.9"/>
<text x="1497.6" y="971.01" font-size="6.52" font-family='"Liberation Sans", sans-serif' fill="#141414" font-weight="bold">w3</text>
<ellipse cx="1536.63" cy="972.7" rx="1.73" ry="1.79" fill="#a80f0f" stroke="#2a0808" stroke-width="0.9"/>
<text x="1539.48" y="970.17" font-size="6.52" font-family='"Liberation Sans", sans-serif' fill="#141414" font-weight="bold">w7</text>
<ellipse cx="1557.17" cy="966.06" rx="1.73" ry="1.79" fill="#a80f0f" stroke="#2a0808" stroke-width="0.9"/>
<text x="1560.01" y="963.54" font-size="6.52" font-family='"Liberation Sans", sans-serif' fill="#141414" font-weight="bold">w28</text>
<g transform="matrix(1.0166,0,0,1.0529,849.31,561)">
<text x="431.3" y="69.3" font-size="19.7" font-family='"Liberation Sans", sans-serif' fill="#111" textLength="125.3" lengthAdjust="spacingAndGlyphs" font-weight="bold">Wet season</text>
<text x="560.5" y="67.5" font-size="8" font-family='"Liberation Serif", serif' fill="#222" textLength="20.5" lengthAdjust="spacingAndGlyphs" font-weight="bold">(B6)</text>
<g transform="translate(758.6,91.6)" fill="none" stroke="#1a1a1a">
<ellipse rx="24.2" ry="22.6" stroke-width="1"/>
<ellipse rx="22.4" ry="20.8" stroke-width="0.7"/>
<ellipse rx="16" ry="15" stroke-width="0.9" stroke-dasharray="0.9 3.2" stroke="#555"/>
<polygon transform="rotate(0)" points="0,-23 -2.2,-8.5 2.2,-8.5" fill="#111" stroke="none"/>
<polygon transform="rotate(180)" points="0,-23 -2.2,-8.5 2.2,-8.5" fill="#111" stroke="none"/>
<polygon transform="rotate(270)" points="0,-21 -1.6,-8.5 1.6,-8.5" fill="#111" stroke="none"/>
<polygon transform="rotate(90)" points="0,-31 -2.7,-8.5 2.7,-8.5" fill="#111" stroke="none"/>
<polygon transform="rotate(45)" points="0,-19 -2.4,-8.5 2.4,-8.5" fill="#111" stroke="none"/>
<polygon transform="rotate(135)" points="0,-19 -2.4,-8.5 2.4,-8.5" fill="#111" stroke="none"/>
<polygon transform="rotate(225)" points="0,-19 -2.4,-8.5 2.4,-8.5" fill="#111" stroke="none"/>
<polygon transform="rotate(315)" points="0,-19 -2.4,-8.5 2.4,-8.5" fill="#111" stroke="none"/>
<line x1="-29" y1="0" x2="-9" y2="0" stroke-width="0.8"/><line x1="9" y1="0" x2="35" y2="0" stroke-width="1"/>
<line x1="0" y1="-30" x2="0" y2="-9" stroke-width="0.9"/><line x1="0" y1="9" x2="0" y2="27" stroke-width="0.9"/>
<ellipse rx="9.4" ry="8.8" stroke-width="1.5" fill="#fff"/>
<ellipse rx="5" ry="4.6" stroke-width="0.8"/>
</g>
<text x="761.6" y="56.1" font-size="13.5" font-family='"Liberation Serif", serif' fill="#222" text-anchor="middle" font-style="italic" opacity="0.8">N</text>
<text x="760.6" y="137.1" font-size="13.5" font-family='"Liberation Serif", serif' fill="#222" text-anchor="middle" font-style="italic" opacity="0.8">S</text>
<text x="717.6" y="96.1" font-size="13.5" font-family='"Liberation Serif", serif' fill="#222" text-anchor="middle" font-style="italic" opacity="0.8">W</text>
<text x="799.6" y="96.1" font-size="13.5" font-family='"Liberation Serif", serif' fill="#222" text-anchor="middle" font-style="italic" opacity="0.8">E</text>
<g transform="translate(4.92,-6.17)">
<text x="189.3" y="406.5" font-size="11.4" font-family='"Liberation Sans", sans-serif' fill="#111" textLength="16" lengthAdjust="spacingAndGlyphs" font-weight="bold">Zn</text>
<text x="209.3" y="407" font-size="9.3" font-family='"Liberation Serif", serif' fill="#222" textLength="24.5" lengthAdjust="spacingAndGlyphs" font-weight="bold">(ppb)</text>
<text x="189.3" y="425" font-size="11.6" font-family='"Liberation Sans", sans-serif' fill="#111" textLength="34.7" lengthAdjust="spacingAndGlyphs" font-weight="bold">Value</text>
<rect x="188.5" y="432.1" width="24.4" height="24.2" fill="url(#lg76)"/>
<text x="220.6" y="437" font-size="12.3" font-family='"Liberation Sans", sans-serif' fill="#111" textLength="80.99" lengthAdjust="spacingAndGlyphs" font-weight="bold">High : 755.88</text>
<text x="220.6" y="461.2" font-size="12.3" font-family='"Liberation Sans", sans-serif' fill="#111" textLength="64.2" lengthAdjust="spacingAndGlyphs" font-weight="bold">Low : 4.47</text>
</g>
<g transform="translate(0,0)">
<rect x="425.8" y="452.6" width="203.2" height="8.6" fill="#fff" stroke="#000" stroke-width="1"/>
<rect x="425.8" y="452.6" width="10.1" height="4.3" fill="#000"/>
<rect x="435.9" y="456.9" width="10.2" height="4.3" fill="#000"/>
<rect x="446.1" y="452.6" width="10.3" height="4.3" fill="#000"/>
<rect x="456.4" y="456.9" width="10.4" height="4.3" fill="#000"/>
<rect x="466.8" y="452.6" width="40.6" height="4.3" fill="#000"/>
<rect x="507.4" y="456.9" width="40.6" height="4.3" fill="#000"/>
<rect x="548" y="452.6" width="40.5" height="4.3" fill="#000"/>
<rect x="588.5" y="456.9" width="40.5" height="4.3" fill="#000"/>
<text x="426" y="448.2" font-size="8.4" font-family='"Liberation Sans", sans-serif' fill="#111" text-anchor="middle">2.5</text>
<text x="446" y="448.2" font-size="8.4" font-family='"Liberation Sans", sans-serif' fill="#111" text-anchor="middle">1.25</text>
<text x="466.8" y="448.2" font-size="8.4" font-family='"Liberation Sans", sans-serif' fill="#111" text-anchor="middle">0</text>
<text x="507.4" y="448.2" font-size="8.4" font-family='"Liberation Sans", sans-serif' fill="#111" text-anchor="middle">2.5</text>
<text x="548" y="448.2" font-size="8.4" font-family='"Liberation Sans", sans-serif' fill="#111" text-anchor="middle">5</text>
<text x="588.5" y="448.2" font-size="8.4" font-family='"Liberation Sans", sans-serif' fill="#111" text-anchor="middle">7.5</text>
<text x="629" y="448.2" font-size="8.4" font-family='"Liberation Sans", sans-serif' fill="#111" text-anchor="middle">10</text>
<text x="633" y="460.3" font-size="8.2" font-family='"Liberation Sans", sans-serif' fill="#111" textLength="44.5" lengthAdjust="spacingAndGlyphs">Kilometers</text>
</g>
</g>
<text transform="translate(1167,587.58) scale(1.0166,1.0529)" font-size="9.9" font-weight="bold" font-family='"Liberation Sans", sans-serif' fill="#111" text-anchor="middle" textLength="52.2" lengthAdjust="spacingAndGlyphs">52°25'0"E</text>
<text transform="translate(1167,1082) scale(1.0166,1.0529)" font-size="9.9" font-weight="bold" font-family='"Liberation Sans", sans-serif' fill="#111" text-anchor="middle" textLength="52.2" lengthAdjust="spacingAndGlyphs">52°25'0"E</text>
<line x1="1167" y1="590.74" x2="1167" y2="596" stroke="#111" stroke-width="1.1"/>
<line x1="1167" y1="1066" x2="1167" y2="1070.95" stroke="#111" stroke-width="1.1"/>
<text transform="translate(1320.17,587.58) scale(1.0166,1.0529)" font-size="9.9" font-weight="bold" font-family='"Liberation Sans", sans-serif' fill="#111" text-anchor="middle" textLength="52.2" lengthAdjust="spacingAndGlyphs">52°30'0"E</text>
<text transform="translate(1320.17,1082) scale(1.0166,1.0529)" font-size="9.9" font-weight="bold" font-family='"Liberation Sans", sans-serif' fill="#111" text-anchor="middle" textLength="52.2" lengthAdjust="spacingAndGlyphs">52°30'0"E</text>
<line x1="1320.17" y1="590.74" x2="1320.17" y2="596" stroke="#111" stroke-width="1.1"/>
<line x1="1320.17" y1="1066" x2="1320.17" y2="1070.95" stroke="#111" stroke-width="1.1"/>
<text transform="translate(1473.34,587.58) scale(1.0166,1.0529)" font-size="9.9" font-weight="bold" font-family='"Liberation Sans", sans-serif' fill="#111" text-anchor="middle" textLength="52.2" lengthAdjust="spacingAndGlyphs">52°35'0"E</text>
<text transform="translate(1473.34,1082) scale(1.0166,1.0529)" font-size="9.9" font-weight="bold" font-family='"Liberation Sans", sans-serif' fill="#111" text-anchor="middle" textLength="52.2" lengthAdjust="spacingAndGlyphs">52°35'0"E</text>
<line x1="1473.34" y1="590.74" x2="1473.34" y2="596" stroke="#111" stroke-width="1.1"/>
<line x1="1473.34" y1="1066" x2="1473.34" y2="1070.95" stroke="#111" stroke-width="1.1"/>
<text transform="translate(1626.51,587.58) scale(1.0166,1.0529)" font-size="9.9" font-weight="bold" font-family='"Liberation Sans", sans-serif' fill="#111" text-anchor="middle" textLength="52.2" lengthAdjust="spacingAndGlyphs">52°40'0"E</text>
<text transform="translate(1626.51,1082) scale(1.0166,1.0529)" font-size="9.9" font-weight="bold" font-family='"Liberation Sans", sans-serif' fill="#111" text-anchor="middle" textLength="52.2" lengthAdjust="spacingAndGlyphs">52°40'0"E</text>
<line x1="1626.51" y1="590.74" x2="1626.51" y2="596" stroke="#111" stroke-width="1.1"/>
<line x1="1626.51" y1="1066" x2="1626.51" y2="1070.95" stroke="#111" stroke-width="1.1"/>
<text transform="translate(1024.1,644.71) scale(1.0166,1.0529)" font-size="9.9" font-weight="bold" font-family='"Liberation Sans", sans-serif' fill="#111" text-anchor="end" textLength="52.2" lengthAdjust="spacingAndGlyphs">29°45'0"N</text>
<text transform="translate(1690.9,644.71) scale(1.0166,1.0529)" font-size="9.9" font-weight="bold" font-family='"Liberation Sans", sans-serif' fill="#111" text-anchor="start" textLength="52.2" lengthAdjust="spacingAndGlyphs">29°45'0"N</text>
<line x1="1025.42" y1="640.5" x2="1030.5" y2="640.5" stroke="#111" stroke-width="1.4"/>
<line x1="1685" y1="640.5" x2="1690.08" y2="640.5" stroke="#111" stroke-width="1.4"/>
<text transform="translate(1024.1,788.96) scale(1.0166,1.0529)" font-size="9.9" font-weight="bold" font-family='"Liberation Sans", sans-serif' fill="#111" text-anchor="end" textLength="52.2" lengthAdjust="spacingAndGlyphs">29°40'0"N</text>
<text transform="translate(1690.9,788.96) scale(1.0166,1.0529)" font-size="9.9" font-weight="bold" font-family='"Liberation Sans", sans-serif' fill="#111" text-anchor="start" textLength="52.2" lengthAdjust="spacingAndGlyphs">29°40'0"N</text>
<line x1="1025.42" y1="784.75" x2="1030.5" y2="784.75" stroke="#111" stroke-width="1.4"/>
<line x1="1685" y1="784.75" x2="1690.08" y2="784.75" stroke="#111" stroke-width="1.4"/>
<text transform="translate(1024.1,933.21) scale(1.0166,1.0529)" font-size="9.9" font-weight="bold" font-family='"Liberation Sans", sans-serif' fill="#111" text-anchor="end" textLength="52.2" lengthAdjust="spacingAndGlyphs">29°35'0"N</text>
<text transform="translate(1690.9,933.21) scale(1.0166,1.0529)" font-size="9.9" font-weight="bold" font-family='"Liberation Sans", sans-serif' fill="#111" text-anchor="start" textLength="52.2" lengthAdjust="spacingAndGlyphs">29°35'0"N</text>
<line x1="1025.42" y1="929" x2="1030.5" y2="929" stroke="#111" stroke-width="1.4"/>
<line x1="1685" y1="929" x2="1690.08" y2="929" stroke="#111" stroke-width="1.4"/>
<g>
</g>
<line x1="1030.5" y1="595.3" x2="1030.5" y2="1066.7" stroke="#111" stroke-width="2.2"/>
<line x1="1030.5" y1="596" x2="1685" y2="596" stroke="#111" stroke-width="1.4"/>
<line x1="1685" y1="595.3" x2="1685" y2="1066.7" stroke="#111" stroke-width="1.4"/>
<line x1="1030.5" y1="1066" x2="1685" y2="1066" stroke="#111" stroke-width="1.4"/>
</g>
<!-- panel 5 -->
<g clip-path="url(#clip5)"><g filter="url(#ramp5)">
<rect x="215.45" y="1197.79" width="536.2" height="653.85" fill="#292929"/>
<rect x="-1040" y="50" width="3000" height="3000" fill="url(#rg77)"/>
<polygon points="476,1572 500,1600 400,1735 340,1800 300,1740 385,1665 440,1600" fill="#808080" filter="url(#b7)"/>
<polygon points="200,1200 520,1200 520,1545 200,1545" fill="url(#lg78)"/>
<polygon points="200,1200 520,1200 520,1456 200,1456" fill="url(#lg79)"/>
<rect x="403" y="1328" width="84" height="84" fill="url(#rg80)"/>
<rect x="260" y="1276" width="212" height="212" fill="url(#rg81)"/>
<rect x="386" y="1440" width="88" height="88" fill="url(#rg82)"/>
<rect x="411" y="1502" width="96" height="96" fill="url(#rg83)"/>
<polygon points="501,1528 492,1553 489,1573 493,1590 505,1598 516,1621 509,1703 493,1765 480,1900 800,1900 800,1400 520,1500" fill="#292929" filter="url(#b2_5)"/>
<rect x="453" y="1551" width="82" height="82" fill="url(#rg84)"/>
<rect x="486.5" y="1592.5" width="121" height="121" fill="url(#rg85)"/>
<rect x="529.5" y="1632.5" width="121" height="121" fill="url(#rg86)"/>
<rect x="588" y="1608" width="64" height="64" fill="url(#rg87)"/>
<g clip-path="url(#sc88)">
<polygon points="384,1724 480,1592 600,1600 600,1800 400,1800" fill="url(#lg89)" filter="url(#b2_5)"/>
<rect x="438.9" y="1635" width="87.2" height="87.2" fill="url(#rg90)"/>
</g>
<rect x="480.25" y="1586.85" width="43.1" height="43.1" fill="url(#rg91)"/>
</g></g>
<g>
<ellipse cx="365.88" cy="1381.75" rx="1.7" ry="2.53" fill="#178a78" stroke="#06201c" stroke-width="1"/>
<text x="368.68" y="1378.19" font-size="7.68" font-family='"Liberation Sans", sans-serif' fill="#141414" font-weight="bold">w25</text>
<ellipse cx="429.34" cy="1483.8" rx="1.7" ry="2.53" fill="#178a78" stroke="#06201c" stroke-width="1"/>
<text x="432.15" y="1480.23" font-size="7.68" font-family='"Liberation Sans", sans-serif' fill="#141414" font-weight="bold">w5</text>
<ellipse cx="468.69" cy="1555.39" rx="1.7" ry="2.53" fill="#178a78" stroke="#06201c" stroke-width="1"/>
<text x="471.49" y="1551.83" font-size="7.68" font-family='"Liberation Sans", sans-serif' fill="#141414" font-weight="bold">w34</text>
<ellipse cx="505.72" cy="1565.49" rx="1.7" ry="2.53" fill="#178a78" stroke="#06201c" stroke-width="1"/>
<text x="508.53" y="1561.93" font-size="7.68" font-family='"Liberation Sans", sans-serif' fill="#141414" font-weight="bold">w39</text>
<ellipse cx="509.63" cy="1572.03" rx="1.7" ry="2.53" fill="#178a78" stroke="#06201c" stroke-width="1"/>
<text x="512.43" y="1568.46" font-size="7.68" font-family='"Liberation Sans", sans-serif' fill="#141414" font-weight="bold">w31</text>
<ellipse cx="485" cy="1581.69" rx="1.7" ry="2.53" fill="#178a78" stroke="#06201c" stroke-width="1"/>
<text x="487.81" y="1578.12" font-size="7.68" font-family='"Liberation Sans", sans-serif' fill="#141414" font-weight="bold">w1</text>
<ellipse cx="500.52" cy="1579.9" rx="1.7" ry="2.53" fill="#178a78" stroke="#06201c" stroke-width="1"/>
<text x="503.32" y="1576.34" font-size="7.68" font-family='"Liberation Sans", sans-serif' fill="#141414" font-weight="bold">w9</text>
<ellipse cx="488.21" cy="1591.04" rx="1.7" ry="2.53" fill="#178a78" stroke="#06201c" stroke-width="1"/>
<text x="491.01" y="1587.48" font-size="7.68" font-family='"Liberation Sans", sans-serif' fill="#141414" font-weight="bold">w3</text>
<ellipse cx="516.64" cy="1586.44" rx="1.7" ry="2.53" fill="#178a78" stroke="#06201c" stroke-width="1"/>
<text x="519.44" y="1582.87" font-size="7.68" font-family='"Liberation Sans", sans-serif' fill="#141414" font-weight="bold">w18</text>
<ellipse cx="507.03" cy="1591.64" rx="1.7" ry="2.53" fill="#178a78" stroke="#06201c" stroke-width="1"/>
<text x="509.83" y="1588.07" font-size="7.68" font-family='"Liberation Sans", sans-serif' fill="#141414" font-weight="bold">w16</text>
<ellipse cx="520.54" cy="1591.64" rx="1.7" ry="2.53" fill="#178a78" stroke="#06201c" stroke-width="1"/>
<text x="523.34" y="1588.07" font-size="7.68" font-family='"Liberation Sans", sans-serif' fill="#141414" font-weight="bold">w4</text>
<ellipse cx="493.81" cy="1600.7" rx="1.7" ry="2.53" fill="#178a78" stroke="#06201c" stroke-width="1"/>
<text x="496.61" y="1597.13" font-size="7.68" font-family='"Liberation Sans", sans-serif' fill="#141414" font-weight="bold">w14</text>
<ellipse cx="516.64" cy="1604.56" rx="1.7" ry="2.53" fill="#178a78" stroke="#06201c" stroke-width="1"/>
<text x="519.44" y="1601" font-size="7.68" font-family='"Liberation Sans", sans-serif' fill="#141414" font-weight="bold">w35</text>
<ellipse cx="504.92" cy="1609.31" rx="1.7" ry="2.53" fill="#178a78" stroke="#06201c" stroke-width="1"/>
<text x="507.73" y="1605.75" font-size="7.68" font-family='"Liberation Sans", sans-serif' fill="#141414" font-weight="bold">w10</text>
<ellipse cx="510.53" cy="1611.69" rx="1.7" ry="2.53" fill="#178a78" stroke="#06201c" stroke-width="1"/>
<text x="513.33" y="1608.13" font-size="7.68" font-family='"Liberation Sans", sans-serif' fill="#141414" font-weight="bold">w21</text>
<ellipse cx="524.54" cy="1611.1" rx="1.7" ry="2.53" fill="#178a78" stroke="#06201c" stroke-width="1"/>
<text x="527.35" y="1607.53" font-size="7.68" font-family='"Liberation Sans", sans-serif' fill="#141414" font-weight="bold">w20</text>
<ellipse cx="541.76" cy="1611.84" rx="1.7" ry="2.53" fill="#178a78" stroke="#06201c" stroke-width="1"/>
<text x="544.57" y="1608.27" font-size="7.68" font-family='"Liberation Sans", sans-serif' fill="#141414" font-weight="bold">w11</text>
<ellipse cx="543.87" cy="1616.29" rx="1.7" ry="2.53" fill="#178a78" stroke="#06201c" stroke-width="1"/>
<text x="546.67" y="1612.73" font-size="7.68" font-family='"Liberation Sans", sans-serif' fill="#141414" font-weight="bold">w24</text>
<ellipse cx="564.09" cy="1613.77" rx="1.7" ry="2.53" fill="#178a78" stroke="#06201c" stroke-width="1"/>
<text x="566.89" y="1610.2" font-size="7.68" font-family='"Liberation Sans", sans-serif' fill="#141414" font-weight="bold">w29</text>
<ellipse cx="549.17" cy="1623.42" rx="1.7" ry="2.53" fill="#178a78" stroke="#06201c" stroke-width="1"/>
<text x="551.97" y="1619.86" font-size="7.68" font-family='"Liberation Sans", sans-serif' fill="#141414" font-weight="bold">w22</text>
<ellipse cx="523.34" cy="1625.5" rx="1.7" ry="2.53" fill="#178a78" stroke="#06201c" stroke-width="1"/>
<text x="526.15" y="1621.94" font-size="7.68" font-family='"Liberation Sans", sans-serif' fill="#141414" font-weight="bold">w13</text>
<ellipse cx="493.81" cy="1628.62" rx="1.7" ry="2.53" fill="#178a78" stroke="#06201c" stroke-width="1"/>
<text x="496.61" y="1625.06" font-size="7.68" font-family='"Liberation Sans", sans-serif' fill="#141414" font-weight="bold">w12</text>
<ellipse cx="503.82" cy="1625.5" rx="1.7" ry="2.53" fill="#178a78" stroke="#06201c" stroke-width="1"/>
<text x="506.63" y="1621.94" font-size="7.68" font-family='"Liberation Sans", sans-serif' fill="#141414" font-weight="bold">w41</text>
<ellipse cx="502.62" cy="1634.12" rx="1.7" ry="2.53" fill="#178a78" stroke="#06201c" stroke-width="1"/>
<text x="505.42" y="1630.55" font-size="7.68" font-family='"Liberation Sans", sans-serif' fill="#141414" font-weight="bold">w15</text>
<ellipse cx="523.64" cy="1636.94" rx="1.7" ry="2.53" fill="#178a78" stroke="#06201c" stroke-width="1"/>
<text x="526.45" y="1633.38" font-size="7.68" font-family='"Liberation Sans", sans-serif' fill="#141414" font-weight="bold">w23</text>
<ellipse cx="490.31" cy="1643.18" rx="1.7" ry="2.53" fill="#178a78" stroke="#06201c" stroke-width="1"/>
<text x="493.11" y="1639.62" font-size="7.68" font-family='"Liberation Sans", sans-serif' fill="#141414" font-weight="bold">w17</text>
<ellipse cx="582.01" cy="1624.91" rx="1.7" ry="2.53" fill="#178a78" stroke="#06201c" stroke-width="1"/>
<text x="584.81" y="1621.35" font-size="7.68" font-family='"Liberation Sans", sans-serif' fill="#141414" font-weight="bold">w8</text>
<ellipse cx="601.83" cy="1641.4" rx="1.7" ry="2.53" fill="#178a78" stroke="#06201c" stroke-width="1"/>
<text x="604.63" y="1637.83" font-size="7.68" font-family='"Liberation Sans", sans-serif' fill="#141414" font-weight="bold">w33</text>
<ellipse cx="546.47" cy="1654.62" rx="1.7" ry="2.53" fill="#178a78" stroke="#06201c" stroke-width="1"/>
<text x="549.27" y="1651.05" font-size="7.68" font-family='"Liberation Sans", sans-serif' fill="#141414" font-weight="bold">w37</text>
<ellipse cx="619.35" cy="1657.44" rx="1.7" ry="2.53" fill="#178a78" stroke="#06201c" stroke-width="1"/>
<text x="622.15" y="1653.88" font-size="7.68" font-family='"Liberation Sans", sans-serif' fill="#141414" font-weight="bold">w6</text>
<ellipse cx="482.1" cy="1680.46" rx="1.7" ry="2.53" fill="#178a78" stroke="#06201c" stroke-width="1"/>
<text x="484.9" y="1676.9" font-size="7.68" font-family='"Liberation Sans", sans-serif' fill="#141414" font-weight="bold">w2</text>
<ellipse cx="585.11" cy="1694.58" rx="1.7" ry="2.53" fill="#178a78" stroke="#06201c" stroke-width="1"/>
<text x="587.91" y="1691.01" font-size="7.68" font-family='"Liberation Sans", sans-serif' fill="#141414" font-weight="bold">w36</text>
<ellipse cx="608.53" cy="1686.7" rx="1.7" ry="2.53" fill="#178a78" stroke="#06201c" stroke-width="1"/>
<text x="611.34" y="1683.14" font-size="7.68" font-family='"Liberation Sans", sans-serif' fill="#141414" font-weight="bold">w32</text>
<ellipse cx="639.57" cy="1694.58" rx="1.7" ry="2.53" fill="#178a78" stroke="#06201c" stroke-width="1"/>
<text x="642.37" y="1691.01" font-size="7.68" font-family='"Liberation Sans", sans-serif' fill="#141414" font-weight="bold">w38</text>
<ellipse cx="634.36" cy="1722.65" rx="1.7" ry="2.53" fill="#178a78" stroke="#06201c" stroke-width="1"/>
<text x="637.16" y="1719.08" font-size="7.68" font-family='"Liberation Sans", sans-serif' fill="#141414" font-weight="bold">w40</text>
<ellipse cx="616.74" cy="1749.83" rx="1.7" ry="2.53" fill="#178a78" stroke="#06201c" stroke-width="1"/>
<text x="619.55" y="1746.27" font-size="7.68" font-family='"Liberation Sans", sans-serif' fill="#141414" font-weight="bold">w3</text>
<ellipse cx="657.99" cy="1748.64" rx="1.7" ry="2.53" fill="#178a78" stroke="#06201c" stroke-width="1"/>
<text x="660.79" y="1745.08" font-size="7.68" font-family='"Liberation Sans", sans-serif' fill="#141414" font-weight="bold">w7</text>
<ellipse cx="678.21" cy="1739.29" rx="1.7" ry="2.53" fill="#178a78" stroke="#06201c" stroke-width="1"/>
<text x="681.01" y="1735.72" font-size="7.68" font-family='"Liberation Sans", sans-serif' fill="#141414" font-weight="bold">w28</text>
<g transform="matrix(1.0011,0,0,1.4854,-18.83,1167.85)">
<text x="434.6" y="69.3" font-size="19.7" font-family='"Liberation Sans", sans-serif' fill="#111" textLength="121.5" lengthAdjust="spacingAndGlyphs" font-weight="bold">Dry season</text>
<text x="560.5" y="67.5" font-size="8" font-family='"Liberation Serif", serif' fill="#222" textLength="20.5" lengthAdjust="spacingAndGlyphs" font-weight="bold">(A7)</text>
<g transform="translate(758.6,91.6)" fill="none" stroke="#1a1a1a">
<ellipse rx="24.2" ry="22.6" stroke-width="1"/>
<ellipse rx="22.4" ry="20.8" stroke-width="0.7"/>
<ellipse rx="16" ry="15" stroke-width="0.9" stroke-dasharray="0.9 3.2" stroke="#555"/>
<polygon transform="rotate(0)" points="0,-23 -2.2,-8.5 2.2,-8.5" fill="#111" stroke="none"/>
<polygon transform="rotate(180)" points="0,-23 -2.2,-8.5 2.2,-8.5" fill="#111" stroke="none"/>
<polygon transform="rotate(270)" points="0,-21 -1.6,-8.5 1.6,-8.5" fill="#111" stroke="none"/>
<polygon transform="rotate(90)" points="0,-31 -2.7,-8.5 2.7,-8.5" fill="#111" stroke="none"/>
<polygon transform="rotate(45)" points="0,-19 -2.4,-8.5 2.4,-8.5" fill="#111" stroke="none"/>
<polygon transform="rotate(135)" points="0,-19 -2.4,-8.5 2.4,-8.5" fill="#111" stroke="none"/>
<polygon transform="rotate(225)" points="0,-19 -2.4,-8.5 2.4,-8.5" fill="#111" stroke="none"/>
<polygon transform="rotate(315)" points="0,-19 -2.4,-8.5 2.4,-8.5" fill="#111" stroke="none"/>
<line x1="-29" y1="0" x2="-9" y2="0" stroke-width="0.8"/><line x1="9" y1="0" x2="35" y2="0" stroke-width="1"/>
<line x1="0" y1="-30" x2="0" y2="-9" stroke-width="0.9"/><line x1="0" y1="9" x2="0" y2="27" stroke-width="0.9"/>
<ellipse rx="9.4" ry="8.8" stroke-width="1.5" fill="#fff"/>
<ellipse rx="5" ry="4.6" stroke-width="0.8"/>
</g>
<text x="761.6" y="56.1" font-size="13.5" font-family='"Liberation Serif", serif' fill="#222" text-anchor="middle" font-style="italic" opacity="0.8">N</text>
<text x="760.6" y="137.1" font-size="13.5" font-family='"Liberation Serif", serif' fill="#222" text-anchor="middle" font-style="italic" opacity="0.8">S</text>
<text x="717.6" y="96.1" font-size="13.5" font-family='"Liberation Serif", serif' fill="#222" text-anchor="middle" font-style="italic" opacity="0.8">W</text>
<text x="799.6" y="96.1" font-size="13.5" font-family='"Liberation Serif", serif' fill="#222" text-anchor="middle" font-style="italic" opacity="0.8">E</text>
<g transform="translate(-2,1.01)">
<text x="189.3" y="406.5" font-size="11.4" font-family='"Liberation Sans", sans-serif' fill="#111" textLength="18.5" lengthAdjust="spacingAndGlyphs" font-weight="bold">Mn</text>
<text x="210.3" y="406" font-size="6.5" font-family='"Liberation Serif", serif' fill="#333" textLength="18" lengthAdjust="spacingAndGlyphs" font-weight="bold">(ppb)</text>
<text x="189.3" y="425" font-size="11.6" font-family='"Liberation Sans", sans-serif' fill="#111" textLength="34.7" lengthAdjust="spacingAndGlyphs" font-weight="bold">Value</text>
<rect x="188.5" y="432.1" width="24.4" height="24.2" fill="url(#lg92)"/>
<text x="220.6" y="437" font-size="12.3" font-family='"Liberation Sans", sans-serif' fill="#111" textLength="80.99" lengthAdjust="spacingAndGlyphs" font-weight="bold">High : 887.49</text>
<text x="220.6" y="461.2" font-size="12.3" font-family='"Liberation Sans", sans-serif' fill="#111" textLength="70.62" lengthAdjust="spacingAndGlyphs" font-weight="bold">Low : 13.08</text>
</g>
<g transform="translate(0,-1.68)">
<rect x="425.8" y="452.6" width="203.2" height="8.6" fill="#fff" stroke="#000" stroke-width="1"/>
<rect x="425.8" y="452.6" width="10.1" height="4.3" fill="#000"/>
<rect x="435.9" y="456.9" width="10.2" height="4.3" fill="#000"/>
<rect x="446.1" y="452.6" width="10.3" height="4.3" fill="#000"/>
<rect x="456.4" y="456.9" width="10.4" height="4.3" fill="#000"/>
<rect x="466.8" y="452.6" width="40.6" height="4.3" fill="#000"/>
<rect x="507.4" y="456.9" width="40.6" height="4.3" fill="#000"/>
<rect x="548" y="452.6" width="40.5" height="4.3" fill="#000"/>
<rect x="588.5" y="456.9" width="40.5" height="4.3" fill="#000"/>
<text x="426" y="448.2" font-size="8.4" font-family='"Liberation Sans", sans-serif' fill="#111" text-anchor="middle">2.5</text>
<text x="446" y="448.2" font-size="8.4" font-family='"Liberation Sans", sans-serif' fill="#111" text-anchor="middle">1.25</text>
<text x="466.8" y="448.2" font-size="8.4" font-family='"Liberation Sans", sans-serif' fill="#111" text-anchor="middle">0</text>
<text x="507.4" y="448.2" font-size="8.4" font-family='"Liberation Sans", sans-serif' fill="#111" text-anchor="middle">2.5</text>
<text x="548" y="448.2" font-size="8.4" font-family='"Liberation Sans", sans-serif' fill="#111" text-anchor="middle">5</text>
<text x="588.5" y="448.2" font-size="8.4" font-family='"Liberation Sans", sans-serif' fill="#111" text-anchor="middle">7.5</text>
<text x="629" y="448.2" font-size="8.4" font-family='"Liberation Sans", sans-serif' fill="#111" text-anchor="middle">10</text>
<text x="633" y="460.3" font-size="8.2" font-family='"Liberation Sans", sans-serif' fill="#111" textLength="44.5" lengthAdjust="spacingAndGlyphs">Kilometers</text>
</g>
</g>
<text transform="translate(294,1204.62) scale(1.0011,1.4854)" font-size="9.9" font-weight="bold" font-family='"Liberation Sans", sans-serif' fill="#111" text-anchor="middle" textLength="52.2" lengthAdjust="spacingAndGlyphs">52°25'0"E</text>
<text transform="translate(294,1903.08) scale(1.0011,1.4854)" font-size="9.9" font-weight="bold" font-family='"Liberation Sans", sans-serif' fill="#111" text-anchor="middle" textLength="52.2" lengthAdjust="spacingAndGlyphs">52°25'0"E</text>
<line x1="294" y1="1209.07" x2="294" y2="1216.5" stroke="#111" stroke-width="1.1"/>
<line x1="294" y1="1880.5" x2="294" y2="1887.48" stroke="#111" stroke-width="1.1"/>
<text transform="translate(444.83,1204.62) scale(1.0011,1.4854)" font-size="9.9" font-weight="bold" font-family='"Liberation Sans", sans-serif' fill="#111" text-anchor="middle" textLength="52.2" lengthAdjust="spacingAndGlyphs">52°30'0"E</text>
<text transform="translate(444.83,1903.08) scale(1.0011,1.4854)" font-size="9.9" font-weight="bold" font-family='"Liberation Sans", sans-serif' fill="#111" text-anchor="middle" textLength="52.2" lengthAdjust="spacingAndGlyphs">52°30'0"E</text>
<line x1="444.83" y1="1209.07" x2="444.83" y2="1216.5" stroke="#111" stroke-width="1.1"/>
<line x1="444.83" y1="1880.5" x2="444.83" y2="1887.48" stroke="#111" stroke-width="1.1"/>
<text transform="translate(595.66,1204.62) scale(1.0011,1.4854)" font-size="9.9" font-weight="bold" font-family='"Liberation Sans", sans-serif' fill="#111" text-anchor="middle" textLength="52.2" lengthAdjust="spacingAndGlyphs">52°35'0"E</text>
<text transform="translate(595.66,1903.08) scale(1.0011,1.4854)" font-size="9.9" font-weight="bold" font-family='"Liberation Sans", sans-serif' fill="#111" text-anchor="middle" textLength="52.2" lengthAdjust="spacingAndGlyphs">52°35'0"E</text>
<line x1="595.66" y1="1209.07" x2="595.66" y2="1216.5" stroke="#111" stroke-width="1.1"/>
<line x1="595.66" y1="1880.5" x2="595.66" y2="1887.48" stroke="#111" stroke-width="1.1"/>
<text transform="translate(746.49,1204.62) scale(1.0011,1.4854)" font-size="9.9" font-weight="bold" font-family='"Liberation Sans", sans-serif' fill="#111" text-anchor="middle" textLength="52.2" lengthAdjust="spacingAndGlyphs">52°40'0"E</text>
<text transform="translate(746.49,1903.08) scale(1.0011,1.4854)" font-size="9.9" font-weight="bold" font-family='"Liberation Sans", sans-serif' fill="#111" text-anchor="middle" textLength="52.2" lengthAdjust="spacingAndGlyphs">52°40'0"E</text>
<line x1="746.49" y1="1209.07" x2="746.49" y2="1216.5" stroke="#111" stroke-width="1.1"/>
<line x1="746.49" y1="1880.5" x2="746.49" y2="1887.48" stroke="#111" stroke-width="1.1"/>
<text transform="translate(152.69,1285.94) scale(1.0011,1.4854)" font-size="9.9" font-weight="bold" font-family='"Liberation Sans", sans-serif' fill="#111" text-anchor="end" textLength="52.2" lengthAdjust="spacingAndGlyphs">29°45'0"N</text>
<text transform="translate(810.81,1285.94) scale(1.0011,1.4854)" font-size="9.9" font-weight="bold" font-family='"Liberation Sans", sans-serif' fill="#111" text-anchor="start" textLength="52.2" lengthAdjust="spacingAndGlyphs">29°45'0"N</text>
<line x1="153.99" y1="1280" x2="159" y2="1280" stroke="#111" stroke-width="1.4"/>
<line x1="805" y1="1280" x2="810.01" y2="1280" stroke="#111" stroke-width="1.4"/>
<text transform="translate(152.69,1489.44) scale(1.0011,1.4854)" font-size="9.9" font-weight="bold" font-family='"Liberation Sans", sans-serif' fill="#111" text-anchor="end" textLength="52.2" lengthAdjust="spacingAndGlyphs">29°40'0"N</text>
<text transform="translate(810.81,1489.44) scale(1.0011,1.4854)" font-size="9.9" font-weight="bold" font-family='"Liberation Sans", sans-serif' fill="#111" text-anchor="start" textLength="52.2" lengthAdjust="spacingAndGlyphs">29°40'0"N</text>
<line x1="153.99" y1="1483.5" x2="159" y2="1483.5" stroke="#111" stroke-width="1.4"/>
<line x1="805" y1="1483.5" x2="810.01" y2="1483.5" stroke="#111" stroke-width="1.4"/>
<text transform="translate(152.69,1692.94) scale(1.0011,1.4854)" font-size="9.9" font-weight="bold" font-family='"Liberation Sans", sans-serif' fill="#111" text-anchor="end" textLength="52.2" lengthAdjust="spacingAndGlyphs">29°35'0"N</text>
<text transform="translate(810.81,1692.94) scale(1.0011,1.4854)" font-size="9.9" font-weight="bold" font-family='"Liberation Sans", sans-serif' fill="#111" text-anchor="start" textLength="52.2" lengthAdjust="spacingAndGlyphs">29°35'0"N</text>
<line x1="153.99" y1="1687" x2="159" y2="1687" stroke="#111" stroke-width="1.4"/>
<line x1="805" y1="1687" x2="810.01" y2="1687" stroke="#111" stroke-width="1.4"/>
<g>
</g>
<line x1="159" y1="1215.8" x2="159" y2="1881.25" stroke="#111" stroke-width="1.5"/>
<line x1="159" y1="1216.5" x2="805" y2="1216.5" stroke="#111" stroke-width="1.4"/>
<line x1="805" y1="1215.8" x2="805" y2="1881.25" stroke="#111" stroke-width="1.4"/>
<line x1="159" y1="1880.5" x2="805" y2="1880.5" stroke="#111" stroke-width="1.5"/>
</g>
<!-- panel 6 -->
<g clip-path="url(#clip6)"><g filter="url(#ramp6)">
<rect x="1090.02" y="1185.38" width="548.72" height="676.32" fill="#454545"/>
<rect x="-200" y="-20" width="3000" height="3000" fill="url(#rg93)"/>
<polygon points="1100,1150 1400,1150 1400,1450 1100,1450" fill="url(#lg94)"/>
<polygon points="1100,1150 1400,1150 1400,1396 1100,1396" fill="url(#lg95)"/>
<rect x="1283" y="1348" width="94" height="94" fill="url(#rg96)"/>
<rect x="1192" y="1323" width="104" height="104" fill="url(#rg97)"/>
<rect x="1237.1" y="1415.1" width="125.8" height="125.8" fill="url(#rg98)"/>
<rect x="1301" y="1548" width="88" height="88" fill="url(#rg99)"/>
<polygon points="1380,1538 1372,1560 1376,1610 1315,1582 1246,1664 1150,1760 1150,1950 1700,1950 1700,1450 1400,1500" fill="url(#lg100)" filter="url(#b2_5)"/>
<rect x="1318" y="1568" width="64" height="64" fill="url(#rg101)"/>
<rect x="1354.8" y="1575" width="30" height="30" fill="url(#rg102)"/>
<rect x="1368" y="1578" width="64" height="64" fill="url(#rg103)"/>
<rect x="1425" y="1593" width="44" height="44" fill="url(#rg104)"/>
<rect x="1526" y="1704" width="76" height="76" fill="url(#rg105)"/>
<rect x="1410" y="1639" width="36" height="36" fill="url(#rg106)"/>
<rect x="1450" y="1680" width="36" height="36" fill="url(#rg107)"/>
<rect x="1475" y="1672" width="36" height="36" fill="url(#rg108)"/>
<rect x="1452" y="1612" width="30" height="30" fill="url(#rg109)"/>
</g></g>
<g>
<ellipse cx="1243.58" cy="1375.12" rx="1.75" ry="2.62" fill="#a80f0f" stroke="#2a0808" stroke-width="0.9"/>
<text x="1246.46" y="1371.42" font-size="7.93" font-family='"Liberation Sans", sans-serif' fill="#141414" font-weight="bold">w25</text>
<ellipse cx="1308.73" cy="1481.06" rx="1.75" ry="2.62" fill="#a80f0f" stroke="#2a0808" stroke-width="0.9"/>
<text x="1311.61" y="1477.36" font-size="7.93" font-family='"Liberation Sans", sans-serif' fill="#141414" font-weight="bold">w5</text>
<ellipse cx="1349.12" cy="1555.38" rx="1.75" ry="2.62" fill="#a80f0f" stroke="#2a0808" stroke-width="0.9"/>
<text x="1352" y="1551.68" font-size="7.93" font-family='"Liberation Sans", sans-serif' fill="#141414" font-weight="bold">w34</text>
<ellipse cx="1387.14" cy="1565.87" rx="1.75" ry="2.62" fill="#a80f0f" stroke="#2a0808" stroke-width="0.9"/>
<text x="1390.02" y="1562.17" font-size="7.93" font-family='"Liberation Sans", sans-serif' fill="#141414" font-weight="bold">w39</text>
<ellipse cx="1391.15" cy="1572.65" rx="1.75" ry="2.62" fill="#a80f0f" stroke="#2a0808" stroke-width="0.9"/>
<text x="1394.02" y="1568.95" font-size="7.93" font-family='"Liberation Sans", sans-serif' fill="#141414" font-weight="bold">w31</text>
<ellipse cx="1365.87" cy="1582.67" rx="1.75" ry="2.62" fill="#a80f0f" stroke="#2a0808" stroke-width="0.9"/>
<text x="1368.75" y="1578.97" font-size="7.93" font-family='"Liberation Sans", sans-serif' fill="#141414" font-weight="bold">w1</text>
<ellipse cx="1381.8" cy="1580.82" rx="1.75" ry="2.62" fill="#a80f0f" stroke="#2a0808" stroke-width="0.9"/>
<text x="1384.67" y="1577.12" font-size="7.93" font-family='"Liberation Sans", sans-serif' fill="#141414" font-weight="bold">w9</text>
<ellipse cx="1369.16" cy="1592.39" rx="1.75" ry="2.62" fill="#a80f0f" stroke="#2a0808" stroke-width="0.9"/>
<text x="1372.03" y="1588.69" font-size="7.93" font-family='"Liberation Sans", sans-serif' fill="#141414" font-weight="bold">w3</text>
<ellipse cx="1398.34" cy="1587.61" rx="1.75" ry="2.62" fill="#a80f0f" stroke="#2a0808" stroke-width="0.9"/>
<text x="1401.22" y="1583.91" font-size="7.93" font-family='"Liberation Sans", sans-serif' fill="#141414" font-weight="bold">w18</text>
<ellipse cx="1388.48" cy="1593.01" rx="1.75" ry="2.62" fill="#a80f0f" stroke="#2a0808" stroke-width="0.9"/>
<text x="1391.35" y="1589.3" font-size="7.93" font-family='"Liberation Sans", sans-serif' fill="#141414" font-weight="bold">w16</text>
<ellipse cx="1402.35" cy="1593.01" rx="1.75" ry="2.62" fill="#a80f0f" stroke="#2a0808" stroke-width="0.9"/>
<text x="1405.23" y="1589.3" font-size="7.93" font-family='"Liberation Sans", sans-serif' fill="#141414" font-weight="bold">w4</text>
<ellipse cx="1374.91" cy="1602.41" rx="1.75" ry="2.62" fill="#a80f0f" stroke="#2a0808" stroke-width="0.9"/>
<text x="1377.79" y="1598.71" font-size="7.93" font-family='"Liberation Sans", sans-serif' fill="#141414" font-weight="bold">w14</text>
<ellipse cx="1398.34" cy="1606.42" rx="1.75" ry="2.62" fill="#a80f0f" stroke="#2a0808" stroke-width="0.9"/>
<text x="1401.22" y="1602.72" font-size="7.93" font-family='"Liberation Sans", sans-serif' fill="#141414" font-weight="bold">w35</text>
<ellipse cx="1386.32" cy="1611.35" rx="1.75" ry="2.62" fill="#a80f0f" stroke="#2a0808" stroke-width="0.9"/>
<text x="1389.19" y="1607.65" font-size="7.93" font-family='"Liberation Sans", sans-serif' fill="#141414" font-weight="bold">w10</text>
<ellipse cx="1392.07" cy="1613.82" rx="1.75" ry="2.62" fill="#a80f0f" stroke="#2a0808" stroke-width="0.9"/>
<text x="1394.95" y="1610.12" font-size="7.93" font-family='"Liberation Sans", sans-serif' fill="#141414" font-weight="bold">w21</text>
<ellipse cx="1406.46" cy="1613.21" rx="1.75" ry="2.62" fill="#a80f0f" stroke="#2a0808" stroke-width="0.9"/>
<text x="1409.34" y="1609.5" font-size="7.93" font-family='"Liberation Sans", sans-serif' fill="#141414" font-weight="bold">w20</text>
<ellipse cx="1424.13" cy="1613.98" rx="1.75" ry="2.62" fill="#a80f0f" stroke="#2a0808" stroke-width="0.9"/>
<text x="1427.01" y="1610.28" font-size="7.93" font-family='"Liberation Sans", sans-serif' fill="#141414" font-weight="bold">w11</text>
<ellipse cx="1426.29" cy="1618.6" rx="1.75" ry="2.62" fill="#a80f0f" stroke="#2a0808" stroke-width="0.9"/>
<text x="1429.17" y="1614.9" font-size="7.93" font-family='"Liberation Sans", sans-serif' fill="#141414" font-weight="bold">w24</text>
<ellipse cx="1447.05" cy="1615.98" rx="1.75" ry="2.62" fill="#a80f0f" stroke="#2a0808" stroke-width="0.9"/>
<text x="1449.93" y="1612.28" font-size="7.93" font-family='"Liberation Sans", sans-serif' fill="#141414" font-weight="bold">w29</text>
<ellipse cx="1431.74" cy="1626" rx="1.75" ry="2.62" fill="#a80f0f" stroke="#2a0808" stroke-width="0.9"/>
<text x="1434.62" y="1622.3" font-size="7.93" font-family='"Liberation Sans", sans-serif' fill="#141414" font-weight="bold">w22</text>
<ellipse cx="1405.23" cy="1628.16" rx="1.75" ry="2.62" fill="#a80f0f" stroke="#2a0808" stroke-width="0.9"/>
<text x="1408.1" y="1624.46" font-size="7.93" font-family='"Liberation Sans", sans-serif' fill="#141414" font-weight="bold">w13</text>
<ellipse cx="1374.91" cy="1631.4" rx="1.75" ry="2.62" fill="#a80f0f" stroke="#2a0808" stroke-width="0.9"/>
<text x="1377.79" y="1627.7" font-size="7.93" font-family='"Liberation Sans", sans-serif' fill="#141414" font-weight="bold">w12</text>
<ellipse cx="1385.19" cy="1628.16" rx="1.75" ry="2.62" fill="#a80f0f" stroke="#2a0808" stroke-width="0.9"/>
<text x="1388.06" y="1624.46" font-size="7.93" font-family='"Liberation Sans", sans-serif' fill="#141414" font-weight="bold">w41</text>
<ellipse cx="1383.95" cy="1637.11" rx="1.75" ry="2.62" fill="#a80f0f" stroke="#2a0808" stroke-width="0.9"/>
<text x="1386.83" y="1633.41" font-size="7.93" font-family='"Liberation Sans", sans-serif' fill="#141414" font-weight="bold">w15</text>
<ellipse cx="1405.53" cy="1640.04" rx="1.75" ry="2.62" fill="#a80f0f" stroke="#2a0808" stroke-width="0.9"/>
<text x="1408.41" y="1636.33" font-size="7.93" font-family='"Liberation Sans", sans-serif' fill="#141414" font-weight="bold">w23</text>
<ellipse cx="1371.31" cy="1646.51" rx="1.75" ry="2.62" fill="#a80f0f" stroke="#2a0808" stroke-width="0.9"/>
<text x="1374.19" y="1642.81" font-size="7.93" font-family='"Liberation Sans", sans-serif' fill="#141414" font-weight="bold">w17</text>
<ellipse cx="1465.44" cy="1627.55" rx="1.75" ry="2.62" fill="#a80f0f" stroke="#2a0808" stroke-width="0.9"/>
<text x="1468.32" y="1623.84" font-size="7.93" font-family='"Liberation Sans", sans-serif' fill="#141414" font-weight="bold">w8</text>
<ellipse cx="1485.79" cy="1644.66" rx="1.75" ry="2.62" fill="#a80f0f" stroke="#2a0808" stroke-width="0.9"/>
<text x="1488.67" y="1640.96" font-size="7.93" font-family='"Liberation Sans", sans-serif' fill="#141414" font-weight="bold">w33</text>
<ellipse cx="1428.96" cy="1658.39" rx="1.75" ry="2.62" fill="#a80f0f" stroke="#2a0808" stroke-width="0.9"/>
<text x="1431.84" y="1654.68" font-size="7.93" font-family='"Liberation Sans", sans-serif' fill="#141414" font-weight="bold">w37</text>
<ellipse cx="1503.77" cy="1661.31" rx="1.75" ry="2.62" fill="#a80f0f" stroke="#2a0808" stroke-width="0.9"/>
<text x="1506.65" y="1657.61" font-size="7.93" font-family='"Liberation Sans", sans-serif' fill="#141414" font-weight="bold">w6</text>
<ellipse cx="1362.89" cy="1685.22" rx="1.75" ry="2.62" fill="#a80f0f" stroke="#2a0808" stroke-width="0.9"/>
<text x="1365.77" y="1681.51" font-size="7.93" font-family='"Liberation Sans", sans-serif' fill="#141414" font-weight="bold">w2</text>
<ellipse cx="1468.63" cy="1699.86" rx="1.75" ry="2.62" fill="#a80f0f" stroke="#2a0808" stroke-width="0.9"/>
<text x="1471.51" y="1696.16" font-size="7.93" font-family='"Liberation Sans", sans-serif' fill="#141414" font-weight="bold">w36</text>
<ellipse cx="1492.68" cy="1691.69" rx="1.75" ry="2.62" fill="#a80f0f" stroke="#2a0808" stroke-width="0.9"/>
<text x="1495.55" y="1687.99" font-size="7.93" font-family='"Liberation Sans", sans-serif' fill="#141414" font-weight="bold">w32</text>
<ellipse cx="1524.53" cy="1699.86" rx="1.75" ry="2.62" fill="#a80f0f" stroke="#2a0808" stroke-width="0.9"/>
<text x="1527.41" y="1696.16" font-size="7.93" font-family='"Liberation Sans", sans-serif' fill="#141414" font-weight="bold">w38</text>
<ellipse cx="1519.19" cy="1729.01" rx="1.75" ry="2.62" fill="#a80f0f" stroke="#2a0808" stroke-width="0.9"/>
<text x="1522.06" y="1725.31" font-size="7.93" font-family='"Liberation Sans", sans-serif' fill="#141414" font-weight="bold">w40</text>
<ellipse cx="1501.1" cy="1757.23" rx="1.75" ry="2.62" fill="#a80f0f" stroke="#2a0808" stroke-width="0.9"/>
<text x="1503.98" y="1753.52" font-size="7.93" font-family='"Liberation Sans", sans-serif' fill="#141414" font-weight="bold">w3</text>
<ellipse cx="1543.44" cy="1755.99" rx="1.75" ry="2.62" fill="#a80f0f" stroke="#2a0808" stroke-width="0.9"/>
<text x="1546.32" y="1752.29" font-size="7.93" font-family='"Liberation Sans", sans-serif' fill="#141414" font-weight="bold">w7</text>
<ellipse cx="1564.2" cy="1746.28" rx="1.75" ry="2.62" fill="#a80f0f" stroke="#2a0808" stroke-width="0.9"/>
<text x="1567.07" y="1742.58" font-size="7.93" font-family='"Liberation Sans", sans-serif' fill="#141414" font-weight="bold">w28</text>
<g transform="matrix(1.0276,0,0,1.5420,848.67,1153.08)">
<text x="431.3" y="69.3" font-size="19.7" font-family='"Liberation Sans", sans-serif' fill="#111" textLength="125.3" lengthAdjust="spacingAndGlyphs" font-weight="bold">Wet season</text>
<text x="560.5" y="67.5" font-size="8" font-family='"Liberation Serif", serif' fill="#222" textLength="20.5" lengthAdjust="spacingAndGlyphs" font-weight="bold">(B7)</text>
<g transform="translate(758.6,91.6)" fill="none" stroke="#1a1a1a">
<ellipse rx="24.2" ry="22.6" stroke-width="1"/>
<ellipse rx="22.4" ry="20.8" stroke-width="0.7"/>
<ellipse rx="16" ry="15" stroke-width="0.9" stroke-dasharray="0.9 3.2" stroke="#555"/>
<polygon transform="rotate(0)" points="0,-23 -2.2,-8.5 2.2,-8.5" fill="#111" stroke="none"/>
<polygon transform="rotate(180)" points="0,-23 -2.2,-8.5 2.2,-8.5" fill="#111" stroke="none"/>
<polygon transform="rotate(270)" points="0,-21 -1.6,-8.5 1.6,-8.5" fill="#111" stroke="none"/>
<polygon transform="rotate(90)" points="0,-31 -2.7,-8.5 2.7,-8.5" fill="#111" stroke="none"/>
<polygon transform="rotate(45)" points="0,-19 -2.4,-8.5 2.4,-8.5" fill="#111" stroke="none"/>
<polygon transform="rotate(135)" points="0,-19 -2.4,-8.5 2.4,-8.5" fill="#111" stroke="none"/>
<polygon transform="rotate(225)" points="0,-19 -2.4,-8.5 2.4,-8.5" fill="#111" stroke="none"/>
<polygon transform="rotate(315)" points="0,-19 -2.4,-8.5 2.4,-8.5" fill="#111" stroke="none"/>
<line x1="-29" y1="0" x2="-9" y2="0" stroke-width="0.8"/><line x1="9" y1="0" x2="35" y2="0" stroke-width="1"/>
<line x1="0" y1="-30" x2="0" y2="-9" stroke-width="0.9"/><line x1="0" y1="9" x2="0" y2="27" stroke-width="0.9"/>
<ellipse rx="9.4" ry="8.8" stroke-width="1.5" fill="#fff"/>
<ellipse rx="5" ry="4.6" stroke-width="0.8"/>
</g>
<text x="761.6" y="56.1" font-size="13.5" font-family='"Liberation Serif", serif' fill="#222" text-anchor="middle" font-style="italic" opacity="0.8">N</text>
<text x="760.6" y="137.1" font-size="13.5" font-family='"Liberation Serif", serif' fill="#222" text-anchor="middle" font-style="italic" opacity="0.8">S</text>
<text x="717.6" y="96.1" font-size="13.5" font-family='"Liberation Serif", serif' fill="#222" text-anchor="middle" font-style="italic" opacity="0.8">W</text>
<text x="799.6" y="96.1" font-size="13.5" font-family='"Liberation Serif", serif' fill="#222" text-anchor="middle" font-style="italic" opacity="0.8">E</text>
<g transform="translate(1.95,-5.51)">
<text x="189.3" y="406.5" font-size="11.4" font-family='"Liberation Sans", sans-serif' fill="#111" textLength="18.5" lengthAdjust="spacingAndGlyphs" font-weight="bold">Mn</text>
<text x="211.8" y="407" font-size="9.3" font-family='"Liberation Serif", serif' fill="#222" textLength="24.5" lengthAdjust="spacingAndGlyphs" font-weight="bold">(ppb)</text>
<text x="189.3" y="425" font-size="11.6" font-family='"Liberation Sans", sans-serif' fill="#111" textLength="34.7" lengthAdjust="spacingAndGlyphs" font-weight="bold">Value</text>
<rect x="188.5" y="432.1" width="24.4" height="24.2" fill="url(#lg110)"/>
<text x="220.6" y="437" font-size="12.3" font-family='"Liberation Sans", sans-serif' fill="#111" textLength="80.99" lengthAdjust="spacingAndGlyphs" font-weight="bold">High : 159.90</text>
<text x="220.6" y="461.2" font-size="12.3" font-family='"Liberation Sans", sans-serif' fill="#111" textLength="64.2" lengthAdjust="spacingAndGlyphs" font-weight="bold">Low : 4.00</text>
</g>
<g transform="translate(0,0)">
<rect x="425.8" y="452.6" width="203.2" height="8.6" fill="#fff" stroke="#000" stroke-width="1"/>
<rect x="425.8" y="452.6" width="10.1" height="4.3" fill="#000"/>
<rect x="435.9" y="456.9" width="10.2" height="4.3" fill="#000"/>
<rect x="446.1" y="452.6" width="10.3" height="4.3" fill="#000"/>
<rect x="456.4" y="456.9" width="10.4" height="4.3" fill="#000"/>
<rect x="466.8" y="452.6" width="40.6" height="4.3" fill="#000"/>
<rect x="507.4" y="456.9" width="40.6" height="4.3" fill="#000"/>
<rect x="548" y="452.6" width="40.5" height="4.3" fill="#000"/>
<rect x="588.5" y="456.9" width="40.5" height="4.3" fill="#000"/>
<text x="426" y="448.2" font-size="8.4" font-family='"Liberation Sans", sans-serif' fill="#111" text-anchor="middle">2.5</text>
<text x="446" y="448.2" font-size="8.4" font-family='"Liberation Sans", sans-serif' fill="#111" text-anchor="middle">1.25</text>
<text x="466.8" y="448.2" font-size="8.4" font-family='"Liberation Sans", sans-serif' fill="#111" text-anchor="middle">0</text>
<text x="507.4" y="448.2" font-size="8.4" font-family='"Liberation Sans", sans-serif' fill="#111" text-anchor="middle">2.5</text>
<text x="548" y="448.2" font-size="8.4" font-family='"Liberation Sans", sans-serif' fill="#111" text-anchor="middle">5</text>
<text x="588.5" y="448.2" font-size="8.4" font-family='"Liberation Sans", sans-serif' fill="#111" text-anchor="middle">7.5</text>
<text x="629" y="448.2" font-size="8.4" font-family='"Liberation Sans", sans-serif' fill="#111" text-anchor="middle">10</text>
<text x="633" y="460.3" font-size="8.2" font-family='"Liberation Sans", sans-serif' fill="#111" textLength="44.5" lengthAdjust="spacingAndGlyphs">Kilometers</text>
</g>
</g>
<text transform="translate(1169.8,1191.66) scale(1.0276,1.5420)" font-size="9.9" font-weight="bold" font-family='"Liberation Sans", sans-serif' fill="#111" text-anchor="middle" textLength="52.2" lengthAdjust="spacingAndGlyphs">52°25'0"E</text>
<text transform="translate(1169.8,1917.14) scale(1.0276,1.5420)" font-size="9.9" font-weight="bold" font-family='"Liberation Sans", sans-serif' fill="#111" text-anchor="middle" textLength="52.2" lengthAdjust="spacingAndGlyphs">52°25'0"E</text>
<line x1="1169.8" y1="1196.29" x2="1169.8" y2="1204" stroke="#111" stroke-width="1.1"/>
<line x1="1169.8" y1="1893.7" x2="1169.8" y2="1900.95" stroke="#111" stroke-width="1.1"/>
<text transform="translate(1324.63,1191.66) scale(1.0276,1.5420)" font-size="9.9" font-weight="bold" font-family='"Liberation Sans", sans-serif' fill="#111" text-anchor="middle" textLength="52.2" lengthAdjust="spacingAndGlyphs">52°30'0"E</text>
<text transform="translate(1324.63,1917.14) scale(1.0276,1.5420)" font-size="9.9" font-weight="bold" font-family='"Liberation Sans", sans-serif' fill="#111" text-anchor="middle" textLength="52.2" lengthAdjust="spacingAndGlyphs">52°30'0"E</text>
<line x1="1324.63" y1="1196.29" x2="1324.63" y2="1204" stroke="#111" stroke-width="1.1"/>
<line x1="1324.63" y1="1893.7" x2="1324.63" y2="1900.95" stroke="#111" stroke-width="1.1"/>
<text transform="translate(1479.46,1191.66) scale(1.0276,1.5420)" font-size="9.9" font-weight="bold" font-family='"Liberation Sans", sans-serif' fill="#111" text-anchor="middle" textLength="52.2" lengthAdjust="spacingAndGlyphs">52°35'0"E</text>
<text transform="translate(1479.46,1917.14) scale(1.0276,1.5420)" font-size="9.9" font-weight="bold" font-family='"Liberation Sans", sans-serif' fill="#111" text-anchor="middle" textLength="52.2" lengthAdjust="spacingAndGlyphs">52°35'0"E</text>
<line x1="1479.46" y1="1196.29" x2="1479.46" y2="1204" stroke="#111" stroke-width="1.1"/>
<line x1="1479.46" y1="1893.7" x2="1479.46" y2="1900.95" stroke="#111" stroke-width="1.1"/>
<text transform="translate(1634.29,1191.66) scale(1.0276,1.5420)" font-size="9.9" font-weight="bold" font-family='"Liberation Sans", sans-serif' fill="#111" text-anchor="middle" textLength="52.2" lengthAdjust="spacingAndGlyphs">52°40'0"E</text>
<text transform="translate(1634.29,1917.14) scale(1.0276,1.5420)" font-size="9.9" font-weight="bold" font-family='"Liberation Sans", sans-serif' fill="#111" text-anchor="middle" textLength="52.2" lengthAdjust="spacingAndGlyphs">52°40'0"E</text>
<line x1="1634.29" y1="1196.29" x2="1634.29" y2="1204" stroke="#111" stroke-width="1.1"/>
<line x1="1634.29" y1="1893.7" x2="1634.29" y2="1900.95" stroke="#111" stroke-width="1.1"/>
<text transform="translate(1025.83,1275.67) scale(1.0276,1.5420)" font-size="9.9" font-weight="bold" font-family='"Liberation Sans", sans-serif' fill="#111" text-anchor="end" textLength="52.2" lengthAdjust="spacingAndGlyphs">29°45'0"N</text>
<text transform="translate(1699.46,1275.67) scale(1.0276,1.5420)" font-size="9.9" font-weight="bold" font-family='"Liberation Sans", sans-serif' fill="#111" text-anchor="start" textLength="52.2" lengthAdjust="spacingAndGlyphs">29°45'0"N</text>
<line x1="1027.16" y1="1269.5" x2="1032.3" y2="1269.5" stroke="#111" stroke-width="1.4"/>
<line x1="1693.5" y1="1269.5" x2="1698.64" y2="1269.5" stroke="#111" stroke-width="1.4"/>
<text transform="translate(1025.83,1486.92) scale(1.0276,1.5420)" font-size="9.9" font-weight="bold" font-family='"Liberation Sans", sans-serif' fill="#111" text-anchor="end" textLength="52.2" lengthAdjust="spacingAndGlyphs">29°40'0"N</text>
<text transform="translate(1699.46,1486.92) scale(1.0276,1.5420)" font-size="9.9" font-weight="bold" font-family='"Liberation Sans", sans-serif' fill="#111" text-anchor="start" textLength="52.2" lengthAdjust="spacingAndGlyphs">29°40'0"N</text>
<line x1="1027.16" y1="1480.75" x2="1032.3" y2="1480.75" stroke="#111" stroke-width="1.4"/>
<line x1="1693.5" y1="1480.75" x2="1698.64" y2="1480.75" stroke="#111" stroke-width="1.4"/>
<text transform="translate(1025.83,1698.17) scale(1.0276,1.5420)" font-size="9.9" font-weight="bold" font-family='"Liberation Sans", sans-serif' fill="#111" text-anchor="end" textLength="52.2" lengthAdjust="spacingAndGlyphs">29°35'0"N</text>
<text transform="translate(1699.46,1698.17) scale(1.0276,1.5420)" font-size="9.9" font-weight="bold" font-family='"Liberation Sans", sans-serif' fill="#111" text-anchor="start" textLength="52.2" lengthAdjust="spacingAndGlyphs">29°35'0"N</text>
<line x1="1027.16" y1="1692" x2="1032.3" y2="1692" stroke="#111" stroke-width="1.4"/>
<line x1="1693.5" y1="1692" x2="1698.64" y2="1692" stroke="#111" stroke-width="1.4"/>
<g>
</g>
<line x1="1032.3" y1="1203.3" x2="1032.3" y2="1894.5" stroke="#111" stroke-width="1.7"/>
<line x1="1032.3" y1="1204" x2="1693.5" y2="1204" stroke="#111" stroke-width="1.4"/>
<line x1="1693.5" y1="1203.3" x2="1693.5" y2="1894.5" stroke="#111" stroke-width="1.4"/>
<line x1="1032.3" y1="1893.7" x2="1693.5" y2="1893.7" stroke="#111" stroke-width="1.6"/>
</g>
<!-- panel 7 -->
<g filter="url(#pb7)" class="pb">
<g clip-path="url(#clip7)"><g filter="url(#ramp7)">
<rect x="182.75" y="2005.48" width="573.77" height="540.09" fill="#757575"/>
<polygon points="150,2000 460,2000 460,2290 150,2290" fill="url(#lg111)"/>
<rect x="380" y="2126" width="80" height="80" fill="url(#rg112)"/>
<rect x="290.3" y="2108.3" width="104" height="104" fill="url(#rg113)"/>
<rect x="354" y="2184" width="84" height="84" fill="url(#rg114)"/>
<rect x="377" y="2208.4" width="68" height="68" fill="url(#rg115)"/>
<polygon points="280,2310 330,2300 420,2290 470,2290 500,2318 490,2338 470,2355 464,2365 375,2432 330,2440 270,2370" fill="#b0b0b0" filter="url(#b3_5)"/>
<polygon points="300,2255 470,2255 470,2312 300,2312" fill="url(#lg116)"/>
<polygon points="340,2365 420,2340 470,2345 400,2380" fill="#bdbdbd" filter="url(#b5)" opacity="0.8"/>
<polygon points="330,2400 400,2380 450,2375 380,2432 340,2440" fill="#999999" filter="url(#b6)" opacity="0.8"/>
<polygon points="440,2280 470,2288 500,2300 540,2305 570,2325 560,2352 530,2350 495,2330 460,2312 435,2300" fill="#cccccc" filter="url(#b4)"/>
<rect x="394.5" y="2244" width="104" height="104" fill="url(#rg117)"/>
<rect x="410.5" y="2259" width="72" height="72" fill="url(#rg118)"/>
<polygon points="588,2316 612,2290 645,2308 622,2338 600,2338" fill="url(#lg119)" filter="url(#b2)"/>
<polygon points="420,2440 520,2420 560,2440 560,2520 420,2500" fill="#6b6b6b" filter="url(#b8)" opacity="0.8"/>
<polygon points="545,2440 640,2450 680,2515 560,2515" fill="#616161" filter="url(#b7)"/>
<polygon points="628,2400 650,2398 740,2402 740,2480 690,2510 650,2475 625,2440" fill="#404040" filter="url(#b6)"/>
<rect x="668" y="2438" width="64" height="64" fill="url(#rg120)"/>
<rect x="424.5" y="2361.5" width="89" height="89" fill="url(#rg121)"/>
<rect x="453.8" y="2385" width="30" height="30" fill="url(#rg122)"/>
<rect x="461" y="2313" width="30" height="30" fill="url(#rg123)"/>
<rect x="493.7" y="2312.4" width="28" height="28" fill="url(#rg124)"/>
<rect x="479.3" y="2329.7" width="28" height="28" fill="url(#rg125)"/>
<rect x="498.4" y="2350.3" width="30" height="30" fill="url(#rg126)"/>
<rect x="460.4" y="2352.6" width="34" height="34" fill="url(#rg127)"/>
<rect x="505.9" y="2347.7" width="64" height="64" fill="url(#rg128)"/>
<rect x="557.8" y="2337.6" width="38" height="38" fill="url(#rg129)"/>
<rect x="602.2" y="2366" width="30" height="30" fill="url(#rg130)"/>
<rect x="591.2" y="2392.6" width="26" height="26" fill="url(#rg131)"/>
<rect x="621.8" y="2394.4" width="34" height="34" fill="url(#rg132)"/>
<rect x="616" y="2417.4" width="34" height="34" fill="url(#rg133)"/>
<rect x="631.5" y="2430" width="52" height="52" fill="url(#rg134)"/>
<rect x="655" y="2424" width="48" height="48" fill="url(#rg135)"/>
<rect x="485" y="2301" width="22" height="22" fill="url(#rg136)"/>
<rect x="474.8" y="2341" width="34" height="34" fill="url(#rg137)"/>
<rect x="518.6" y="2327.2" width="30" height="30" fill="url(#rg138)"/>
<rect x="544.2" y="2335.5" width="22" height="22" fill="url(#rg139)"/>
<rect x="581" y="2352.2" width="32" height="32" fill="url(#rg140)"/>
<rect x="597.2" y="2380" width="40" height="40" fill="url(#rg141)"/>
<rect x="588.9" y="2432.9" width="48" height="48" fill="url(#rg142)"/>
<rect x="601.9" y="2445.9" width="22" height="22" fill="url(#rg143)"/>
</g></g>
<circle cx="342.59" cy="2160.12" r="2.3" fill="#0a0a0a"/>
<text x="345.62" y="2157.25" font-size="6.1" font-family='"Liberation Sans", sans-serif' fill="#0a0a0a" font-weight="bold" class="wl">w25</text>
<circle cx="411.11" cy="2242.49" r="2.3" fill="#0a0a0a"/>
<text x="414.14" y="2239.61" font-size="6.1" font-family='"Liberation Sans", sans-serif' fill="#0a0a0a" font-weight="bold" class="wl">w5</text>
<circle cx="453.58" cy="2300.28" r="2.3" fill="#0a0a0a"/>
<text x="456.61" y="2297.4" font-size="6.1" font-family='"Liberation Sans", sans-serif' fill="#0a0a0a" font-weight="bold" class="wl">w34</text>
<circle cx="493.57" cy="2308.43" r="2.3" fill="#0a0a0a"/>
<text x="496.6" y="2305.55" font-size="6.1" font-family='"Liberation Sans", sans-serif' fill="#0a0a0a" font-weight="bold" class="wl">w39</text>
<circle cx="497.78" cy="2313.7" r="2.3" fill="#0a0a0a"/>
<text x="500.81" y="2310.83" font-size="6.1" font-family='"Liberation Sans", sans-serif' fill="#0a0a0a" font-weight="bold" class="wl">w31</text>
<circle cx="471.2" cy="2321.5" r="2.3" fill="#0a0a0a"/>
<text x="474.22" y="2318.62" font-size="6.1" font-family='"Liberation Sans", sans-serif' fill="#0a0a0a" font-weight="bold" class="wl">w1</text>
<circle cx="487.95" cy="2320.06" r="2.3" fill="#0a0a0a"/>
<text x="490.98" y="2317.18" font-size="6.1" font-family='"Liberation Sans", sans-serif' fill="#0a0a0a" font-weight="bold" class="wl">w9</text>
<circle cx="474.66" cy="2329.05" r="2.3" fill="#0a0a0a"/>
<text x="477.68" y="2326.17" font-size="6.1" font-family='"Liberation Sans", sans-serif' fill="#0a0a0a" font-weight="bold" class="wl">w3</text>
<circle cx="505.35" cy="2325.33" r="2.3" fill="#0a0a0a"/>
<text x="508.38" y="2322.46" font-size="6.1" font-family='"Liberation Sans", sans-serif' fill="#0a0a0a" font-weight="bold" class="wl">w18</text>
<circle cx="494.97" cy="2329.53" r="2.3" fill="#0a0a0a"/>
<text x="498" y="2326.65" font-size="6.1" font-family='"Liberation Sans", sans-serif' fill="#0a0a0a" font-weight="bold" class="wl">w16</text>
<circle cx="509.56" cy="2329.53" r="2.3" fill="#0a0a0a"/>
<text x="512.59" y="2326.65" font-size="6.1" font-family='"Liberation Sans", sans-serif' fill="#0a0a0a" font-weight="bold" class="wl">w4</text>
<circle cx="480.71" cy="2336.84" r="2.3" fill="#0a0a0a"/>
<text x="483.73" y="2333.97" font-size="6.1" font-family='"Liberation Sans", sans-serif' fill="#0a0a0a" font-weight="bold" class="wl">w14</text>
<circle cx="505.35" cy="2339.96" r="2.3" fill="#0a0a0a"/>
<text x="508.38" y="2337.08" font-size="6.1" font-family='"Liberation Sans", sans-serif' fill="#0a0a0a" font-weight="bold" class="wl">w35</text>
<circle cx="492.7" cy="2343.8" r="2.3" fill="#0a0a0a"/>
<text x="495.73" y="2340.92" font-size="6.1" font-family='"Liberation Sans", sans-serif' fill="#0a0a0a" font-weight="bold" class="wl">w10</text>
<circle cx="498.76" cy="2345.72" r="2.3" fill="#0a0a0a"/>
<text x="501.78" y="2342.84" font-size="6.1" font-family='"Liberation Sans", sans-serif' fill="#0a0a0a" font-weight="bold" class="wl">w21</text>
<circle cx="513.89" cy="2345.24" r="2.3" fill="#0a0a0a"/>
<text x="516.91" y="2342.36" font-size="6.1" font-family='"Liberation Sans", sans-serif' fill="#0a0a0a" font-weight="bold" class="wl">w20</text>
<circle cx="532.47" cy="2345.84" r="2.3" fill="#0a0a0a"/>
<text x="535.5" y="2342.96" font-size="6.1" font-family='"Liberation Sans", sans-serif' fill="#0a0a0a" font-weight="bold" class="wl">w11</text>
<circle cx="534.74" cy="2349.43" r="2.3" fill="#0a0a0a"/>
<text x="537.77" y="2346.55" font-size="6.1" font-family='"Liberation Sans", sans-serif' fill="#0a0a0a" font-weight="bold" class="wl">w24</text>
<circle cx="556.57" cy="2347.39" r="2.3" fill="#0a0a0a"/>
<text x="559.6" y="2344.52" font-size="6.1" font-family='"Liberation Sans", sans-serif' fill="#0a0a0a" font-weight="bold" class="wl">w29</text>
<circle cx="540.47" cy="2355.19" r="2.3" fill="#0a0a0a"/>
<text x="543.5" y="2352.31" font-size="6.1" font-family='"Liberation Sans", sans-serif' fill="#0a0a0a" font-weight="bold" class="wl">w22</text>
<circle cx="512.59" cy="2356.87" r="2.3" fill="#0a0a0a"/>
<text x="515.62" y="2353.99" font-size="6.1" font-family='"Liberation Sans", sans-serif' fill="#0a0a0a" font-weight="bold" class="wl">w13</text>
<circle cx="480.71" cy="2359.38" r="2.3" fill="#0a0a0a"/>
<text x="483.73" y="2356.51" font-size="6.1" font-family='"Liberation Sans", sans-serif' fill="#0a0a0a" font-weight="bold" class="wl">w12</text>
<circle cx="491.52" cy="2356.87" r="2.3" fill="#0a0a0a"/>
<text x="494.54" y="2353.99" font-size="6.1" font-family='"Liberation Sans", sans-serif' fill="#0a0a0a" font-weight="bold" class="wl">w41</text>
<circle cx="490.22" cy="2363.82" r="2.3" fill="#0a0a0a"/>
<text x="493.25" y="2360.94" font-size="6.1" font-family='"Liberation Sans", sans-serif' fill="#0a0a0a" font-weight="bold" class="wl">w15</text>
<circle cx="512.91" cy="2366.1" r="2.3" fill="#0a0a0a"/>
<text x="515.94" y="2363.22" font-size="6.1" font-family='"Liberation Sans", sans-serif' fill="#0a0a0a" font-weight="bold" class="wl">w23</text>
<circle cx="476.93" cy="2371.13" r="2.3" fill="#0a0a0a"/>
<text x="479.95" y="2368.25" font-size="6.1" font-family='"Liberation Sans", sans-serif' fill="#0a0a0a" font-weight="bold" class="wl">w17</text>
<circle cx="575.92" cy="2356.39" r="2.3" fill="#0a0a0a"/>
<text x="578.95" y="2353.51" font-size="6.1" font-family='"Liberation Sans", sans-serif' fill="#0a0a0a" font-weight="bold" class="wl">w8</text>
<circle cx="597.32" cy="2369.69" r="2.3" fill="#0a0a0a"/>
<text x="600.34" y="2366.82" font-size="6.1" font-family='"Liberation Sans", sans-serif' fill="#0a0a0a" font-weight="bold" class="wl">w33</text>
<circle cx="537.55" cy="2380.36" r="2.3" fill="#0a0a0a"/>
<text x="540.58" y="2377.49" font-size="6.1" font-family='"Liberation Sans", sans-serif' fill="#0a0a0a" font-weight="bold" class="wl">w37</text>
<circle cx="616.23" cy="2382.64" r="2.3" fill="#0a0a0a"/>
<text x="619.26" y="2379.76" font-size="6.1" font-family='"Liberation Sans", sans-serif' fill="#0a0a0a" font-weight="bold" class="wl">w6</text>
<circle cx="468.06" cy="2401.22" r="2.3" fill="#0a0a0a"/>
<text x="471.09" y="2398.35" font-size="6.1" font-family='"Liberation Sans", sans-serif' fill="#0a0a0a" font-weight="bold" class="wl">w2</text>
<circle cx="579.27" cy="2412.61" r="2.3" fill="#0a0a0a"/>
<text x="582.3" y="2409.74" font-size="6.1" font-family='"Liberation Sans", sans-serif' fill="#0a0a0a" font-weight="bold" class="wl">w36</text>
<circle cx="604.56" cy="2406.26" r="2.3" fill="#0a0a0a"/>
<text x="607.58" y="2403.38" font-size="6.1" font-family='"Liberation Sans", sans-serif' fill="#0a0a0a" font-weight="bold" class="wl">w32</text>
<circle cx="638.06" cy="2412.61" r="2.3" fill="#0a0a0a"/>
<text x="641.09" y="2409.74" font-size="6.1" font-family='"Liberation Sans", sans-serif' fill="#0a0a0a" font-weight="bold" class="wl">w38</text>
<circle cx="632.44" cy="2435.27" r="2.3" fill="#0a0a0a"/>
<text x="635.47" y="2432.4" font-size="6.1" font-family='"Liberation Sans", sans-serif' fill="#0a0a0a" font-weight="bold" class="wl">w40</text>
<circle cx="613.42" cy="2457.21" r="2.3" fill="#0a0a0a"/>
<text x="616.45" y="2454.34" font-size="6.1" font-family='"Liberation Sans", sans-serif' fill="#0a0a0a" font-weight="bold" class="wl">w3</text>
<circle cx="657.94" cy="2456.25" r="2.3" fill="#0a0a0a"/>
<text x="660.97" y="2453.38" font-size="6.1" font-family='"Liberation Sans", sans-serif' fill="#0a0a0a" font-weight="bold" class="wl">w7</text>
<circle cx="679.78" cy="2448.7" r="2.3" fill="#0a0a0a"/>
<text x="682.8" y="2445.82" font-size="6.1" font-family='"Liberation Sans", sans-serif' fill="#0a0a0a" font-weight="bold" class="wl">w28</text>
<g transform="matrix(1.0807,0,0,1.1989,-72.72,1987.48)">
<text x="434.6" y="69.3" font-size="19.7" font-family='"Liberation Sans", sans-serif' fill="#111" textLength="121.5" lengthAdjust="spacingAndGlyphs" font-weight="bold">Dry season</text>
<text x="560.5" y="67.5" font-size="8" font-family='"Liberation Serif", serif' fill="#222" textLength="20.5" lengthAdjust="spacingAndGlyphs" font-weight="bold">(A8)</text>
<g transform="translate(758.6,91.6)" fill="none" stroke="#1a1a1a">
<ellipse rx="24.2" ry="22.6" stroke-width="1"/>
<ellipse rx="22.4" ry="20.8" stroke-width="0.7"/>
<ellipse rx="16" ry="15" stroke-width="0.9" stroke-dasharray="0.9 3.2" stroke="#555"/>
<polygon transform="rotate(0)" points="0,-23 -2.2,-8.5 2.2,-8.5" fill="#111" stroke="none"/>
<polygon transform="rotate(180)" points="0,-23 -2.2,-8.5 2.2,-8.5" fill="#111" stroke="none"/>
<polygon transform="rotate(270)" points="0,-21 -1.6,-8.5 1.6,-8.5" fill="#111" stroke="none"/>
<polygon transform="rotate(90)" points="0,-31 -2.7,-8.5 2.7,-8.5" fill="#111" stroke="none"/>
<polygon transform="rotate(45)" points="0,-19 -2.4,-8.5 2.4,-8.5" fill="#111" stroke="none"/>
<polygon transform="rotate(135)" points="0,-19 -2.4,-8.5 2.4,-8.5" fill="#111" stroke="none"/>
<polygon transform="rotate(225)" points="0,-19 -2.4,-8.5 2.4,-8.5" fill="#111" stroke="none"/>
<polygon transform="rotate(315)" points="0,-19 -2.4,-8.5 2.4,-8.5" fill="#111" stroke="none"/>
<line x1="-29" y1="0" x2="-9" y2="0" stroke-width="0.8"/><line x1="9" y1="0" x2="35" y2="0" stroke-width="1"/>
<line x1="0" y1="-30" x2="0" y2="-9" stroke-width="0.9"/><line x1="0" y1="9" x2="0" y2="27" stroke-width="0.9"/>
<ellipse rx="9.4" ry="8.8" stroke-width="1.5" fill="#fff"/>
<ellipse rx="5" ry="4.6" stroke-width="0.8"/>
</g>
<text x="761.6" y="56.1" font-size="13.5" font-family='"Liberation Serif", serif' fill="#222" text-anchor="middle" font-style="italic" opacity="0.8">N</text>
<text x="760.6" y="137.1" font-size="13.5" font-family='"Liberation Serif", serif' fill="#222" text-anchor="middle" font-style="italic" opacity="0.8">S</text>
<text x="717.6" y="96.1" font-size="13.5" font-family='"Liberation Serif", serif' fill="#222" text-anchor="middle" font-style="italic" opacity="0.8">W</text>
<text x="799.6" y="96.1" font-size="13.5" font-family='"Liberation Serif", serif' fill="#222" text-anchor="middle" font-style="italic" opacity="0.8">E</text>
<g transform="translate(0,0)">

</g>
<g transform="translate(0,0)">
<rect x="425.8" y="452.6" width="203.2" height="8.6" fill="#fff" stroke="#000" stroke-width="1"/>
<rect x="425.8" y="452.6" width="10.1" height="4.3" fill="#000"/>
<rect x="435.9" y="456.9" width="10.2" height="4.3" fill="#000"/>
<rect x="446.1" y="452.6" width="10.3" height="4.3" fill="#000"/>
<rect x="456.4" y="456.9" width="10.4" height="4.3" fill="#000"/>
<rect x="466.8" y="452.6" width="40.6" height="4.3" fill="#000"/>
<rect x="507.4" y="456.9" width="40.6" height="4.3" fill="#000"/>
<rect x="548" y="452.6" width="40.5" height="4.3" fill="#000"/>
<rect x="588.5" y="456.9" width="40.5" height="4.3" fill="#000"/>
<text x="426" y="448.2" font-size="8.4" font-family='"Liberation Sans", sans-serif' fill="#111" text-anchor="middle">2.5</text>
<text x="446" y="448.2" font-size="8.4" font-family='"Liberation Sans", sans-serif' fill="#111" text-anchor="middle">1.25</text>
<text x="466.8" y="448.2" font-size="8.4" font-family='"Liberation Sans", sans-serif' fill="#111" text-anchor="middle">0</text>
<text x="507.4" y="448.2" font-size="8.4" font-family='"Liberation Sans", sans-serif' fill="#111" text-anchor="middle">2.5</text>
<text x="548" y="448.2" font-size="8.4" font-family='"Liberation Sans", sans-serif' fill="#111" text-anchor="middle">5</text>
<text x="588.5" y="448.2" font-size="8.4" font-family='"Liberation Sans", sans-serif' fill="#111" text-anchor="middle">7.5</text>
<text x="629" y="448.2" font-size="8.4" font-family='"Liberation Sans", sans-serif' fill="#111" text-anchor="middle">10</text>
<text x="633" y="460.3" font-size="8.2" font-family='"Liberation Sans", sans-serif' fill="#111" textLength="44.5" lengthAdjust="spacingAndGlyphs">Kilometers</text>
</g>
</g>
<text transform="translate(265,2015.91) scale(1.0807,1.1989)" font-size="9.9" font-weight="bold" font-family='"Liberation Sans", sans-serif' fill="#111" text-anchor="middle" textLength="52.2" lengthAdjust="spacingAndGlyphs">52°25'0"E</text>
<text transform="translate(265,2583.72) scale(1.0807,1.1989)" font-size="9.9" font-weight="bold" font-family='"Liberation Sans", sans-serif' fill="#111" text-anchor="middle" textLength="52.2" lengthAdjust="spacingAndGlyphs">52°25'0"E</text>
<line x1="265" y1="2019.51" x2="265" y2="2025.5" stroke="#111" stroke-width="1.1"/>
<line x1="265" y1="2565.5" x2="265" y2="2571.13" stroke="#111" stroke-width="1.1"/>
<text transform="translate(427.83,2015.91) scale(1.0807,1.1989)" font-size="9.9" font-weight="bold" font-family='"Liberation Sans", sans-serif' fill="#111" text-anchor="middle" textLength="52.2" lengthAdjust="spacingAndGlyphs">52°30'0"E</text>
<text transform="translate(427.83,2583.72) scale(1.0807,1.1989)" font-size="9.9" font-weight="bold" font-family='"Liberation Sans", sans-serif' fill="#111" text-anchor="middle" textLength="52.2" lengthAdjust="spacingAndGlyphs">52°30'0"E</text>
<line x1="427.83" y1="2019.51" x2="427.83" y2="2025.5" stroke="#111" stroke-width="1.1"/>
<line x1="427.83" y1="2565.5" x2="427.83" y2="2571.13" stroke="#111" stroke-width="1.1"/>
<text transform="translate(590.66,2015.91) scale(1.0807,1.1989)" font-size="9.9" font-weight="bold" font-family='"Liberation Sans", sans-serif' fill="#111" text-anchor="middle" textLength="52.2" lengthAdjust="spacingAndGlyphs">52°35'0"E</text>
<text transform="translate(590.66,2583.72) scale(1.0807,1.1989)" font-size="9.9" font-weight="bold" font-family='"Liberation Sans", sans-serif' fill="#111" text-anchor="middle" textLength="52.2" lengthAdjust="spacingAndGlyphs">52°35'0"E</text>
<line x1="590.66" y1="2019.51" x2="590.66" y2="2025.5" stroke="#111" stroke-width="1.1"/>
<line x1="590.66" y1="2565.5" x2="590.66" y2="2571.13" stroke="#111" stroke-width="1.1"/>
<text transform="translate(753.49,2015.91) scale(1.0807,1.1989)" font-size="9.9" font-weight="bold" font-family='"Liberation Sans", sans-serif' fill="#111" text-anchor="middle" textLength="52.2" lengthAdjust="spacingAndGlyphs">52°40'0"E</text>
<text transform="translate(753.49,2583.72) scale(1.0807,1.1989)" font-size="9.9" font-weight="bold" font-family='"Liberation Sans", sans-serif' fill="#111" text-anchor="middle" textLength="52.2" lengthAdjust="spacingAndGlyphs">52°40'0"E</text>
<line x1="753.49" y1="2019.51" x2="753.49" y2="2025.5" stroke="#111" stroke-width="1.1"/>
<line x1="753.49" y1="2565.5" x2="753.49" y2="2571.13" stroke="#111" stroke-width="1.1"/>
<text transform="translate(113.19,2082.8) scale(1.0807,1.1989)" font-size="9.9" font-weight="bold" font-family='"Liberation Sans", sans-serif' fill="#111" text-anchor="end" textLength="52.2" lengthAdjust="spacingAndGlyphs">29°45'0"N</text>
<text transform="translate(822.77,2082.8) scale(1.0807,1.1989)" font-size="9.9" font-weight="bold" font-family='"Liberation Sans", sans-serif' fill="#111" text-anchor="start" textLength="52.2" lengthAdjust="spacingAndGlyphs">29°45'0"N</text>
<line x1="114.6" y1="2078" x2="120" y2="2078" stroke="#111" stroke-width="1.4"/>
<line x1="816.5" y1="2078" x2="821.9" y2="2078" stroke="#111" stroke-width="1.4"/>
<text transform="translate(113.19,2247.05) scale(1.0807,1.1989)" font-size="9.9" font-weight="bold" font-family='"Liberation Sans", sans-serif' fill="#111" text-anchor="end" textLength="52.2" lengthAdjust="spacingAndGlyphs">29°40'0"N</text>
<text transform="translate(822.77,2247.05) scale(1.0807,1.1989)" font-size="9.9" font-weight="bold" font-family='"Liberation Sans", sans-serif' fill="#111" text-anchor="start" textLength="52.2" lengthAdjust="spacingAndGlyphs">29°40'0"N</text>
<line x1="114.6" y1="2242.25" x2="120" y2="2242.25" stroke="#111" stroke-width="1.4"/>
<line x1="816.5" y1="2242.25" x2="821.9" y2="2242.25" stroke="#111" stroke-width="1.4"/>
<text transform="translate(113.19,2411.3) scale(1.0807,1.1989)" font-size="9.9" font-weight="bold" font-family='"Liberation Sans", sans-serif' fill="#111" text-anchor="end" textLength="52.2" lengthAdjust="spacingAndGlyphs">29°35'0"N</text>
<text transform="translate(822.77,2411.3) scale(1.0807,1.1989)" font-size="9.9" font-weight="bold" font-family='"Liberation Sans", sans-serif' fill="#111" text-anchor="start" textLength="52.2" lengthAdjust="spacingAndGlyphs">29°35'0"N</text>
<line x1="114.6" y1="2406.5" x2="120" y2="2406.5" stroke="#111" stroke-width="1.4"/>
<line x1="816.5" y1="2406.5" x2="821.9" y2="2406.5" stroke="#111" stroke-width="1.4"/>
<g>
</g>
<text x="143" y="2453.8" font-size="24" font-family='"Liberation Serif", serif' fill="#111" font-weight="bold">Cr</text>
<text x="133.8" y="2477.9" font-size="12.7" font-family='"Liberation Sans", sans-serif' fill="#111" textLength="34" lengthAdjust="spacingAndGlyphs" font-weight="bold">Value</text>
<rect x="133.8" y="2488.6" width="38" height="40" fill="url(#lg145)"/>
<text x="182.7" y="2493.3" font-size="11.8" font-family='"Liberation Sans", sans-serif' fill="#111" textLength="37.6" lengthAdjust="spacingAndGlyphs" font-weight="bold">High :</text>
<text x="182.7" y="2534.3" font-size="11.8" font-family='"Liberation Sans", sans-serif' fill="#111" textLength="34.8" lengthAdjust="spacingAndGlyphs" font-weight="bold">Low :</text>
<text x="231.6" y="2499.9" font-size="22" font-family='"Liberation Serif", serif' fill="#111" textLength="36.6" lengthAdjust="spacingAndGlyphs" font-weight="bold">0.75</text>
<text x="231.6" y="2540.3" font-size="22" font-family='"Liberation Serif", serif' fill="#111" textLength="19.7" lengthAdjust="spacingAndGlyphs" font-weight="bold">42</text>
<line x1="120" y1="2024.7" x2="120" y2="2566.3" stroke="#666" stroke-width="1.6"/>
<line x1="120" y1="2025.5" x2="816.5" y2="2025.5" stroke="#666" stroke-width="1.6"/>
<line x1="816.5" y1="2024.7" x2="816.5" y2="2566.3" stroke="#666" stroke-width="1.6"/>
<line x1="120" y1="2565.5" x2="816.5" y2="2565.5" stroke="#666" stroke-width="1.6"/>
</g>
<!-- panel 8 -->
<g filter="url(#pb8)" class="pb">
<g clip-path="url(#clip8)"><g filter="url(#ramp8)">
<rect x="1131.02" y="2009.16" width="545.59" height="537.91" fill="#808080"/>
<polygon points="1100,2000 1420,2000 1420,2278 1100,2278" fill="url(#lg146)"/>
<polygon points="1100,2000 1420,2000 1420,2246 1100,2246" fill="url(#lg147)"/>
<rect x="1220.6" y="2099.6" width="128" height="128" fill="url(#rg148)"/>
<rect x="1309" y="2206" width="80" height="80" fill="url(#rg149)"/>
<polygon points="1230,2310 1290,2292 1370,2280 1430,2300 1480,2330 1490,2400 1480,2440 1470,2500 1420,2470 1340,2450 1290,2410 1235,2360" fill="url(#lg150)" filter="url(#b4)"/>
<polygon points="1230,2276 1400,2276 1400,2330 1230,2330" fill="url(#lg151)"/>
<rect x="1340" y="2253" width="96" height="96" fill="url(#rg152)"/>
<rect x="1356" y="2269.5" width="64" height="64" fill="url(#rg153)"/>
<polygon points="1492,2318 1528,2288 1568,2310 1542,2340 1512,2348" fill="#5e5e5e" filter="url(#b4)"/>
<rect x="1474" y="2329.5" width="60" height="60" fill="url(#rg154)"/>
<polygon points="1550,2402 1660,2402 1650,2470 1615,2510 1560,2510 1500,2490 1510,2450" fill="#5e5e5e" filter="url(#b7)"/>
<rect x="1566.7" y="2410.8" width="76" height="76" fill="url(#rg155)"/>
<rect x="1553.5" y="2429" width="58" height="58" fill="url(#rg156)"/>
<rect x="1570.5" y="2446" width="24" height="24" fill="url(#rg157)"/>
<rect x="1522.8" y="2381.3" width="40" height="40" fill="url(#rg158)"/>
<rect x="1532.8" y="2391.3" width="20" height="20" fill="url(#rg159)"/>
<rect x="1398" y="2313" width="64" height="64" fill="url(#rg160)"/>
<rect x="1396" y="2320" width="22" height="22" fill="url(#rg161)"/>
<rect x="1438" y="2336" width="24" height="24" fill="url(#rg162)"/>
<rect x="1413.5" y="2318" width="28" height="28" fill="url(#rg163)"/>
<rect x="1462" y="2348" width="20" height="20" fill="url(#rg164)"/>
<rect x="1458.3" y="2371" width="22" height="22" fill="url(#rg165)"/>
<rect x="1401.6" y="2362.5" width="20" height="20" fill="url(#rg166)"/>
<rect x="1409.8" y="2353.4" width="18" height="18" fill="url(#rg167)"/>
</g></g>
<circle cx="1283.81" cy="2163.25" r="2.3" fill="#0a0a0a"/>
<text x="1286.66" y="2160.39" font-size="5.91" font-family='"Liberation Sans", sans-serif' fill="#0a0a0a" font-weight="bold" class="wl">w25</text>
<circle cx="1348.54" cy="2245.24" r="2.3" fill="#0a0a0a"/>
<text x="1351.39" y="2242.37" font-size="5.91" font-family='"Liberation Sans", sans-serif' fill="#0a0a0a" font-weight="bold" class="wl">w5</text>
<circle cx="1388.66" cy="2302.76" r="2.3" fill="#0a0a0a"/>
<text x="1391.52" y="2299.9" font-size="5.91" font-family='"Liberation Sans", sans-serif' fill="#0a0a0a" font-weight="bold" class="wl">w34</text>
<circle cx="1426.44" cy="2310.88" r="2.3" fill="#0a0a0a"/>
<text x="1429.29" y="2308.01" font-size="5.91" font-family='"Liberation Sans", sans-serif' fill="#0a0a0a" font-weight="bold" class="wl">w39</text>
<circle cx="1430.42" cy="2316.13" r="2.3" fill="#0a0a0a"/>
<text x="1433.28" y="2313.26" font-size="5.91" font-family='"Liberation Sans", sans-serif' fill="#0a0a0a" font-weight="bold" class="wl">w31</text>
<circle cx="1405.3" cy="2323.89" r="2.3" fill="#0a0a0a"/>
<text x="1408.16" y="2321.02" font-size="5.91" font-family='"Liberation Sans", sans-serif' fill="#0a0a0a" font-weight="bold" class="wl">w1</text>
<circle cx="1421.13" cy="2322.45" r="2.3" fill="#0a0a0a"/>
<text x="1423.99" y="2319.59" font-size="5.91" font-family='"Liberation Sans", sans-serif' fill="#0a0a0a" font-weight="bold" class="wl">w9</text>
<circle cx="1408.57" cy="2331.4" r="2.3" fill="#0a0a0a"/>
<text x="1411.43" y="2328.54" font-size="5.91" font-family='"Liberation Sans", sans-serif' fill="#0a0a0a" font-weight="bold" class="wl">w3</text>
<circle cx="1437.56" cy="2327.7" r="2.3" fill="#0a0a0a"/>
<text x="1440.42" y="2324.84" font-size="5.91" font-family='"Liberation Sans", sans-serif' fill="#0a0a0a" font-weight="bold" class="wl">w18</text>
<circle cx="1427.76" cy="2331.88" r="2.3" fill="#0a0a0a"/>
<text x="1430.62" y="2329.02" font-size="5.91" font-family='"Liberation Sans", sans-serif' fill="#0a0a0a" font-weight="bold" class="wl">w16</text>
<circle cx="1441.55" cy="2331.88" r="2.3" fill="#0a0a0a"/>
<text x="1444.4" y="2329.02" font-size="5.91" font-family='"Liberation Sans", sans-serif' fill="#0a0a0a" font-weight="bold" class="wl">w4</text>
<circle cx="1414.29" cy="2339.16" r="2.3" fill="#0a0a0a"/>
<text x="1417.14" y="2336.3" font-size="5.91" font-family='"Liberation Sans", sans-serif' fill="#0a0a0a" font-weight="bold" class="wl">w14</text>
<circle cx="1437.56" cy="2342.26" r="2.3" fill="#0a0a0a"/>
<text x="1440.42" y="2339.4" font-size="5.91" font-family='"Liberation Sans", sans-serif' fill="#0a0a0a" font-weight="bold" class="wl">w35</text>
<circle cx="1425.62" cy="2346.08" r="2.3" fill="#0a0a0a"/>
<text x="1428.48" y="2343.22" font-size="5.91" font-family='"Liberation Sans", sans-serif' fill="#0a0a0a" font-weight="bold" class="wl">w10</text>
<circle cx="1431.34" cy="2347.99" r="2.3" fill="#0a0a0a"/>
<text x="1434.2" y="2345.13" font-size="5.91" font-family='"Liberation Sans", sans-serif' fill="#0a0a0a" font-weight="bold" class="wl">w21</text>
<circle cx="1445.63" cy="2347.52" r="2.3" fill="#0a0a0a"/>
<text x="1448.49" y="2344.65" font-size="5.91" font-family='"Liberation Sans", sans-serif' fill="#0a0a0a" font-weight="bold" class="wl">w20</text>
<circle cx="1463.19" cy="2348.11" r="2.3" fill="#0a0a0a"/>
<text x="1466.05" y="2345.25" font-size="5.91" font-family='"Liberation Sans", sans-serif' fill="#0a0a0a" font-weight="bold" class="wl">w11</text>
<circle cx="1465.33" cy="2351.69" r="2.3" fill="#0a0a0a"/>
<text x="1468.19" y="2348.83" font-size="5.91" font-family='"Liberation Sans", sans-serif' fill="#0a0a0a" font-weight="bold" class="wl">w24</text>
<circle cx="1485.96" cy="2349.66" r="2.3" fill="#0a0a0a"/>
<text x="1488.82" y="2346.8" font-size="5.91" font-family='"Liberation Sans", sans-serif' fill="#0a0a0a" font-weight="bold" class="wl">w29</text>
<circle cx="1470.75" cy="2357.42" r="2.3" fill="#0a0a0a"/>
<text x="1473.6" y="2354.56" font-size="5.91" font-family='"Liberation Sans", sans-serif' fill="#0a0a0a" font-weight="bold" class="wl">w22</text>
<circle cx="1444.4" cy="2359.09" r="2.3" fill="#0a0a0a"/>
<text x="1447.26" y="2356.23" font-size="5.91" font-family='"Liberation Sans", sans-serif' fill="#0a0a0a" font-weight="bold" class="wl">w13</text>
<circle cx="1414.29" cy="2361.6" r="2.3" fill="#0a0a0a"/>
<text x="1417.14" y="2358.73" font-size="5.91" font-family='"Liberation Sans", sans-serif' fill="#0a0a0a" font-weight="bold" class="wl">w12</text>
<circle cx="1424.5" cy="2359.09" r="2.3" fill="#0a0a0a"/>
<text x="1427.35" y="2356.23" font-size="5.91" font-family='"Liberation Sans", sans-serif' fill="#0a0a0a" font-weight="bold" class="wl">w41</text>
<circle cx="1423.27" cy="2366.01" r="2.3" fill="#0a0a0a"/>
<text x="1426.13" y="2363.15" font-size="5.91" font-family='"Liberation Sans", sans-serif' fill="#0a0a0a" font-weight="bold" class="wl">w15</text>
<circle cx="1444.71" cy="2368.28" r="2.3" fill="#0a0a0a"/>
<text x="1447.57" y="2365.42" font-size="5.91" font-family='"Liberation Sans", sans-serif' fill="#0a0a0a" font-weight="bold" class="wl">w23</text>
<circle cx="1410.71" cy="2373.29" r="2.3" fill="#0a0a0a"/>
<text x="1413.57" y="2370.43" font-size="5.91" font-family='"Liberation Sans", sans-serif' fill="#0a0a0a" font-weight="bold" class="wl">w17</text>
<circle cx="1504.23" cy="2358.61" r="2.3" fill="#0a0a0a"/>
<text x="1507.09" y="2355.75" font-size="5.91" font-family='"Liberation Sans", sans-serif' fill="#0a0a0a" font-weight="bold" class="wl">w8</text>
<circle cx="1524.45" cy="2371.86" r="2.3" fill="#0a0a0a"/>
<text x="1527.31" y="2369" font-size="5.91" font-family='"Liberation Sans", sans-serif' fill="#0a0a0a" font-weight="bold" class="wl">w33</text>
<circle cx="1467.99" cy="2382.48" r="2.3" fill="#0a0a0a"/>
<text x="1470.85" y="2379.62" font-size="5.91" font-family='"Liberation Sans", sans-serif' fill="#0a0a0a" font-weight="bold" class="wl">w37</text>
<circle cx="1542.32" cy="2384.75" r="2.3" fill="#0a0a0a"/>
<text x="1545.17" y="2381.89" font-size="5.91" font-family='"Liberation Sans", sans-serif' fill="#0a0a0a" font-weight="bold" class="wl">w6</text>
<circle cx="1402.34" cy="2403.25" r="2.3" fill="#0a0a0a"/>
<text x="1405.2" y="2400.38" font-size="5.91" font-family='"Liberation Sans", sans-serif' fill="#0a0a0a" font-weight="bold" class="wl">w2</text>
<circle cx="1507.4" cy="2414.59" r="2.3" fill="#0a0a0a"/>
<text x="1510.26" y="2411.72" font-size="5.91" font-family='"Liberation Sans", sans-serif' fill="#0a0a0a" font-weight="bold" class="wl">w36</text>
<circle cx="1531.29" cy="2408.26" r="2.3" fill="#0a0a0a"/>
<text x="1534.15" y="2405.4" font-size="5.91" font-family='"Liberation Sans", sans-serif' fill="#0a0a0a" font-weight="bold" class="wl">w32</text>
<circle cx="1562.94" cy="2414.59" r="2.3" fill="#0a0a0a"/>
<text x="1565.8" y="2411.72" font-size="5.91" font-family='"Liberation Sans", sans-serif' fill="#0a0a0a" font-weight="bold" class="wl">w38</text>
<circle cx="1557.63" cy="2437.14" r="2.3" fill="#0a0a0a"/>
<text x="1560.49" y="2434.28" font-size="5.91" font-family='"Liberation Sans", sans-serif' fill="#0a0a0a" font-weight="bold" class="wl">w40</text>
<circle cx="1539.66" cy="2458.98" r="2.3" fill="#0a0a0a"/>
<text x="1542.52" y="2456.12" font-size="5.91" font-family='"Liberation Sans", sans-serif' fill="#0a0a0a" font-weight="bold" class="wl">w3</text>
<circle cx="1581.73" cy="2458.03" r="2.3" fill="#0a0a0a"/>
<text x="1584.58" y="2455.16" font-size="5.91" font-family='"Liberation Sans", sans-serif' fill="#0a0a0a" font-weight="bold" class="wl">w7</text>
<circle cx="1602.35" cy="2450.51" r="2.3" fill="#0a0a0a"/>
<text x="1605.21" y="2447.64" font-size="5.91" font-family='"Liberation Sans", sans-serif' fill="#0a0a0a" font-weight="bold" class="wl">w28</text>
<g transform="matrix(1.0210,0,0,1.1934,891.45,1991.4)">
<text x="431.3" y="69.3" font-size="19.7" font-family='"Liberation Sans", sans-serif' fill="#111" textLength="125.3" lengthAdjust="spacingAndGlyphs" font-weight="bold">Wet season</text>
<text x="560.5" y="67.5" font-size="8" font-family='"Liberation Serif", serif' fill="#222" textLength="20.5" lengthAdjust="spacingAndGlyphs" font-weight="bold">(B8)</text>
<g transform="translate(758.6,91.6)" fill="none" stroke="#1a1a1a">
<ellipse rx="24.2" ry="22.6" stroke-width="1"/>
<ellipse rx="22.4" ry="20.8" stroke-width="0.7"/>
<ellipse rx="16" ry="15" stroke-width="0.9" stroke-dasharray="0.9 3.2" stroke="#555"/>
<polygon transform="rotate(0)" points="0,-23 -2.2,-8.5 2.2,-8.5" fill="#111" stroke="none"/>
<polygon transform="rotate(180)" points="0,-23 -2.2,-8.5 2.2,-8.5" fill="#111" stroke="none"/>
<polygon transform="rotate(270)" points="0,-21 -1.6,-8.5 1.6,-8.5" fill="#111" stroke="none"/>
<polygon transform="rotate(90)" points="0,-31 -2.7,-8.5 2.7,-8.5" fill="#111" stroke="none"/>
<polygon transform="rotate(45)" points="0,-19 -2.4,-8.5 2.4,-8.5" fill="#111" stroke="none"/>
<polygon transform="rotate(135)" points="0,-19 -2.4,-8.5 2.4,-8.5" fill="#111" stroke="none"/>
<polygon transform="rotate(225)" points="0,-19 -2.4,-8.5 2.4,-8.5" fill="#111" stroke="none"/>
<polygon transform="rotate(315)" points="0,-19 -2.4,-8.5 2.4,-8.5" fill="#111" stroke="none"/>
<line x1="-29" y1="0" x2="-9" y2="0" stroke-width="0.8"/><line x1="9" y1="0" x2="35" y2="0" stroke-width="1"/>
<line x1="0" y1="-30" x2="0" y2="-9" stroke-width="0.9"/><line x1="0" y1="9" x2="0" y2="27" stroke-width="0.9"/>
<ellipse rx="9.4" ry="8.8" stroke-width="1.5" fill="#fff"/>
<ellipse rx="5" ry="4.6" stroke-width="0.8"/>
</g>
<text x="761.6" y="56.1" font-size="13.5" font-family='"Liberation Serif", serif' fill="#222" text-anchor="middle" font-style="italic" opacity="0.8">N</text>
<text x="760.6" y="137.1" font-size="13.5" font-family='"Liberation Serif", serif' fill="#222" text-anchor="middle" font-style="italic" opacity="0.8">S</text>
<text x="717.6" y="96.1" font-size="13.5" font-family='"Liberation Serif", serif' fill="#222" text-anchor="middle" font-style="italic" opacity="0.8">W</text>
<text x="799.6" y="96.1" font-size="13.5" font-family='"Liberation Serif", serif' fill="#222" text-anchor="middle" font-style="italic" opacity="0.8">E</text>
<g transform="translate(0,0)">

</g>
<g transform="translate(0,0)">
<rect x="425.8" y="452.6" width="203.2" height="8.6" fill="#fff" stroke="#000" stroke-width="1"/>
<rect x="425.8" y="452.6" width="10.1" height="4.3" fill="#000"/>
<rect x="435.9" y="456.9" width="10.2" height="4.3" fill="#000"/>
<rect x="446.1" y="452.6" width="10.3" height="4.3" fill="#000"/>
<rect x="456.4" y="456.9" width="10.4" height="4.3" fill="#000"/>
<rect x="466.8" y="452.6" width="40.6" height="4.3" fill="#000"/>
<rect x="507.4" y="456.9" width="40.6" height="4.3" fill="#000"/>
<rect x="548" y="452.6" width="40.5" height="4.3" fill="#000"/>
<rect x="588.5" y="456.9" width="40.5" height="4.3" fill="#000"/>
<text x="426" y="448.2" font-size="8.4" font-family='"Liberation Sans", sans-serif' fill="#111" text-anchor="middle">2.5</text>
<text x="446" y="448.2" font-size="8.4" font-family='"Liberation Sans", sans-serif' fill="#111" text-anchor="middle">1.25</text>
<text x="466.8" y="448.2" font-size="8.4" font-family='"Liberation Sans", sans-serif' fill="#111" text-anchor="middle">0</text>
<text x="507.4" y="448.2" font-size="8.4" font-family='"Liberation Sans", sans-serif' fill="#111" text-anchor="middle">2.5</text>
<text x="548" y="448.2" font-size="8.4" font-family='"Liberation Sans", sans-serif' fill="#111" text-anchor="middle">5</text>
<text x="588.5" y="448.2" font-size="8.4" font-family='"Liberation Sans", sans-serif' fill="#111" text-anchor="middle">7.5</text>
<text x="629" y="448.2" font-size="8.4" font-family='"Liberation Sans", sans-serif' fill="#111" text-anchor="middle">10</text>
<text x="633" y="460.3" font-size="8.2" font-family='"Liberation Sans", sans-serif' fill="#111" textLength="44.5" lengthAdjust="spacingAndGlyphs">Kilometers</text>
</g>
</g>
<text transform="translate(1210.5,2021.95) scale(1.0210,1.1934)" font-size="9.9" font-weight="bold" font-family='"Liberation Sans", sans-serif' fill="#111" text-anchor="middle" textLength="52.2" lengthAdjust="spacingAndGlyphs">52°25'0"E</text>
<text transform="translate(1210.5,2583.64) scale(1.0210,1.1934)" font-size="9.9" font-weight="bold" font-family='"Liberation Sans", sans-serif' fill="#111" text-anchor="middle" textLength="52.2" lengthAdjust="spacingAndGlyphs">52°25'0"E</text>
<line x1="1210.5" y1="2025.53" x2="1210.5" y2="2031.5" stroke="#111" stroke-width="1.1"/>
<line x1="1210.5" y1="2565.5" x2="1210.5" y2="2571.11" stroke="#111" stroke-width="1.1"/>
<text transform="translate(1364.33,2021.95) scale(1.0210,1.1934)" font-size="9.9" font-weight="bold" font-family='"Liberation Sans", sans-serif' fill="#111" text-anchor="middle" textLength="52.2" lengthAdjust="spacingAndGlyphs">52°30'0"E</text>
<text transform="translate(1364.33,2583.64) scale(1.0210,1.1934)" font-size="9.9" font-weight="bold" font-family='"Liberation Sans", sans-serif' fill="#111" text-anchor="middle" textLength="52.2" lengthAdjust="spacingAndGlyphs">52°30'0"E</text>
<line x1="1364.33" y1="2025.53" x2="1364.33" y2="2031.5" stroke="#111" stroke-width="1.1"/>
<line x1="1364.33" y1="2565.5" x2="1364.33" y2="2571.11" stroke="#111" stroke-width="1.1"/>
<text transform="translate(1518.16,2021.95) scale(1.0210,1.1934)" font-size="9.9" font-weight="bold" font-family='"Liberation Sans", sans-serif' fill="#111" text-anchor="middle" textLength="52.2" lengthAdjust="spacingAndGlyphs">52°35'0"E</text>
<text transform="translate(1518.16,2583.64) scale(1.0210,1.1934)" font-size="9.9" font-weight="bold" font-family='"Liberation Sans", sans-serif' fill="#111" text-anchor="middle" textLength="52.2" lengthAdjust="spacingAndGlyphs">52°35'0"E</text>
<line x1="1518.16" y1="2025.53" x2="1518.16" y2="2031.5" stroke="#111" stroke-width="1.1"/>
<line x1="1518.16" y1="2565.5" x2="1518.16" y2="2571.11" stroke="#111" stroke-width="1.1"/>
<text transform="translate(1671.99,2021.95) scale(1.0210,1.1934)" font-size="9.9" font-weight="bold" font-family='"Liberation Sans", sans-serif' fill="#111" text-anchor="middle" textLength="52.2" lengthAdjust="spacingAndGlyphs">52°40'0"E</text>
<text transform="translate(1671.99,2583.64) scale(1.0210,1.1934)" font-size="9.9" font-weight="bold" font-family='"Liberation Sans", sans-serif' fill="#111" text-anchor="middle" textLength="52.2" lengthAdjust="spacingAndGlyphs">52°40'0"E</text>
<line x1="1671.99" y1="2025.53" x2="1671.99" y2="2031.5" stroke="#111" stroke-width="1.1"/>
<line x1="1671.99" y1="2565.5" x2="1671.99" y2="2571.11" stroke="#111" stroke-width="1.1"/>
<text transform="translate(1065.07,2086.27) scale(1.0210,1.1934)" font-size="9.9" font-weight="bold" font-family='"Liberation Sans", sans-serif' fill="#111" text-anchor="end" textLength="52.2" lengthAdjust="spacingAndGlyphs">29°45'0"N</text>
<text transform="translate(1740.42,2086.27) scale(1.0210,1.1934)" font-size="9.9" font-weight="bold" font-family='"Liberation Sans", sans-serif' fill="#111" text-anchor="start" textLength="52.2" lengthAdjust="spacingAndGlyphs">29°45'0"N</text>
<line x1="1066.4" y1="2081.5" x2="1071.5" y2="2081.5" stroke="#111" stroke-width="1.4"/>
<line x1="1734.5" y1="2081.5" x2="1739.6" y2="2081.5" stroke="#111" stroke-width="1.4"/>
<text transform="translate(1065.07,2249.77) scale(1.0210,1.1934)" font-size="9.9" font-weight="bold" font-family='"Liberation Sans", sans-serif' fill="#111" text-anchor="end" textLength="52.2" lengthAdjust="spacingAndGlyphs">29°40'0"N</text>
<text transform="translate(1740.42,2249.77) scale(1.0210,1.1934)" font-size="9.9" font-weight="bold" font-family='"Liberation Sans", sans-serif' fill="#111" text-anchor="start" textLength="52.2" lengthAdjust="spacingAndGlyphs">29°40'0"N</text>
<line x1="1066.4" y1="2245" x2="1071.5" y2="2245" stroke="#111" stroke-width="1.4"/>
<line x1="1734.5" y1="2245" x2="1739.6" y2="2245" stroke="#111" stroke-width="1.4"/>
<text transform="translate(1065.07,2413.27) scale(1.0210,1.1934)" font-size="9.9" font-weight="bold" font-family='"Liberation Sans", sans-serif' fill="#111" text-anchor="end" textLength="52.2" lengthAdjust="spacingAndGlyphs">29°35'0"N</text>
<text transform="translate(1740.42,2413.27) scale(1.0210,1.1934)" font-size="9.9" font-weight="bold" font-family='"Liberation Sans", sans-serif' fill="#111" text-anchor="start" textLength="52.2" lengthAdjust="spacingAndGlyphs">29°35'0"N</text>
<line x1="1066.4" y1="2408.5" x2="1071.5" y2="2408.5" stroke="#111" stroke-width="1.4"/>
<line x1="1734.5" y1="2408.5" x2="1739.6" y2="2408.5" stroke="#111" stroke-width="1.4"/>
<g>
</g>
<text x="1091.5" y="2464.2" font-size="24" font-family='"Liberation Serif", serif' fill="#111">Cr</text>
<text x="1086.7" y="2491.4" font-size="12.7" font-family='"Liberation Sans", sans-serif' fill="#111" textLength="34.8" lengthAdjust="spacingAndGlyphs" font-weight="bold">Value</text>
<rect x="1086.3" y="2501.2" width="24.8" height="28.2" fill="url(#lg169)"/>
<text x="1119.5" y="2506.1" font-size="11.8" font-family='"Liberation Sans", sans-serif' fill="#111" textLength="37.6" lengthAdjust="spacingAndGlyphs" font-weight="bold">High :</text>
<text x="1119.5" y="2534.3" font-size="11.8" font-family='"Liberation Sans", sans-serif' fill="#111" textLength="34.8" lengthAdjust="spacingAndGlyphs" font-weight="bold">Low :</text>
<text x="1167.5" y="2508.3" font-size="22" font-family='"Liberation Serif", serif' fill="#111" textLength="33" lengthAdjust="spacingAndGlyphs">41.3</text>
<text x="1167.5" y="2539.4" font-size="22" font-family='"Liberation Serif", serif' fill="#111" textLength="23.5" lengthAdjust="spacingAndGlyphs">1.6</text>
<line x1="1071.5" y1="2030.5" x2="1071.5" y2="2566.6" stroke="#111" stroke-width="2.2"/>
<line x1="1071.5" y1="2031.5" x2="1734.5" y2="2031.5" stroke="#111" stroke-width="2"/>
<line x1="1734.5" y1="2030.5" x2="1734.5" y2="2566.6" stroke="#111" stroke-width="2"/>
<line x1="1071.5" y1="2565.5" x2="1734.5" y2="2565.5" stroke="#111" stroke-width="2.2"/>
</g>
<text x="1.3" y="26.6" font-size="37.5" font-weight="bold" font-family='"Liberation Serif", serif' fill="#000062">Cu</text>
<text x="0.8" y="588.6" font-size="37.5" font-weight="bold" font-family='"Liberation Serif", serif' fill="#000062">Zn</text>
<text x="2" y="1175.7" font-size="37.5" font-weight="bold" font-family='"Liberation Serif", serif' fill="#000062">Mn</text>
<text x="21.3" y="2004.8" font-size="37.5" font-weight="bold" font-family='"Liberation Serif", serif' fill="#000062">Cr</text>
</svg>
</body></html>
